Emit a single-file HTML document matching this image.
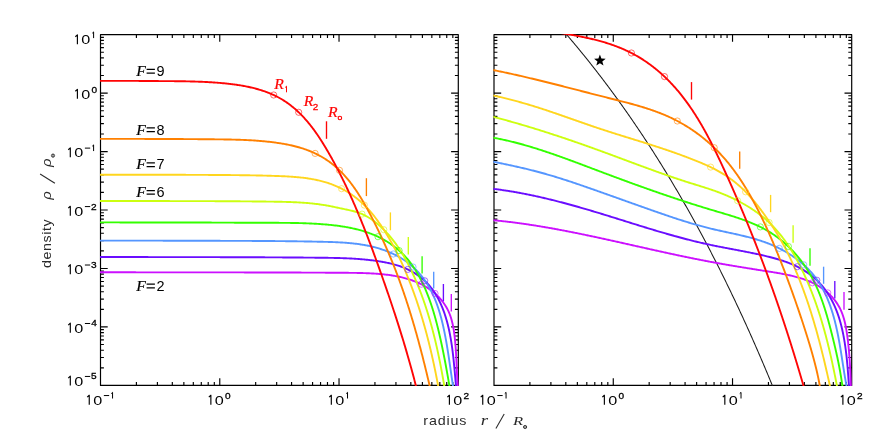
<!DOCTYPE html>
<html><head><meta charset="utf-8"><title>density profiles</title>
<style>
html,body{margin:0;padding:0;background:#fff;}
body{width:894px;height:447px;overflow:hidden;font-family:"Liberation Sans",sans-serif;}
svg{display:block;}
.s{font-family:"Liberation Sans",sans-serif;}
.i{font-family:"Liberation Serif",serif;font-style:italic;}
</style></head><body>
<svg width="894" height="447" viewBox="0 0 894 447" style="will-change:transform">
<rect width="894" height="447" fill="#fff"/>
<defs>
<clipPath id="cl"><rect x="99.9" y="34.05" width="359.00" height="351.95"/></clipPath>
<clipPath id="cr"><rect x="493.4" y="34.05" width="358.90" height="351.95"/></clipPath>
</defs>

<polygon points="599.90,54.50 601.40,58.54 605.70,58.71 602.33,61.39 603.49,65.54 599.90,63.15 596.31,65.54 597.47,61.39 594.10,58.71 598.40,58.54" fill="#000"/>
<g stroke="#000" stroke-width="1.18" fill="none" stroke-linecap="butt" stroke-linejoin="round">
<rect x="100.5" y="34.65" width="357.8" height="350.75"/>
<path d="M136.40,385.4v-3.4M136.40,34.65v3.4M157.40,385.4v-3.4M157.40,34.65v3.4M172.31,385.4v-3.4M172.31,34.65v3.4M183.86,385.4v-3.4M183.86,34.65v3.4M193.31,385.4v-3.4M193.31,34.65v3.4M201.29,385.4v-3.4M201.29,34.65v3.4M208.21,385.4v-3.4M208.21,34.65v3.4M214.31,385.4v-3.4M214.31,34.65v3.4M219.77,385.4v-7.2M219.77,34.65v7.2M255.67,385.4v-3.4M255.67,34.65v3.4M276.67,385.4v-3.4M276.67,34.65v3.4M291.57,385.4v-3.4M291.57,34.65v3.4M303.13,385.4v-3.4M303.13,34.65v3.4M312.57,385.4v-3.4M312.57,34.65v3.4M320.56,385.4v-3.4M320.56,34.65v3.4M327.48,385.4v-3.4M327.48,34.65v3.4M333.58,385.4v-3.4M333.58,34.65v3.4M339.03,385.4v-7.2M339.03,34.65v7.2M374.94,385.4v-3.4M374.94,34.65v3.4M395.94,385.4v-3.4M395.94,34.65v3.4M410.84,385.4v-3.4M410.84,34.65v3.4M422.40,385.4v-3.4M422.40,34.65v3.4M431.84,385.4v-3.4M431.84,34.65v3.4M439.83,385.4v-3.4M439.83,34.65v3.4M446.74,385.4v-3.4M446.74,34.65v3.4M452.84,385.4v-3.4M452.84,34.65v3.4M100.5,367.80h3.4M458.3,367.80h-3.4M100.5,357.51h3.4M458.3,357.51h-3.4M100.5,350.20h3.4M458.3,350.20h-3.4M100.5,344.54h3.4M458.3,344.54h-3.4M100.5,339.91h3.4M458.3,339.91h-3.4M100.5,336.00h3.4M458.3,336.00h-3.4M100.5,332.61h3.4M458.3,332.61h-3.4M100.5,329.62h3.4M458.3,329.62h-3.4M100.5,326.94h7.2M458.3,326.94h-7.2M100.5,309.34h3.4M458.3,309.34h-3.4M100.5,299.05h3.4M458.3,299.05h-3.4M100.5,291.75h3.4M458.3,291.75h-3.4M100.5,286.08h3.4M458.3,286.08h-3.4M100.5,281.45h3.4M458.3,281.45h-3.4M100.5,277.54h3.4M458.3,277.54h-3.4M100.5,274.15h3.4M458.3,274.15h-3.4M100.5,271.16h3.4M458.3,271.16h-3.4M100.5,268.48h7.2M458.3,268.48h-7.2M100.5,250.89h3.4M458.3,250.89h-3.4M100.5,240.59h3.4M458.3,240.59h-3.4M100.5,233.29h3.4M458.3,233.29h-3.4M100.5,227.62h3.4M458.3,227.62h-3.4M100.5,222.99h3.4M458.3,222.99h-3.4M100.5,219.08h3.4M458.3,219.08h-3.4M100.5,215.69h3.4M458.3,215.69h-3.4M100.5,212.70h3.4M458.3,212.70h-3.4M100.5,210.02h7.2M458.3,210.02h-7.2M100.5,192.43h3.4M458.3,192.43h-3.4M100.5,182.13h3.4M458.3,182.13h-3.4M100.5,174.83h3.4M458.3,174.83h-3.4M100.5,169.16h3.4M458.3,169.16h-3.4M100.5,164.54h3.4M458.3,164.54h-3.4M100.5,160.62h3.4M458.3,160.62h-3.4M100.5,157.23h3.4M458.3,157.23h-3.4M100.5,154.24h3.4M458.3,154.24h-3.4M100.5,151.57h7.2M458.3,151.57h-7.2M100.5,133.97h3.4M458.3,133.97h-3.4M100.5,123.67h3.4M458.3,123.67h-3.4M100.5,116.37h3.4M458.3,116.37h-3.4M100.5,110.71h3.4M458.3,110.71h-3.4M100.5,106.08h3.4M458.3,106.08h-3.4M100.5,102.16h3.4M458.3,102.16h-3.4M100.5,98.77h3.4M458.3,98.77h-3.4M100.5,95.78h3.4M458.3,95.78h-3.4M100.5,93.11h7.2M458.3,93.11h-7.2M100.5,75.51h3.4M458.3,75.51h-3.4M100.5,65.22h3.4M458.3,65.22h-3.4M100.5,57.91h3.4M458.3,57.91h-3.4M100.5,52.25h3.4M458.3,52.25h-3.4M100.5,47.62h3.4M458.3,47.62h-3.4M100.5,43.71h3.4M458.3,43.71h-3.4M100.5,40.32h3.4M458.3,40.32h-3.4M100.5,37.32h3.4M458.3,37.32h-3.4" stroke-width="1.15"/>
</g>
<g stroke="#000" stroke-width="1.18" fill="none" stroke-linecap="butt" stroke-linejoin="round">
<rect x="494.0" y="34.65" width="357.70000000000005" height="350.75"/>
<path d="M529.90,385.4v-3.4M529.90,34.65v3.4M550.90,385.4v-3.4M550.90,34.65v3.4M565.81,385.4v-3.4M565.81,34.65v3.4M577.36,385.4v-3.4M577.36,34.65v3.4M586.81,385.4v-3.4M586.81,34.65v3.4M594.79,385.4v-3.4M594.79,34.65v3.4M601.71,385.4v-3.4M601.71,34.65v3.4M607.81,385.4v-3.4M607.81,34.65v3.4M613.27,385.4v-7.2M613.27,34.65v7.2M649.17,385.4v-3.4M649.17,34.65v3.4M670.17,385.4v-3.4M670.17,34.65v3.4M685.07,385.4v-3.4M685.07,34.65v3.4M696.63,385.4v-3.4M696.63,34.65v3.4M706.07,385.4v-3.4M706.07,34.65v3.4M714.06,385.4v-3.4M714.06,34.65v3.4M720.98,385.4v-3.4M720.98,34.65v3.4M727.08,385.4v-3.4M727.08,34.65v3.4M732.53,385.4v-7.2M732.53,34.65v7.2M768.44,385.4v-3.4M768.44,34.65v3.4M789.44,385.4v-3.4M789.44,34.65v3.4M804.34,385.4v-3.4M804.34,34.65v3.4M815.90,385.4v-3.4M815.90,34.65v3.4M825.34,385.4v-3.4M825.34,34.65v3.4M833.33,385.4v-3.4M833.33,34.65v3.4M840.24,385.4v-3.4M840.24,34.65v3.4M846.34,385.4v-3.4M846.34,34.65v3.4M494.0,367.80h3.4M851.7,367.80h-3.4M494.0,357.51h3.4M851.7,357.51h-3.4M494.0,350.20h3.4M851.7,350.20h-3.4M494.0,344.54h3.4M851.7,344.54h-3.4M494.0,339.91h3.4M851.7,339.91h-3.4M494.0,336.00h3.4M851.7,336.00h-3.4M494.0,332.61h3.4M851.7,332.61h-3.4M494.0,329.62h3.4M851.7,329.62h-3.4M494.0,326.94h7.2M851.7,326.94h-7.2M494.0,309.34h3.4M851.7,309.34h-3.4M494.0,299.05h3.4M851.7,299.05h-3.4M494.0,291.75h3.4M851.7,291.75h-3.4M494.0,286.08h3.4M851.7,286.08h-3.4M494.0,281.45h3.4M851.7,281.45h-3.4M494.0,277.54h3.4M851.7,277.54h-3.4M494.0,274.15h3.4M851.7,274.15h-3.4M494.0,271.16h3.4M851.7,271.16h-3.4M494.0,268.48h7.2M851.7,268.48h-7.2M494.0,250.89h3.4M851.7,250.89h-3.4M494.0,240.59h3.4M851.7,240.59h-3.4M494.0,233.29h3.4M851.7,233.29h-3.4M494.0,227.62h3.4M851.7,227.62h-3.4M494.0,222.99h3.4M851.7,222.99h-3.4M494.0,219.08h3.4M851.7,219.08h-3.4M494.0,215.69h3.4M851.7,215.69h-3.4M494.0,212.70h3.4M851.7,212.70h-3.4M494.0,210.02h7.2M851.7,210.02h-7.2M494.0,192.43h3.4M851.7,192.43h-3.4M494.0,182.13h3.4M851.7,182.13h-3.4M494.0,174.83h3.4M851.7,174.83h-3.4M494.0,169.16h3.4M851.7,169.16h-3.4M494.0,164.54h3.4M851.7,164.54h-3.4M494.0,160.62h3.4M851.7,160.62h-3.4M494.0,157.23h3.4M851.7,157.23h-3.4M494.0,154.24h3.4M851.7,154.24h-3.4M494.0,151.57h7.2M851.7,151.57h-7.2M494.0,133.97h3.4M851.7,133.97h-3.4M494.0,123.67h3.4M851.7,123.67h-3.4M494.0,116.37h3.4M851.7,116.37h-3.4M494.0,110.71h3.4M851.7,110.71h-3.4M494.0,106.08h3.4M851.7,106.08h-3.4M494.0,102.16h3.4M851.7,102.16h-3.4M494.0,98.77h3.4M851.7,98.77h-3.4M494.0,95.78h3.4M851.7,95.78h-3.4M494.0,93.11h7.2M851.7,93.11h-7.2M494.0,75.51h3.4M851.7,75.51h-3.4M494.0,65.22h3.4M851.7,65.22h-3.4M494.0,57.91h3.4M851.7,57.91h-3.4M494.0,52.25h3.4M851.7,52.25h-3.4M494.0,47.62h3.4M851.7,47.62h-3.4M494.0,43.71h3.4M851.7,43.71h-3.4M494.0,40.32h3.4M851.7,40.32h-3.4M494.0,37.32h3.4M851.7,37.32h-3.4" stroke-width="1.15"/>
</g>
<g clip-path="url(#cl)" fill="none" stroke-linejoin="round">
<path d="M89.99,272.27 L90.90,272.27 L91.81,272.28 L92.72,272.28 L93.63,272.28 L94.54,272.28 L95.45,272.28 L96.36,272.28 L97.27,272.28 L98.18,272.29 L99.09,272.29 L100.00,272.29 L100.91,272.29 L101.82,272.29 L102.73,272.29 L103.64,272.29 L104.55,272.29 L105.46,272.29 L106.36,272.30 L107.27,272.30 L108.18,272.30 L109.09,272.30 L110.00,272.30 L110.91,272.30 L111.82,272.30 L112.73,272.30 L113.64,272.30 L114.55,272.31 L115.46,272.31 L116.37,272.31 L117.28,272.31 L118.19,272.31 L119.10,272.31 L120.01,272.31 L120.91,272.31 L121.82,272.31 L122.73,272.31 L123.64,272.31 L124.55,272.32 L125.46,272.32 L126.37,272.32 L127.28,272.32 L128.19,272.32 L129.10,272.32 L130.01,272.32 L130.92,272.32 L131.83,272.32 L132.74,272.32 L133.64,272.32 L134.55,272.32 L135.46,272.32 L136.37,272.33 L137.28,272.33 L138.19,272.33 L139.10,272.33 L140.01,272.33 L140.92,272.33 L141.83,272.33 L142.74,272.33 L143.65,272.33 L144.56,272.33 L145.46,272.33 L146.37,272.33 L147.28,272.33 L148.19,272.33 L149.10,272.33 L150.01,272.34 L150.92,272.34 L151.83,272.34 L152.74,272.34 L153.65,272.34 L154.56,272.34 L155.47,272.34 L156.37,272.34 L157.28,272.34 L158.19,272.34 L159.10,272.34 L160.01,272.34 L160.92,272.34 L161.83,272.34 L162.74,272.34 L163.65,272.34 L164.56,272.35 L165.47,272.35 L166.38,272.35 L167.28,272.35 L168.19,272.35 L169.10,272.35 L170.01,272.35 L170.92,272.35 L171.83,272.35 L172.74,272.35 L173.65,272.35 L174.56,272.35 L175.47,272.35 L176.38,272.35 L177.28,272.35 L178.19,272.35 L179.10,272.36 L180.01,272.36 L180.92,272.36 L181.83,272.36 L182.74,272.36 L183.65,272.36 L184.56,272.36 L185.47,272.36 L186.38,272.36 L187.28,272.36 L188.19,272.36 L189.10,272.36 L190.01,272.36 L190.92,272.36 L191.83,272.36 L192.74,272.37 L193.65,272.37 L194.56,272.37 L195.47,272.37 L196.38,272.37 L197.28,272.37 L198.19,272.37 L199.10,272.37 L200.01,272.37 L200.92,272.37 L201.83,272.37 L202.74,272.37 L203.65,272.37 L204.56,272.38 L205.47,272.38 L206.38,272.38 L207.29,272.38 L208.19,272.38 L209.10,272.38 L210.01,272.38 L210.92,272.38 L211.83,272.38 L212.74,272.38 L213.65,272.38 L214.56,272.39 L215.47,272.39 L216.38,272.39 L217.29,272.39 L218.19,272.39 L219.10,272.39 L220.01,272.39 L220.92,272.39 L221.83,272.39 L222.74,272.39 L223.65,272.40 L224.56,272.40 L225.47,272.40 L226.38,272.40 L227.29,272.40 L228.19,272.40 L229.10,272.40 L230.01,272.40 L230.92,272.41 L231.83,272.41 L232.74,272.41 L233.65,272.41 L234.56,272.41 L235.47,272.41 L236.38,272.41 L237.29,272.41 L238.20,272.42 L239.10,272.42 L240.01,272.42 L240.92,272.42 L241.83,272.42 L242.74,272.42 L243.65,272.42 L244.56,272.43 L245.47,272.43 L246.38,272.43 L247.29,272.43 L248.20,272.43 L249.11,272.43 L250.01,272.44 L250.92,272.44 L251.83,272.44 L252.74,272.44 L253.65,272.44 L254.56,272.44 L255.47,272.45 L256.38,272.45 L257.29,272.45 L258.20,272.45 L259.11,272.45 L260.02,272.46 L260.93,272.46 L261.83,272.46 L262.74,272.46 L263.65,272.46 L264.56,272.47 L265.47,272.47 L266.38,272.47 L267.29,272.47 L268.20,272.47 L269.11,272.48 L270.02,272.48 L270.93,272.48 L271.84,272.48 L272.75,272.49 L273.66,272.49 L274.57,272.49 L275.47,272.49 L276.38,272.49 L277.29,272.50 L278.20,272.50 L279.11,272.50 L280.02,272.50 L280.93,272.51 L281.84,272.51 L282.75,272.51 L283.66,272.51 L284.57,272.52 L285.48,272.52 L286.39,272.52 L287.30,272.53 L288.21,272.53 L289.12,272.53 L290.02,272.53 L290.93,272.54 L291.84,272.54 L292.75,272.54 L293.66,272.55 L294.57,272.55 L295.48,272.55 L296.39,272.56 L297.30,272.56 L298.21,272.56 L299.12,272.57 L300.03,272.57 L300.94,272.57 L301.85,272.58 L302.76,272.58 L303.67,272.58 L304.58,272.59 L305.49,272.59 L306.40,272.59 L307.31,272.60 L308.21,272.60 L309.12,272.60 L310.03,272.61 L310.94,272.61 L311.85,272.61 L312.76,272.62 L313.67,272.62 L314.58,272.63 L315.49,272.63 L316.40,272.63 L317.31,272.64 L318.22,272.64 L319.13,272.65 L320.04,272.65 L320.95,272.65 L321.86,272.66 L322.77,272.66 L323.68,272.67 L324.59,272.67 L325.50,272.68 L326.41,272.68 L327.32,272.69 L328.23,272.69 L329.13,272.69 L330.04,272.70 L330.95,272.70 L331.86,272.71 L332.77,272.72 L333.68,272.72 L334.59,272.73 L335.50,272.73 L336.41,272.74 L337.31,272.74 L338.22,272.75 L339.13,272.75 L340.04,272.76 L340.95,272.77 L341.85,272.77 L342.76,272.78 L343.67,272.79 L344.58,272.79 L345.48,272.80 L346.39,272.81 L347.30,272.82 L348.21,272.82 L349.11,272.83 L350.02,272.84 L350.92,272.85 L351.83,272.86 L352.74,272.87 L353.64,272.88 L354.55,272.89 L355.46,272.90 L356.36,272.92 L357.27,272.93 L358.18,272.95 L359.09,272.97 L359.99,272.99 L360.90,273.01 L361.81,273.03 L362.72,273.06 L363.63,273.08 L364.54,273.11 L365.45,273.14 L366.36,273.18 L367.27,273.21 L368.18,273.25 L369.10,273.29 L370.01,273.33 L370.92,273.38 L371.84,273.43 L372.75,273.48 L373.67,273.54 L374.59,273.59 L375.51,273.65 L376.43,273.72 L377.35,273.79 L378.27,273.86 L379.19,273.94 L380.11,274.01 L381.03,274.10 L381.95,274.19 L382.87,274.28 L383.79,274.37 L384.71,274.47 L385.63,274.58 L386.55,274.69 L387.47,274.80 L388.38,274.92 L389.30,275.05 L390.22,275.18 L391.13,275.31 L392.04,275.45 L392.95,275.60 L393.86,275.75 L394.77,275.91 L395.68,276.07 L396.58,276.24 L397.49,276.42 L398.39,276.60 L399.29,276.79 L400.18,276.99 L401.08,277.19 L401.97,277.40 L402.85,277.61 L403.74,277.84 L404.62,278.07 L405.50,278.30 L406.38,278.55 L407.25,278.80 L408.12,279.06 L408.99,279.33 L409.85,279.60 L410.71,279.89 L411.56,280.18 L412.41,280.48 L413.26,280.79 L414.10,281.11 L414.94,281.43 L415.77,281.76 L416.60,282.11 L417.43,282.46 L418.25,282.82 L419.06,283.19 L419.87,283.57 L420.67,283.96 L421.47,284.36 L422.27,284.77 L423.05,285.19 L423.84,285.61 L424.61,286.05 L425.38,286.50 L426.15,286.96 L426.91,287.43 L427.66,287.91 L428.40,288.40 L429.14,288.90 L429.87,289.41 L430.60,289.94 L431.32,290.47 L432.03,291.02 L432.73,291.57 L433.43,292.13 L434.12,292.71 L434.80,293.30 L435.47,293.89 L436.13,294.50 L436.78,295.11 L437.42,295.74 L438.06,296.37 L438.68,297.02 L439.29,297.67 L439.89,298.33 L440.49,299.01 L441.07,299.69 L441.64,300.38 L442.20,301.08 L442.74,301.79 L443.28,302.50 L443.80,303.23 L444.31,303.96 L444.81,304.71 L445.29,305.46 L445.77,306.22 L446.23,306.98 L446.67,307.76 L447.10,308.54 L447.52,309.33 L447.92,310.13 L448.31,310.94 L448.68,311.75 L449.04,312.58 L449.38,313.40 L449.71,314.24 L450.03,315.08 L450.34,315.93 L450.63,316.78 L450.91,317.64 L451.18,318.51 L451.44,319.38 L451.68,320.25 L451.92,321.13 L452.14,322.01 L452.36,322.90 L452.57,323.79 L452.76,324.69 L452.95,325.59 L453.13,326.49 L453.30,327.39 L453.46,328.30 L453.62,329.21 L453.77,330.12 L453.91,331.04 L454.05,331.95 L454.17,332.87 L454.30,333.78 L454.42,334.70 L454.53,335.62 L454.64,336.54 L454.74,337.46 L454.85,338.38 L454.94,339.29 L455.04,340.21 L455.13,341.13 L455.21,342.05 L455.29,342.96 L455.37,343.88 L455.45,344.80 L455.53,345.71 L455.60,346.63 L455.66,347.55 L455.73,348.46 L455.79,349.38 L455.85,350.29 L455.91,351.21 L455.97,352.12 L456.02,353.03 L456.08,353.95 L456.13,354.86 L456.18,355.77 L456.23,356.68 L456.27,357.60 L456.32,358.51 L456.36,359.42 L456.41,360.33 L456.45,361.24 L456.49,362.15 L456.53,363.06 L456.58,363.97 L456.62,364.87 L456.66,365.78 L456.70,366.69 L456.74,367.59 L456.78,368.50 L456.82,369.41 L456.86,370.31 L456.90,371.21 L456.95,372.12 L456.99,373.02 L457.04,373.92 L457.08,374.83 L457.13,375.73 L457.18,376.63 L457.23,377.53 L457.28,378.43 L457.33,379.33 L457.39,380.22 L457.44,381.12 L457.50,382.02 L457.56,382.91 L457.62,383.81 L457.69,384.70 L457.76,385.60 L457.83,386.49 L457.90,387.38 L457.98,388.27 L458.06,389.16 L458.14,390.05 L458.23,390.94 L458.32,391.83" stroke="#cc10ff" stroke-width="1.9"/>
<path d="M90.00,256.94 L90.92,256.95 L91.84,256.95 L92.76,256.95 L93.67,256.96 L94.59,256.96 L95.51,256.96 L96.43,256.97 L97.35,256.97 L98.27,256.97 L99.18,256.98 L100.10,256.98 L101.02,256.98 L101.94,256.98 L102.86,256.99 L103.77,256.99 L104.69,256.99 L105.61,256.99 L106.53,257.00 L107.45,257.00 L108.36,257.00 L109.28,257.00 L110.20,257.01 L111.12,257.01 L112.04,257.01 L112.96,257.01 L113.87,257.02 L114.79,257.02 L115.71,257.02 L116.63,257.02 L117.55,257.02 L118.46,257.03 L119.38,257.03 L120.30,257.03 L121.22,257.03 L122.14,257.03 L123.06,257.03 L123.97,257.04 L124.89,257.04 L125.81,257.04 L126.73,257.04 L127.65,257.04 L128.56,257.05 L129.48,257.05 L130.40,257.05 L131.32,257.05 L132.24,257.05 L133.16,257.05 L134.07,257.05 L134.99,257.06 L135.91,257.06 L136.83,257.06 L137.75,257.06 L138.67,257.06 L139.58,257.06 L140.50,257.06 L141.42,257.07 L142.34,257.07 L143.26,257.07 L144.17,257.07 L145.09,257.07 L146.01,257.07 L146.93,257.07 L147.85,257.07 L148.77,257.08 L149.68,257.08 L150.60,257.08 L151.52,257.08 L152.44,257.08 L153.36,257.08 L154.28,257.08 L155.19,257.08 L156.11,257.08 L157.03,257.09 L157.95,257.09 L158.87,257.09 L159.78,257.09 L160.70,257.09 L161.62,257.09 L162.54,257.09 L163.46,257.09 L164.38,257.09 L165.29,257.10 L166.21,257.10 L167.13,257.10 L168.05,257.10 L168.97,257.10 L169.89,257.10 L170.80,257.10 L171.72,257.10 L172.64,257.10 L173.56,257.10 L174.48,257.11 L175.40,257.11 L176.31,257.11 L177.23,257.11 L178.15,257.11 L179.07,257.11 L179.99,257.11 L180.90,257.11 L181.82,257.11 L182.74,257.12 L183.66,257.12 L184.58,257.12 L185.50,257.12 L186.41,257.12 L187.33,257.12 L188.25,257.12 L189.17,257.12 L190.09,257.12 L191.01,257.13 L191.92,257.13 L192.84,257.13 L193.76,257.13 L194.68,257.13 L195.60,257.13 L196.52,257.13 L197.43,257.13 L198.35,257.14 L199.27,257.14 L200.19,257.14 L201.11,257.14 L202.02,257.14 L202.94,257.14 L203.86,257.14 L204.78,257.15 L205.70,257.15 L206.62,257.15 L207.53,257.15 L208.45,257.15 L209.37,257.15 L210.29,257.16 L211.21,257.16 L212.13,257.16 L213.04,257.16 L213.96,257.16 L214.88,257.16 L215.80,257.17 L216.72,257.17 L217.64,257.17 L218.55,257.17 L219.47,257.17 L220.39,257.18 L221.31,257.18 L222.23,257.18 L223.15,257.18 L224.06,257.18 L224.98,257.19 L225.90,257.19 L226.82,257.19 L227.74,257.19 L228.65,257.20 L229.57,257.20 L230.49,257.20 L231.41,257.20 L232.33,257.21 L233.25,257.21 L234.16,257.21 L235.08,257.21 L236.00,257.22 L236.92,257.22 L237.84,257.22 L238.76,257.22 L239.67,257.23 L240.59,257.23 L241.51,257.23 L242.43,257.24 L243.35,257.24 L244.26,257.24 L245.18,257.24 L246.10,257.25 L247.02,257.25 L247.94,257.25 L248.86,257.26 L249.77,257.26 L250.69,257.26 L251.61,257.27 L252.53,257.27 L253.45,257.28 L254.37,257.28 L255.28,257.28 L256.20,257.29 L257.12,257.29 L258.04,257.29 L258.96,257.30 L259.87,257.30 L260.79,257.31 L261.71,257.31 L262.63,257.32 L263.55,257.32 L264.47,257.32 L265.38,257.33 L266.30,257.33 L267.22,257.34 L268.14,257.34 L269.06,257.35 L269.97,257.35 L270.89,257.36 L271.81,257.36 L272.73,257.37 L273.65,257.37 L274.57,257.38 L275.48,257.38 L276.40,257.39 L277.32,257.39 L278.24,257.40 L279.16,257.40 L280.07,257.41 L280.99,257.41 L281.91,257.42 L282.83,257.43 L283.75,257.43 L284.67,257.44 L285.58,257.44 L286.50,257.45 L287.42,257.46 L288.34,257.46 L289.26,257.47 L290.17,257.47 L291.09,257.48 L292.01,257.49 L292.93,257.49 L293.85,257.50 L294.76,257.51 L295.68,257.52 L296.60,257.52 L297.52,257.53 L298.44,257.54 L299.36,257.54 L300.27,257.55 L301.19,257.56 L302.11,257.57 L303.03,257.57 L303.95,257.58 L304.86,257.59 L305.78,257.60 L306.70,257.61 L307.62,257.61 L308.54,257.62 L309.45,257.63 L310.37,257.64 L311.29,257.65 L312.21,257.66 L313.13,257.66 L314.04,257.67 L314.96,257.68 L315.88,257.69 L316.80,257.70 L317.72,257.71 L318.64,257.72 L319.55,257.73 L320.47,257.74 L321.39,257.75 L322.31,257.76 L323.23,257.77 L324.14,257.78 L325.06,257.79 L325.98,257.80 L326.90,257.81 L327.82,257.82 L328.73,257.84 L329.65,257.85 L330.57,257.87 L331.49,257.88 L332.41,257.90 L333.32,257.92 L334.24,257.94 L335.16,257.95 L336.08,257.98 L337.00,258.00 L337.91,258.02 L338.83,258.05 L339.75,258.07 L340.67,258.10 L341.58,258.13 L342.50,258.16 L343.42,258.19 L344.34,258.22 L345.26,258.26 L346.17,258.30 L347.09,258.34 L348.01,258.38 L348.93,258.42 L349.85,258.46 L350.76,258.51 L351.68,258.56 L352.60,258.61 L353.52,258.67 L354.44,258.72 L355.35,258.78 L356.27,258.84 L357.19,258.90 L358.11,258.97 L359.02,259.04 L359.94,259.11 L360.86,259.18 L361.78,259.26 L362.70,259.34 L363.61,259.42 L364.53,259.51 L365.45,259.59 L366.37,259.69 L367.28,259.78 L368.20,259.88 L369.12,259.98 L370.04,260.08 L370.95,260.19 L371.87,260.30 L372.79,260.42 L373.71,260.54 L374.63,260.66 L375.54,260.78 L376.46,260.91 L377.38,261.05 L378.30,261.18 L379.21,261.33 L380.13,261.47 L381.05,261.62 L381.96,261.78 L382.87,261.94 L383.79,262.10 L384.70,262.27 L385.61,262.45 L386.52,262.63 L387.43,262.82 L388.33,263.02 L389.24,263.22 L390.14,263.42 L391.04,263.64 L391.93,263.86 L392.83,264.09 L393.72,264.32 L394.61,264.57 L395.49,264.82 L396.37,265.08 L397.25,265.35 L398.13,265.62 L399.00,265.91 L399.87,266.20 L400.73,266.50 L401.59,266.81 L402.44,267.14 L403.30,267.47 L404.14,267.81 L404.98,268.16 L405.82,268.52 L406.65,268.89 L407.48,269.27 L408.30,269.66 L409.12,270.06 L409.93,270.47 L410.73,270.89 L411.53,271.33 L412.32,271.77 L413.11,272.22 L413.88,272.68 L414.66,273.15 L415.42,273.63 L416.18,274.12 L416.93,274.62 L417.67,275.13 L418.41,275.65 L419.14,276.18 L419.86,276.72 L420.57,277.27 L421.28,277.83 L421.97,278.39 L422.66,278.97 L423.34,279.55 L424.01,280.15 L424.67,280.75 L425.32,281.37 L425.96,281.99 L426.59,282.62 L427.22,283.26 L427.83,283.91 L428.43,284.57 L429.02,285.24 L429.61,285.91 L430.18,286.60 L430.74,287.29 L431.30,287.99 L431.84,288.70 L432.38,289.42 L432.91,290.14 L433.43,290.87 L433.93,291.61 L434.43,292.36 L434.93,293.11 L435.41,293.87 L435.88,294.64 L436.35,295.42 L436.80,296.20 L437.25,296.98 L437.69,297.78 L438.13,298.57 L438.55,299.38 L438.97,300.19 L439.38,301.01 L439.78,301.83 L440.17,302.65 L440.56,303.49 L440.93,304.32 L441.30,305.16 L441.67,306.01 L442.02,306.86 L442.37,307.72 L442.71,308.58 L443.05,309.44 L443.38,310.31 L443.70,311.18 L444.01,312.05 L444.32,312.93 L444.62,313.81 L444.92,314.70 L445.21,315.58 L445.49,316.47 L445.77,317.37 L446.04,318.26 L446.30,319.16 L446.56,320.06 L446.82,320.96 L447.07,321.87 L447.31,322.77 L447.54,323.68 L447.78,324.59 L448.00,325.50 L448.22,326.41 L448.44,327.33 L448.65,328.24 L448.86,329.15 L449.06,330.07 L449.25,330.98 L449.45,331.90 L449.63,332.81 L449.82,333.73 L450.00,334.64 L450.17,335.56 L450.34,336.47 L450.51,337.39 L450.67,338.30 L450.83,339.21 L450.98,340.13 L451.13,341.04 L451.28,341.95 L451.42,342.86 L451.56,343.77 L451.70,344.69 L451.84,345.60 L451.97,346.51 L452.09,347.42 L452.22,348.33 L452.34,349.24 L452.46,350.15 L452.58,351.05 L452.69,351.96 L452.80,352.87 L452.91,353.78 L453.02,354.69 L453.12,355.59 L453.23,356.50 L453.33,357.41 L453.43,358.32 L453.52,359.22 L453.62,360.13 L453.71,361.04 L453.80,361.94 L453.90,362.85 L453.98,363.75 L454.07,364.66 L454.16,365.57 L454.25,366.47 L454.33,367.38 L454.42,368.28 L454.50,369.19 L454.58,370.09 L454.66,371.00 L454.75,371.90 L454.83,372.81 L454.91,373.71 L454.99,374.62 L455.07,375.52 L455.15,376.43 L455.23,377.34 L455.31,378.24 L455.39,379.15 L455.47,380.05 L455.56,380.96 L455.64,381.86 L455.72,382.77 L455.81,383.67 L455.89,384.58 L455.98,385.48 L456.06,386.39 L456.15,387.30 L456.24,388.20 L456.33,389.11 L456.42,390.02 L456.52,390.92 L456.61,391.83" stroke="#6a0dff" stroke-width="1.9"/>
<path d="M90.02,240.62 L90.94,240.62 L91.87,240.62 L92.80,240.62 L93.72,240.62 L94.65,240.62 L95.58,240.62 L96.50,240.62 L97.43,240.62 L98.36,240.62 L99.28,240.62 L100.21,240.62 L101.14,240.62 L102.06,240.62 L102.99,240.62 L103.92,240.62 L104.84,240.62 L105.77,240.62 L106.70,240.62 L107.63,240.62 L108.55,240.62 L109.48,240.62 L110.41,240.62 L111.33,240.62 L112.26,240.62 L113.19,240.62 L114.12,240.62 L115.04,240.62 L115.97,240.62 L116.90,240.62 L117.83,240.62 L118.75,240.62 L119.68,240.62 L120.61,240.62 L121.54,240.62 L122.46,240.62 L123.39,240.62 L124.32,240.62 L125.25,240.62 L126.18,240.62 L127.10,240.62 L128.03,240.62 L128.96,240.62 L129.89,240.62 L130.81,240.62 L131.74,240.62 L132.67,240.62 L133.60,240.62 L134.53,240.62 L135.45,240.62 L136.38,240.62 L137.31,240.62 L138.24,240.62 L139.17,240.62 L140.09,240.62 L141.02,240.62 L141.95,240.63 L142.88,240.63 L143.81,240.63 L144.74,240.63 L145.66,240.63 L146.59,240.64 L147.52,240.64 L148.45,240.64 L149.38,240.64 L150.30,240.64 L151.23,240.65 L152.16,240.65 L153.09,240.65 L154.02,240.65 L154.95,240.66 L155.87,240.66 L156.80,240.66 L157.73,240.66 L158.66,240.66 L159.59,240.67 L160.52,240.67 L161.44,240.67 L162.37,240.67 L163.30,240.68 L164.23,240.68 L165.16,240.68 L166.09,240.68 L167.01,240.69 L167.94,240.69 L168.87,240.69 L169.80,240.69 L170.73,240.70 L171.66,240.70 L172.58,240.70 L173.51,240.70 L174.44,240.71 L175.37,240.71 L176.30,240.71 L177.23,240.71 L178.15,240.72 L179.08,240.72 L180.01,240.72 L180.94,240.73 L181.87,240.73 L182.80,240.73 L183.72,240.73 L184.65,240.74 L185.58,240.74 L186.51,240.74 L187.44,240.74 L188.36,240.75 L189.29,240.75 L190.22,240.75 L191.15,240.75 L192.08,240.76 L193.00,240.76 L193.93,240.76 L194.86,240.76 L195.79,240.77 L196.72,240.77 L197.64,240.77 L198.57,240.77 L199.50,240.78 L200.43,240.78 L201.36,240.78 L202.28,240.78 L203.21,240.79 L204.14,240.79 L205.07,240.79 L205.99,240.79 L206.92,240.80 L207.85,240.80 L208.78,240.80 L209.70,240.80 L210.63,240.80 L211.56,240.81 L212.49,240.81 L213.42,240.81 L214.34,240.81 L215.27,240.81 L216.20,240.82 L217.12,240.82 L218.05,240.82 L218.98,240.82 L219.91,240.82 L220.83,240.83 L221.76,240.83 L222.69,240.83 L223.62,240.83 L224.54,240.83 L225.47,240.84 L226.40,240.84 L227.32,240.84 L228.25,240.84 L229.18,240.85 L230.11,240.85 L231.03,240.85 L231.96,240.85 L232.89,240.86 L233.81,240.86 L234.74,240.86 L235.67,240.86 L236.60,240.87 L237.52,240.87 L238.45,240.87 L239.38,240.87 L240.30,240.88 L241.23,240.88 L242.16,240.88 L243.09,240.89 L244.01,240.89 L244.94,240.89 L245.87,240.90 L246.79,240.90 L247.72,240.90 L248.65,240.91 L249.58,240.91 L250.50,240.92 L251.43,240.92 L252.36,240.93 L253.28,240.93 L254.21,240.93 L255.14,240.94 L256.07,240.94 L256.99,240.95 L257.92,240.95 L258.85,240.96 L259.78,240.96 L260.70,240.97 L261.63,240.97 L262.56,240.98 L263.48,240.99 L264.41,240.99 L265.34,241.00 L266.27,241.00 L267.19,241.01 L268.12,241.02 L269.05,241.02 L269.98,241.03 L270.90,241.04 L271.83,241.05 L272.76,241.05 L273.69,241.06 L274.61,241.07 L275.54,241.08 L276.47,241.08 L277.40,241.09 L278.33,241.10 L279.25,241.11 L280.18,241.12 L281.11,241.13 L282.04,241.14 L282.96,241.15 L283.89,241.16 L284.82,241.17 L285.75,241.18 L286.68,241.19 L287.60,241.20 L288.53,241.21 L289.46,241.22 L290.39,241.23 L291.32,241.24 L292.25,241.26 L293.17,241.27 L294.10,241.28 L295.03,241.29 L295.96,241.31 L296.89,241.32 L297.82,241.33 L298.75,241.35 L299.67,241.36 L300.60,241.38 L301.53,241.39 L302.46,241.40 L303.39,241.42 L304.32,241.43 L305.25,241.45 L306.18,241.47 L307.11,241.48 L308.04,241.50 L308.96,241.52 L309.89,241.53 L310.82,241.55 L311.75,241.57 L312.68,241.59 L313.61,241.60 L314.54,241.62 L315.47,241.64 L316.40,241.66 L317.33,241.68 L318.26,241.70 L319.19,241.72 L320.12,241.74 L321.05,241.76 L321.98,241.78 L322.91,241.80 L323.84,241.83 L324.77,241.85 L325.70,241.87 L326.63,241.90 L327.56,241.92 L328.49,241.95 L329.42,241.98 L330.35,242.01 L331.28,242.04 L332.21,242.07 L333.14,242.10 L334.07,242.14 L335.00,242.17 L335.93,242.21 L336.86,242.25 L337.78,242.30 L338.71,242.34 L339.64,242.39 L340.56,242.44 L341.49,242.50 L342.42,242.55 L343.34,242.61 L344.27,242.67 L345.19,242.74 L346.11,242.81 L347.04,242.88 L347.96,242.96 L348.88,243.04 L349.80,243.12 L350.72,243.21 L351.64,243.30 L352.56,243.39 L353.48,243.49 L354.40,243.59 L355.31,243.70 L356.23,243.81 L357.15,243.93 L358.06,244.05 L358.97,244.18 L359.89,244.31 L360.80,244.45 L361.71,244.59 L362.62,244.73 L363.52,244.89 L364.43,245.05 L365.34,245.21 L366.24,245.38 L367.15,245.55 L368.05,245.74 L368.95,245.92 L369.85,246.12 L370.75,246.32 L371.65,246.52 L372.55,246.74 L373.44,246.96 L374.34,247.18 L375.23,247.42 L376.12,247.66 L377.01,247.91 L377.90,248.16 L378.79,248.42 L379.67,248.69 L380.56,248.97 L381.44,249.26 L382.32,249.55 L383.20,249.85 L384.08,250.16 L384.95,250.48 L385.82,250.80 L386.69,251.13 L387.56,251.47 L388.42,251.82 L389.28,252.18 L390.14,252.54 L391.00,252.92 L391.85,253.30 L392.69,253.69 L393.53,254.08 L394.37,254.49 L395.21,254.90 L396.04,255.33 L396.86,255.76 L397.68,256.20 L398.50,256.64 L399.31,257.10 L400.11,257.57 L400.91,258.04 L401.70,258.52 L402.49,259.01 L403.27,259.51 L404.04,260.02 L404.81,260.54 L405.57,261.06 L406.33,261.60 L407.07,262.14 L407.81,262.69 L408.55,263.26 L409.27,263.83 L409.99,264.41 L410.70,264.99 L411.41,265.59 L412.10,266.19 L412.79,266.81 L413.47,267.43 L414.15,268.05 L414.81,268.69 L415.47,269.33 L416.12,269.98 L416.77,270.64 L417.40,271.31 L418.03,271.98 L418.65,272.66 L419.26,273.35 L419.86,274.04 L420.46,274.74 L421.05,275.45 L421.63,276.17 L422.20,276.89 L422.76,277.61 L423.32,278.35 L423.86,279.09 L424.40,279.83 L424.93,280.58 L425.45,281.34 L425.97,282.10 L426.47,282.87 L426.97,283.64 L427.46,284.42 L427.94,285.20 L428.41,285.99 L428.87,286.78 L429.33,287.58 L429.78,288.39 L430.22,289.19 L430.65,290.01 L431.08,290.82 L431.50,291.65 L431.91,292.47 L432.32,293.30 L432.71,294.14 L433.11,294.97 L433.49,295.82 L433.87,296.66 L434.24,297.51 L434.60,298.37 L434.96,299.22 L435.31,300.08 L435.65,300.95 L435.99,301.81 L436.33,302.68 L436.65,303.56 L436.97,304.43 L437.29,305.31 L437.60,306.20 L437.90,307.08 L438.20,307.97 L438.49,308.86 L438.78,309.75 L439.06,310.64 L439.34,311.54 L439.61,312.44 L439.88,313.34 L440.14,314.24 L440.40,315.15 L440.65,316.06 L440.90,316.96 L441.15,317.87 L441.39,318.78 L441.62,319.70 L441.86,320.61 L442.08,321.52 L442.31,322.44 L442.53,323.36 L442.74,324.27 L442.96,325.19 L443.17,326.11 L443.37,327.03 L443.57,327.95 L443.77,328.87 L443.97,329.79 L444.16,330.71 L444.35,331.64 L444.54,332.56 L444.72,333.48 L444.90,334.40 L445.08,335.32 L445.26,336.24 L445.43,337.16 L445.61,338.08 L445.78,339.00 L445.94,339.91 L446.11,340.83 L446.27,341.75 L446.43,342.67 L446.59,343.58 L446.75,344.50 L446.90,345.42 L447.06,346.33 L447.21,347.25 L447.36,348.16 L447.51,349.08 L447.66,349.99 L447.80,350.91 L447.95,351.82 L448.09,352.73 L448.23,353.65 L448.37,354.56 L448.51,355.47 L448.65,356.38 L448.79,357.30 L448.93,358.21 L449.06,359.12 L449.20,360.03 L449.33,360.94 L449.46,361.85 L449.60,362.76 L449.73,363.67 L449.86,364.58 L449.99,365.49 L450.12,366.40 L450.26,367.31 L450.39,368.22 L450.52,369.12 L450.65,370.03 L450.78,370.94 L450.91,371.85 L451.04,372.76 L451.17,373.66 L451.30,374.57 L451.43,375.48 L451.56,376.38 L451.69,377.29 L451.83,378.20 L451.96,379.10 L452.09,380.01 L452.23,380.91 L452.36,381.82 L452.50,382.72 L452.63,383.63 L452.77,384.53 L452.91,385.44 L453.05,386.34 L453.19,387.25 L453.33,388.15 L453.47,389.06 L453.62,389.96 L453.76,390.86 L453.91,391.77" stroke="#5596ff" stroke-width="1.9"/>
<path d="M90.00,222.38 L90.93,222.38 L91.87,222.38 L92.81,222.38 L93.75,222.39 L94.69,222.39 L95.63,222.39 L96.57,222.39 L97.51,222.39 L98.45,222.39 L99.39,222.40 L100.32,222.40 L101.26,222.40 L102.20,222.40 L103.14,222.40 L104.08,222.40 L105.02,222.41 L105.96,222.41 L106.90,222.41 L107.83,222.41 L108.77,222.41 L109.71,222.41 L110.65,222.41 L111.59,222.42 L112.53,222.42 L113.47,222.42 L114.41,222.42 L115.34,222.42 L116.28,222.42 L117.22,222.42 L118.16,222.42 L119.10,222.42 L120.04,222.43 L120.98,222.43 L121.91,222.43 L122.85,222.43 L123.79,222.43 L124.73,222.43 L125.67,222.43 L126.61,222.43 L127.55,222.43 L128.48,222.43 L129.42,222.43 L130.36,222.44 L131.30,222.44 L132.24,222.44 L133.18,222.44 L134.12,222.44 L135.05,222.44 L135.99,222.44 L136.93,222.44 L137.87,222.44 L138.81,222.44 L139.75,222.44 L140.69,222.44 L141.62,222.44 L142.56,222.45 L143.50,222.45 L144.44,222.45 L145.38,222.45 L146.32,222.45 L147.25,222.45 L148.19,222.45 L149.13,222.45 L150.07,222.45 L151.01,222.45 L151.95,222.45 L152.89,222.45 L153.82,222.46 L154.76,222.46 L155.70,222.46 L156.64,222.46 L157.58,222.46 L158.52,222.46 L159.45,222.46 L160.39,222.46 L161.33,222.46 L162.27,222.46 L163.21,222.46 L164.15,222.47 L165.09,222.47 L166.02,222.47 L166.96,222.47 L167.90,222.47 L168.84,222.47 L169.78,222.47 L170.72,222.47 L171.65,222.48 L172.59,222.48 L173.53,222.48 L174.47,222.48 L175.41,222.48 L176.35,222.48 L177.29,222.48 L178.22,222.49 L179.16,222.49 L180.10,222.49 L181.04,222.49 L181.98,222.49 L182.92,222.49 L183.86,222.50 L184.79,222.50 L185.73,222.50 L186.67,222.50 L187.61,222.50 L188.55,222.51 L189.49,222.51 L190.43,222.51 L191.36,222.51 L192.30,222.51 L193.24,222.52 L194.18,222.52 L195.12,222.52 L196.06,222.52 L197.00,222.53 L197.93,222.53 L198.87,222.53 L199.81,222.54 L200.75,222.54 L201.69,222.54 L202.63,222.54 L203.57,222.55 L204.51,222.55 L205.44,222.55 L206.38,222.56 L207.32,222.56 L208.26,222.56 L209.20,222.57 L210.14,222.57 L211.08,222.57 L212.02,222.58 L212.95,222.58 L213.89,222.59 L214.83,222.59 L215.77,222.59 L216.71,222.60 L217.65,222.60 L218.59,222.61 L219.53,222.61 L220.47,222.61 L221.40,222.62 L222.34,222.62 L223.28,222.63 L224.22,222.63 L225.16,222.63 L226.10,222.64 L227.04,222.64 L227.98,222.65 L228.92,222.65 L229.85,222.66 L230.79,222.66 L231.73,222.66 L232.67,222.67 L233.61,222.67 L234.55,222.68 L235.49,222.68 L236.43,222.68 L237.37,222.69 L238.30,222.69 L239.24,222.70 L240.18,222.70 L241.12,222.71 L242.06,222.71 L243.00,222.71 L243.94,222.72 L244.88,222.72 L245.81,222.72 L246.75,222.73 L247.69,222.73 L248.63,222.74 L249.57,222.74 L250.51,222.74 L251.45,222.75 L252.38,222.75 L253.32,222.75 L254.26,222.76 L255.20,222.76 L256.14,222.76 L257.08,222.77 L258.01,222.77 L258.95,222.77 L259.89,222.78 L260.83,222.78 L261.77,222.78 L262.71,222.78 L263.64,222.79 L264.58,222.79 L265.52,222.79 L266.46,222.79 L267.40,222.79 L268.33,222.80 L269.27,222.80 L270.21,222.80 L271.15,222.80 L272.09,222.80 L273.02,222.81 L273.96,222.81 L274.90,222.81 L275.84,222.81 L276.78,222.82 L277.71,222.82 L278.65,222.82 L279.59,222.83 L280.53,222.83 L281.46,222.84 L282.40,222.84 L283.34,222.85 L284.28,222.86 L285.22,222.86 L286.15,222.87 L287.09,222.88 L288.03,222.89 L288.97,222.90 L289.91,222.91 L290.84,222.93 L291.78,222.94 L292.72,222.96 L293.66,222.97 L294.60,222.99 L295.54,223.01 L296.47,223.03 L297.41,223.05 L298.35,223.07 L299.29,223.09 L300.23,223.12 L301.17,223.15 L302.11,223.17 L303.04,223.20 L303.98,223.23 L304.92,223.27 L305.86,223.30 L306.80,223.34 L307.74,223.37 L308.68,223.41 L309.62,223.46 L310.56,223.50 L311.50,223.54 L312.44,223.59 L313.38,223.64 L314.32,223.69 L315.26,223.75 L316.20,223.80 L317.14,223.86 L318.08,223.92 L319.02,223.98 L319.96,224.05 L320.90,224.11 L321.85,224.18 L322.79,224.25 L323.73,224.33 L324.67,224.41 L325.61,224.49 L326.55,224.57 L327.50,224.65 L328.44,224.74 L329.38,224.83 L330.32,224.93 L331.26,225.02 L332.20,225.12 L333.14,225.23 L334.08,225.34 L335.02,225.45 L335.96,225.56 L336.90,225.68 L337.84,225.80 L338.78,225.93 L339.71,226.06 L340.65,226.19 L341.58,226.33 L342.51,226.48 L343.45,226.62 L344.38,226.78 L345.31,226.93 L346.24,227.09 L347.16,227.26 L348.09,227.43 L349.01,227.61 L349.94,227.79 L350.86,227.98 L351.78,228.17 L352.69,228.36 L353.61,228.57 L354.53,228.78 L355.44,228.99 L356.35,229.21 L357.26,229.44 L358.16,229.67 L359.07,229.91 L359.97,230.15 L360.87,230.40 L361.77,230.66 L362.66,230.92 L363.55,231.19 L364.44,231.47 L365.33,231.75 L366.22,232.04 L367.10,232.34 L367.98,232.64 L368.85,232.95 L369.73,233.27 L370.60,233.60 L371.47,233.93 L372.33,234.27 L373.19,234.62 L374.05,234.97 L374.90,235.34 L375.76,235.71 L376.60,236.09 L377.45,236.48 L378.29,236.87 L379.13,237.28 L379.96,237.69 L380.79,238.11 L381.62,238.54 L382.44,238.98 L383.26,239.43 L384.07,239.88 L384.88,240.35 L385.69,240.82 L386.49,241.30 L387.29,241.79 L388.08,242.29 L388.86,242.80 L389.65,243.31 L390.42,243.83 L391.19,244.36 L391.96,244.90 L392.72,245.45 L393.47,246.01 L394.22,246.57 L394.97,247.14 L395.70,247.72 L396.43,248.31 L397.16,248.90 L397.87,249.51 L398.58,250.12 L399.29,250.74 L399.98,251.36 L400.67,251.99 L401.35,252.64 L402.03,253.28 L402.70,253.94 L403.36,254.60 L404.01,255.28 L404.65,255.95 L405.29,256.64 L405.91,257.33 L406.53,258.03 L407.14,258.74 L407.75,259.45 L408.34,260.17 L408.93,260.90 L409.51,261.63 L410.08,262.37 L410.65,263.12 L411.21,263.87 L411.76,264.62 L412.30,265.39 L412.84,266.15 L413.37,266.93 L413.89,267.70 L414.40,268.49 L414.91,269.27 L415.42,270.07 L415.91,270.86 L416.40,271.66 L416.88,272.47 L417.36,273.28 L417.83,274.09 L418.30,274.90 L418.76,275.72 L419.21,276.55 L419.66,277.37 L420.10,278.20 L420.53,279.03 L420.96,279.87 L421.39,280.71 L421.81,281.55 L422.22,282.39 L422.63,283.23 L423.04,284.08 L423.44,284.93 L423.83,285.78 L424.22,286.64 L424.60,287.49 L424.98,288.35 L425.36,289.21 L425.73,290.08 L426.09,290.94 L426.45,291.81 L426.81,292.68 L427.16,293.55 L427.51,294.42 L427.85,295.30 L428.19,296.17 L428.52,297.05 L428.85,297.93 L429.18,298.82 L429.50,299.70 L429.82,300.58 L430.13,301.47 L430.44,302.36 L430.75,303.25 L431.05,304.14 L431.35,305.03 L431.65,305.93 L431.94,306.82 L432.23,307.72 L432.51,308.62 L432.79,309.52 L433.07,310.42 L433.35,311.32 L433.62,312.22 L433.89,313.13 L434.15,314.03 L434.41,314.94 L434.67,315.84 L434.93,316.75 L435.18,317.66 L435.43,318.57 L435.68,319.48 L435.93,320.39 L436.17,321.30 L436.41,322.21 L436.65,323.12 L436.88,324.03 L437.12,324.95 L437.35,325.86 L437.58,326.77 L437.80,327.69 L438.03,328.60 L438.25,329.52 L438.47,330.43 L438.69,331.34 L438.91,332.26 L439.12,333.17 L439.33,334.09 L439.54,335.00 L439.75,335.92 L439.96,336.83 L440.17,337.75 L440.37,338.66 L440.58,339.58 L440.78,340.49 L440.98,341.41 L441.18,342.32 L441.38,343.23 L441.57,344.15 L441.77,345.06 L441.96,345.98 L442.15,346.89 L442.35,347.81 L442.54,348.72 L442.72,349.64 L442.91,350.55 L443.10,351.47 L443.28,352.38 L443.47,353.30 L443.65,354.21 L443.83,355.13 L444.01,356.04 L444.19,356.96 L444.37,357.87 L444.55,358.79 L444.72,359.71 L444.90,360.62 L445.07,361.54 L445.25,362.46 L445.42,363.38 L445.59,364.29 L445.76,365.21 L445.93,366.13 L446.10,367.05 L446.27,367.97 L446.44,368.89 L446.60,369.81 L446.77,370.73 L446.94,371.65 L447.10,372.57 L447.27,373.49 L447.43,374.42 L447.59,375.34 L447.75,376.26 L447.92,377.19 L448.08,378.11 L448.24,379.04 L448.40,379.96 L448.56,380.89 L448.72,381.81 L448.88,382.74 L449.04,383.67 L449.19,384.60 L449.35,385.53 L449.51,386.46 L449.67,387.39 L449.82,388.32 L449.98,389.25 L450.14,390.18 L450.29,391.12 L450.45,392.05" stroke="#33ff00" stroke-width="1.9"/>
<path d="M90.00,200.97 L90.96,200.97 L91.91,200.97 L92.87,200.98 L93.82,200.98 L94.78,200.98 L95.73,200.99 L96.69,200.99 L97.64,200.99 L98.60,201.00 L99.55,201.00 L100.50,201.00 L101.46,201.00 L102.41,201.01 L103.37,201.01 L104.32,201.01 L105.28,201.01 L106.23,201.01 L107.19,201.02 L108.14,201.02 L109.10,201.02 L110.05,201.02 L111.01,201.02 L111.96,201.03 L112.92,201.03 L113.87,201.03 L114.83,201.03 L115.78,201.03 L116.74,201.03 L117.69,201.04 L118.64,201.04 L119.60,201.04 L120.55,201.04 L121.51,201.04 L122.46,201.04 L123.42,201.04 L124.37,201.04 L125.33,201.04 L126.28,201.05 L127.24,201.05 L128.19,201.05 L129.15,201.05 L130.10,201.05 L131.06,201.05 L132.01,201.05 L132.97,201.05 L133.92,201.05 L134.88,201.05 L135.83,201.05 L136.79,201.05 L137.74,201.06 L138.70,201.06 L139.65,201.06 L140.61,201.06 L141.56,201.06 L142.52,201.06 L143.47,201.06 L144.43,201.06 L145.38,201.06 L146.34,201.06 L147.29,201.06 L148.25,201.06 L149.20,201.06 L150.16,201.06 L151.11,201.06 L152.07,201.06 L153.02,201.06 L153.98,201.06 L154.93,201.06 L155.89,201.07 L156.84,201.07 L157.80,201.07 L158.75,201.07 L159.71,201.07 L160.66,201.07 L161.62,201.07 L162.57,201.07 L163.53,201.07 L164.48,201.07 L165.44,201.07 L166.39,201.07 L167.35,201.07 L168.30,201.07 L169.26,201.07 L170.21,201.08 L171.17,201.08 L172.12,201.08 L173.08,201.08 L174.03,201.08 L174.99,201.08 L175.94,201.08 L176.90,201.08 L177.85,201.08 L178.81,201.08 L179.76,201.09 L180.72,201.09 L181.67,201.09 L182.63,201.09 L183.58,201.09 L184.54,201.09 L185.49,201.09 L186.45,201.10 L187.40,201.10 L188.36,201.10 L189.31,201.10 L190.27,201.10 L191.22,201.10 L192.18,201.11 L193.13,201.11 L194.09,201.11 L195.04,201.11 L196.00,201.12 L196.95,201.12 L197.91,201.12 L198.86,201.12 L199.82,201.13 L200.77,201.13 L201.73,201.13 L202.68,201.13 L203.64,201.14 L204.59,201.14 L205.55,201.14 L206.50,201.15 L207.46,201.15 L208.41,201.15 L209.36,201.16 L210.32,201.16 L211.27,201.16 L212.23,201.17 L213.18,201.17 L214.14,201.17 L215.09,201.18 L216.05,201.18 L217.00,201.19 L217.96,201.19 L218.91,201.20 L219.87,201.20 L220.82,201.21 L221.78,201.21 L222.73,201.22 L223.68,201.22 L224.64,201.23 L225.59,201.23 L226.55,201.24 L227.50,201.24 L228.46,201.25 L229.41,201.25 L230.37,201.26 L231.32,201.26 L232.28,201.27 L233.23,201.28 L234.18,201.28 L235.14,201.29 L236.09,201.30 L237.05,201.30 L238.00,201.31 L238.96,201.32 L239.91,201.32 L240.87,201.33 L241.82,201.34 L242.78,201.35 L243.73,201.35 L244.69,201.36 L245.64,201.37 L246.60,201.38 L247.55,201.39 L248.51,201.40 L249.46,201.40 L250.42,201.41 L251.37,201.42 L252.33,201.43 L253.28,201.44 L254.24,201.45 L255.19,201.46 L256.15,201.47 L257.10,201.48 L258.06,201.49 L259.01,201.50 L259.97,201.51 L260.92,201.52 L261.88,201.53 L262.83,201.54 L263.79,201.55 L264.74,201.56 L265.70,201.57 L266.65,201.59 L267.61,201.60 L268.57,201.61 L269.52,201.62 L270.48,201.63 L271.43,201.65 L272.39,201.66 L273.34,201.67 L274.30,201.69 L275.26,201.70 L276.21,201.71 L277.17,201.73 L278.12,201.75 L279.08,201.76 L280.03,201.78 L280.99,201.80 L281.94,201.82 L282.90,201.84 L283.85,201.87 L284.81,201.89 L285.76,201.91 L286.72,201.94 L287.67,201.97 L288.63,202.00 L289.58,202.03 L290.54,202.07 L291.49,202.10 L292.44,202.14 L293.40,202.18 L294.35,202.22 L295.30,202.26 L296.26,202.31 L297.21,202.36 L298.16,202.41 L299.11,202.46 L300.06,202.52 L301.02,202.58 L301.97,202.64 L302.92,202.70 L303.87,202.77 L304.82,202.84 L305.77,202.92 L306.72,202.99 L307.67,203.07 L308.62,203.15 L309.56,203.24 L310.51,203.33 L311.46,203.42 L312.41,203.52 L313.35,203.62 L314.30,203.73 L315.24,203.83 L316.19,203.95 L317.13,204.06 L318.08,204.18 L319.02,204.31 L319.97,204.44 L320.91,204.57 L321.85,204.71 L322.79,204.85 L323.73,204.99 L324.67,205.15 L325.61,205.30 L326.55,205.46 L327.49,205.63 L328.43,205.80 L329.37,205.97 L330.30,206.15 L331.24,206.34 L332.18,206.53 L333.11,206.72 L334.05,206.91 L334.98,207.11 L335.92,207.31 L336.86,207.51 L337.79,207.72 L338.73,207.92 L339.67,208.12 L340.60,208.33 L341.54,208.53 L342.48,208.73 L343.42,208.93 L344.37,209.13 L345.31,209.33 L346.25,209.53 L347.20,209.72 L348.14,209.92 L349.08,210.13 L350.02,210.33 L350.96,210.55 L351.89,210.77 L352.83,210.99 L353.75,211.23 L354.68,211.48 L355.60,211.74 L356.51,212.02 L357.42,212.30 L358.32,212.61 L359.21,212.93 L360.10,213.27 L360.98,213.62 L361.86,213.99 L362.72,214.38 L363.58,214.78 L364.43,215.19 L365.28,215.62 L366.12,216.07 L366.95,216.53 L367.78,217.00 L368.59,217.49 L369.41,217.99 L370.21,218.50 L371.01,219.02 L371.80,219.55 L372.58,220.10 L373.36,220.66 L374.13,221.22 L374.89,221.80 L375.65,222.39 L376.40,222.99 L377.14,223.59 L377.88,224.21 L378.61,224.83 L379.33,225.46 L380.05,226.10 L380.76,226.75 L381.46,227.40 L382.16,228.06 L382.85,228.73 L383.53,229.40 L384.20,230.07 L384.87,230.76 L385.53,231.44 L386.19,232.14 L386.84,232.84 L387.48,233.54 L388.12,234.25 L388.75,234.96 L389.38,235.68 L389.99,236.41 L390.61,237.14 L391.21,237.87 L391.81,238.61 L392.41,239.35 L393.00,240.10 L393.58,240.85 L394.16,241.61 L394.73,242.37 L395.29,243.13 L395.85,243.90 L396.41,244.67 L396.96,245.45 L397.50,246.23 L398.04,247.02 L398.57,247.81 L399.10,248.60 L399.63,249.40 L400.14,250.19 L400.66,251.00 L401.16,251.80 L401.67,252.61 L402.17,253.43 L402.66,254.24 L403.15,255.06 L403.63,255.89 L404.11,256.71 L404.59,257.54 L405.06,258.37 L405.53,259.21 L405.99,260.04 L406.45,260.88 L406.90,261.72 L407.35,262.57 L407.80,263.42 L408.24,264.27 L408.68,265.12 L409.11,265.97 L409.54,266.83 L409.97,267.68 L410.39,268.54 L410.81,269.40 L411.22,270.27 L411.63,271.13 L412.04,272.00 L412.45,272.87 L412.85,273.74 L413.24,274.61 L413.64,275.48 L414.03,276.36 L414.42,277.23 L414.80,278.11 L415.19,278.98 L415.57,279.86 L415.94,280.74 L416.32,281.62 L416.69,282.50 L417.05,283.38 L417.42,284.27 L417.78,285.15 L418.14,286.04 L418.50,286.92 L418.85,287.81 L419.20,288.69 L419.55,289.58 L419.90,290.47 L420.24,291.36 L420.58,292.25 L420.92,293.15 L421.25,294.04 L421.58,294.93 L421.91,295.83 L422.24,296.72 L422.56,297.62 L422.89,298.51 L423.21,299.41 L423.52,300.31 L423.84,301.21 L424.15,302.11 L424.46,303.01 L424.76,303.91 L425.07,304.81 L425.37,305.72 L425.67,306.62 L425.97,307.53 L426.26,308.43 L426.55,309.34 L426.84,310.25 L427.13,311.15 L427.42,312.06 L427.70,312.97 L427.98,313.88 L428.26,314.79 L428.54,315.70 L428.81,316.61 L429.08,317.53 L429.35,318.44 L429.62,319.35 L429.89,320.27 L430.15,321.18 L430.41,322.10 L430.67,323.02 L430.93,323.93 L431.18,324.85 L431.44,325.77 L431.69,326.69 L431.94,327.61 L432.18,328.53 L432.43,329.45 L432.67,330.37 L432.91,331.29 L433.15,332.21 L433.39,333.14 L433.63,334.06 L433.86,334.99 L434.09,335.91 L434.32,336.84 L434.55,337.76 L434.78,338.69 L435.00,339.61 L435.22,340.54 L435.45,341.47 L435.67,342.40 L435.88,343.33 L436.10,344.26 L436.31,345.19 L436.53,346.12 L436.74,347.05 L436.95,347.98 L437.16,348.91 L437.36,349.84 L437.57,350.77 L437.77,351.71 L437.97,352.64 L438.17,353.57 L438.37,354.51 L438.57,355.44 L438.77,356.38 L438.96,357.31 L439.15,358.25 L439.35,359.18 L439.54,360.12 L439.72,361.06 L439.91,361.99 L440.10,362.93 L440.28,363.87 L440.47,364.81 L440.65,365.75 L440.83,366.69 L441.01,367.62 L441.19,368.56 L441.37,369.50 L441.54,370.44 L441.72,371.38 L441.89,372.32 L442.07,373.27 L442.24,374.21 L442.41,375.15 L442.58,376.09 L442.75,377.03 L442.91,377.97 L443.08,378.92 L443.25,379.86 L443.41,380.80 L443.57,381.74 L443.74,382.69 L443.90,383.63 L444.06,384.57 L444.22,385.52 L444.38,386.46 L444.54,387.41 L444.69,388.35 L444.85,389.29 L445.01,390.24 L445.16,391.18 L445.31,392.13" stroke="#ccff10" stroke-width="1.9"/>
<path d="M90.02,174.70 L90.99,174.70 L91.97,174.70 L92.94,174.70 L93.91,174.70 L94.88,174.70 L95.85,174.70 L96.82,174.70 L97.79,174.70 L98.77,174.70 L99.74,174.70 L100.71,174.70 L101.68,174.70 L102.65,174.70 L103.62,174.70 L104.60,174.70 L105.57,174.70 L106.54,174.70 L107.51,174.70 L108.49,174.70 L109.46,174.70 L110.43,174.70 L111.40,174.70 L112.38,174.70 L113.35,174.70 L114.32,174.70 L115.29,174.70 L116.27,174.70 L117.24,174.70 L118.21,174.70 L119.18,174.70 L120.16,174.71 L121.13,174.71 L122.10,174.71 L123.08,174.71 L124.05,174.71 L125.02,174.71 L126.00,174.71 L126.97,174.71 L127.94,174.71 L128.92,174.71 L129.89,174.71 L130.86,174.71 L131.84,174.71 L132.81,174.71 L133.79,174.71 L134.76,174.71 L135.73,174.72 L136.71,174.72 L137.68,174.72 L138.65,174.72 L139.63,174.72 L140.60,174.72 L141.58,174.72 L142.55,174.72 L143.52,174.72 L144.50,174.73 L145.47,174.73 L146.44,174.73 L147.42,174.73 L148.39,174.73 L149.37,174.73 L150.34,174.73 L151.31,174.74 L152.29,174.74 L153.26,174.74 L154.24,174.74 L155.21,174.74 L156.18,174.74 L157.16,174.75 L158.13,174.75 L159.11,174.75 L160.08,174.75 L161.05,174.75 L162.03,174.76 L163.00,174.76 L163.98,174.76 L164.95,174.76 L165.92,174.76 L166.90,174.77 L167.87,174.77 L168.85,174.77 L169.82,174.77 L170.79,174.78 L171.77,174.78 L172.74,174.78 L173.72,174.78 L174.69,174.79 L175.66,174.79 L176.64,174.79 L177.61,174.80 L178.58,174.80 L179.56,174.80 L180.53,174.81 L181.51,174.81 L182.48,174.81 L183.45,174.82 L184.43,174.82 L185.40,174.82 L186.37,174.83 L187.35,174.83 L188.32,174.83 L189.29,174.84 L190.27,174.84 L191.24,174.84 L192.21,174.85 L193.19,174.85 L194.16,174.86 L195.13,174.86 L196.11,174.87 L197.08,174.87 L198.05,174.87 L199.02,174.88 L200.00,174.88 L200.97,174.89 L201.94,174.89 L202.91,174.90 L203.89,174.90 L204.86,174.91 L205.83,174.91 L206.80,174.92 L207.78,174.92 L208.75,174.93 L209.72,174.93 L210.69,174.94 L211.67,174.94 L212.64,174.95 L213.61,174.95 L214.58,174.96 L215.55,174.97 L216.52,174.97 L217.50,174.98 L218.47,174.98 L219.44,174.99 L220.41,175.00 L221.38,175.00 L222.35,175.01 L223.32,175.02 L224.30,175.02 L225.27,175.03 L226.24,175.04 L227.21,175.05 L228.18,175.06 L229.15,175.06 L230.13,175.07 L231.10,175.08 L232.07,175.09 L233.04,175.10 L234.01,175.11 L234.98,175.12 L235.96,175.13 L236.93,175.14 L237.90,175.15 L238.87,175.16 L239.84,175.18 L240.82,175.19 L241.79,175.20 L242.76,175.21 L243.74,175.23 L244.71,175.24 L245.68,175.26 L246.65,175.27 L247.63,175.29 L248.60,175.30 L249.57,175.32 L250.55,175.33 L251.52,175.35 L252.50,175.37 L253.47,175.39 L254.45,175.40 L255.42,175.42 L256.40,175.44 L257.37,175.46 L258.35,175.48 L259.32,175.51 L260.30,175.53 L261.27,175.55 L262.25,175.57 L263.23,175.60 L264.20,175.62 L265.18,175.65 L266.16,175.67 L267.14,175.70 L268.11,175.72 L269.09,175.75 L270.07,175.78 L271.05,175.81 L272.03,175.84 L273.01,175.87 L273.99,175.90 L274.97,175.93 L275.95,175.96 L276.93,176.00 L277.91,176.03 L278.89,176.07 L279.87,176.10 L280.85,176.14 L281.83,176.18 L282.81,176.23 L283.80,176.27 L284.78,176.32 L285.76,176.37 L286.74,176.42 L287.72,176.47 L288.70,176.53 L289.67,176.59 L290.65,176.65 L291.63,176.72 L292.61,176.78 L293.58,176.86 L294.56,176.93 L295.53,177.01 L296.51,177.09 L297.48,177.18 L298.45,177.27 L299.42,177.37 L300.39,177.47 L301.36,177.57 L302.33,177.68 L303.29,177.80 L304.26,177.92 L305.22,178.04 L306.19,178.17 L307.15,178.31 L308.11,178.45 L309.06,178.60 L310.02,178.75 L310.97,178.91 L311.93,179.07 L312.88,179.25 L313.83,179.42 L314.77,179.61 L315.72,179.80 L316.66,180.00 L317.60,180.20 L318.54,180.41 L319.48,180.63 L320.41,180.86 L321.34,181.10 L322.27,181.34 L323.20,181.59 L324.13,181.85 L325.05,182.12 L325.97,182.39 L326.88,182.67 L327.80,182.97 L328.71,183.27 L329.62,183.58 L330.53,183.90 L331.43,184.23 L332.33,184.56 L333.23,184.91 L334.12,185.27 L335.01,185.64 L335.90,186.01 L336.78,186.40 L337.66,186.79 L338.54,187.20 L339.41,187.61 L340.28,188.03 L341.15,188.47 L342.01,188.91 L342.87,189.36 L343.72,189.82 L344.57,190.29 L345.41,190.76 L346.25,191.25 L347.08,191.74 L347.91,192.25 L348.74,192.76 L349.56,193.28 L350.37,193.81 L351.18,194.35 L351.98,194.90 L352.78,195.46 L353.57,196.02 L354.35,196.59 L355.13,197.18 L355.91,197.77 L356.67,198.36 L357.43,198.97 L358.19,199.58 L358.94,200.21 L359.68,200.84 L360.41,201.48 L361.14,202.12 L361.86,202.78 L362.58,203.44 L363.28,204.11 L363.98,204.78 L364.68,205.47 L365.37,206.16 L366.05,206.86 L366.72,207.56 L367.39,208.27 L368.06,208.99 L368.71,209.71 L369.36,210.44 L370.01,211.17 L370.65,211.91 L371.28,212.65 L371.91,213.40 L372.54,214.16 L373.15,214.92 L373.77,215.68 L374.38,216.45 L374.98,217.22 L375.58,218.00 L376.17,218.78 L376.76,219.56 L377.34,220.35 L377.92,221.14 L378.49,221.94 L379.06,222.73 L379.63,223.53 L380.19,224.33 L380.75,225.14 L381.30,225.95 L381.85,226.76 L382.39,227.57 L382.93,228.38 L383.47,229.20 L384.00,230.02 L384.53,230.84 L385.05,231.66 L385.57,232.49 L386.09,233.32 L386.60,234.15 L387.11,234.98 L387.62,235.82 L388.12,236.65 L388.62,237.49 L389.11,238.33 L389.60,239.17 L390.09,240.02 L390.57,240.86 L391.05,241.71 L391.53,242.56 L392.00,243.41 L392.47,244.27 L392.94,245.12 L393.40,245.98 L393.86,246.84 L394.32,247.70 L394.77,248.56 L395.22,249.43 L395.66,250.29 L396.11,251.16 L396.55,252.03 L396.98,252.90 L397.42,253.77 L397.85,254.65 L398.28,255.52 L398.70,256.40 L399.13,257.28 L399.54,258.15 L399.96,259.03 L400.37,259.92 L400.79,260.80 L401.19,261.68 L401.60,262.57 L402.00,263.46 L402.40,264.34 L402.80,265.23 L403.19,266.12 L403.59,267.02 L403.98,267.91 L404.36,268.80 L404.75,269.70 L405.13,270.59 L405.51,271.49 L405.89,272.38 L406.26,273.28 L406.64,274.18 L407.01,275.08 L407.37,275.98 L407.74,276.88 L408.11,277.79 L408.47,278.69 L408.83,279.59 L409.19,280.50 L409.54,281.40 L409.89,282.31 L410.25,283.21 L410.60,284.12 L410.94,285.03 L411.29,285.94 L411.63,286.85 L411.97,287.76 L412.31,288.67 L412.65,289.58 L412.98,290.49 L413.32,291.41 L413.65,292.32 L413.98,293.23 L414.31,294.15 L414.63,295.06 L414.95,295.98 L415.28,296.90 L415.59,297.81 L415.91,298.73 L416.23,299.65 L416.54,300.57 L416.85,301.49 L417.16,302.41 L417.47,303.33 L417.78,304.26 L418.08,305.18 L418.38,306.10 L418.68,307.03 L418.98,307.95 L419.28,308.87 L419.57,309.80 L419.87,310.73 L420.16,311.65 L420.45,312.58 L420.74,313.51 L421.02,314.44 L421.31,315.37 L421.59,316.30 L421.87,317.23 L422.15,318.16 L422.43,319.09 L422.70,320.02 L422.97,320.95 L423.25,321.88 L423.52,322.82 L423.79,323.75 L424.05,324.69 L424.32,325.62 L424.58,326.56 L424.84,327.49 L425.10,328.43 L425.36,329.37 L425.62,330.30 L425.88,331.24 L426.13,332.18 L426.38,333.12 L426.63,334.06 L426.88,335.00 L427.13,335.94 L427.37,336.88 L427.62,337.82 L427.86,338.76 L428.10,339.70 L428.34,340.64 L428.58,341.59 L428.82,342.53 L429.05,343.47 L429.29,344.42 L429.52,345.36 L429.75,346.31 L429.98,347.25 L430.21,348.20 L430.43,349.15 L430.66,350.09 L430.88,351.04 L431.10,351.99 L431.33,352.93 L431.54,353.88 L431.76,354.83 L431.98,355.78 L432.19,356.73 L432.41,357.68 L432.62,358.63 L432.83,359.58 L433.04,360.53 L433.25,361.48 L433.46,362.43 L433.66,363.38 L433.87,364.33 L434.07,365.29 L434.27,366.24 L434.47,367.19 L434.67,368.15 L434.87,369.10 L435.07,370.05 L435.26,371.01 L435.46,371.96 L435.65,372.92 L435.84,373.87 L436.03,374.83 L436.22,375.78 L436.41,376.74 L436.60,377.69 L436.79,378.65 L436.97,379.60 L437.15,380.56 L437.34,381.52 L437.52,382.48 L437.70,383.43 L437.88,384.39 L438.06,385.35 L438.23,386.31 L438.41,387.26 L438.58,388.22 L438.76,389.18 L438.93,390.14 L439.10,391.10 L439.27,392.06" stroke="#ffd61e" stroke-width="1.9"/>
<path d="M90.00,138.92 L91.00,138.92 L92.00,138.92 L93.00,138.92 L94.00,138.92 L95.00,138.92 L96.00,138.92 L97.00,138.92 L98.00,138.92 L99.00,138.92 L100.00,138.92 L101.00,138.92 L102.00,138.92 L103.00,138.92 L104.00,138.92 L105.01,138.92 L106.01,138.92 L107.01,138.92 L108.01,138.92 L109.01,138.92 L110.01,138.92 L111.01,138.92 L112.01,138.92 L113.01,138.92 L114.01,138.92 L115.01,138.92 L116.01,138.92 L117.01,138.92 L118.01,138.92 L119.01,138.92 L120.01,138.92 L121.01,138.92 L122.01,138.92 L123.01,138.92 L124.01,138.92 L125.01,138.92 L126.01,138.92 L127.02,138.92 L128.02,138.92 L129.02,138.92 L130.02,138.92 L131.02,138.92 L132.02,138.92 L133.02,138.92 L134.02,138.92 L135.02,138.92 L136.02,138.92 L137.02,138.92 L138.02,138.92 L139.02,138.92 L140.02,138.92 L141.02,138.92 L142.02,138.92 L143.02,138.92 L144.02,138.92 L145.02,138.93 L146.02,138.93 L147.02,138.93 L148.02,138.93 L149.02,138.94 L150.02,138.94 L151.02,138.94 L152.02,138.94 L153.02,138.95 L154.02,138.95 L155.02,138.95 L156.02,138.95 L157.02,138.96 L158.02,138.96 L159.02,138.96 L160.02,138.97 L161.02,138.97 L162.02,138.97 L163.02,138.98 L164.02,138.98 L165.02,138.99 L166.02,138.99 L167.02,138.99 L168.02,139.00 L169.03,139.00 L170.03,139.01 L171.03,139.01 L172.03,139.02 L173.03,139.02 L174.03,139.03 L175.03,139.03 L176.03,139.04 L177.03,139.04 L178.03,139.05 L179.03,139.05 L180.03,139.06 L181.03,139.06 L182.03,139.07 L183.03,139.07 L184.03,139.08 L185.03,139.09 L186.03,139.09 L187.03,139.10 L188.03,139.11 L189.03,139.11 L190.03,139.12 L191.03,139.13 L192.03,139.13 L193.03,139.14 L194.03,139.15 L195.03,139.15 L196.03,139.16 L197.03,139.17 L198.03,139.18 L199.03,139.19 L200.03,139.19 L201.03,139.20 L202.03,139.21 L203.03,139.22 L204.03,139.23 L205.03,139.24 L206.03,139.25 L207.04,139.25 L208.04,139.26 L209.04,139.27 L210.04,139.28 L211.04,139.29 L212.04,139.30 L213.04,139.31 L214.04,139.32 L215.04,139.33 L216.04,139.34 L217.04,139.35 L218.04,139.36 L219.04,139.37 L220.04,139.39 L221.04,139.40 L222.04,139.41 L223.04,139.42 L224.04,139.44 L225.04,139.45 L226.04,139.47 L227.04,139.48 L228.04,139.50 L229.04,139.52 L230.04,139.54 L231.05,139.56 L232.05,139.58 L233.05,139.60 L234.05,139.63 L235.05,139.65 L236.05,139.68 L237.05,139.71 L238.05,139.74 L239.05,139.77 L240.05,139.81 L241.05,139.84 L242.05,139.88 L243.05,139.92 L244.05,139.96 L245.04,140.00 L246.04,140.05 L247.04,140.09 L248.04,140.14 L249.04,140.19 L250.04,140.25 L251.04,140.30 L252.04,140.36 L253.04,140.42 L254.04,140.49 L255.04,140.55 L256.04,140.62 L257.03,140.70 L258.03,140.77 L259.03,140.85 L260.03,140.93 L261.03,141.01 L262.03,141.10 L263.02,141.19 L264.02,141.28 L265.02,141.38 L266.02,141.48 L267.01,141.58 L268.01,141.69 L269.01,141.80 L270.01,141.92 L271.00,142.03 L272.00,142.16 L273.00,142.28 L273.99,142.41 L274.99,142.54 L275.99,142.68 L276.98,142.82 L277.98,142.97 L278.97,143.12 L279.97,143.27 L280.96,143.43 L281.96,143.59 L282.95,143.76 L283.94,143.93 L284.94,144.11 L285.93,144.30 L286.92,144.49 L287.90,144.68 L288.89,144.88 L289.88,145.09 L290.86,145.30 L291.84,145.52 L292.82,145.75 L293.80,145.98 L294.77,146.22 L295.74,146.47 L296.71,146.72 L297.68,146.98 L298.65,147.25 L299.61,147.53 L300.57,147.81 L301.52,148.11 L302.48,148.41 L303.43,148.71 L304.37,149.03 L305.32,149.36 L306.25,149.69 L307.19,150.03 L308.12,150.39 L309.05,150.75 L309.97,151.12 L310.89,151.50 L311.80,151.89 L312.71,152.29 L313.62,152.69 L314.52,153.11 L315.42,153.54 L316.31,153.97 L317.19,154.41 L318.07,154.87 L318.95,155.33 L319.82,155.80 L320.69,156.28 L321.55,156.77 L322.40,157.27 L323.25,157.77 L324.09,158.29 L324.93,158.81 L325.76,159.34 L326.58,159.89 L327.40,160.44 L328.22,160.99 L329.02,161.56 L329.82,162.14 L330.61,162.72 L331.40,163.31 L332.18,163.92 L332.95,164.53 L333.72,165.14 L334.48,165.77 L335.23,166.41 L335.97,167.05 L336.71,167.70 L337.44,168.36 L338.16,169.02 L338.88,169.70 L339.59,170.38 L340.30,171.07 L340.99,171.77 L341.69,172.47 L342.37,173.18 L343.05,173.90 L343.72,174.62 L344.39,175.35 L345.05,176.09 L345.70,176.83 L346.35,177.58 L347.00,178.34 L347.63,179.10 L348.27,179.87 L348.89,180.64 L349.51,181.42 L350.13,182.20 L350.74,182.99 L351.34,183.79 L351.94,184.59 L352.54,185.39 L353.13,186.20 L353.72,187.02 L354.30,187.84 L354.87,188.66 L355.44,189.49 L356.01,190.32 L356.57,191.15 L357.13,191.99 L357.69,192.84 L358.24,193.68 L358.78,194.53 L359.32,195.39 L359.86,196.24 L360.39,197.10 L360.92,197.97 L361.45,198.83 L361.97,199.70 L362.49,200.57 L363.01,201.45 L363.52,202.32 L364.03,203.20 L364.53,204.08 L365.04,204.96 L365.53,205.85 L366.03,206.73 L366.52,207.62 L367.02,208.51 L367.50,209.40 L367.99,210.29 L368.47,211.18 L368.95,212.07 L369.43,212.97 L369.90,213.86 L370.38,214.76 L370.85,215.65 L371.32,216.55 L371.78,217.44 L372.25,218.34 L372.71,219.24 L373.17,220.13 L373.63,221.03 L374.09,221.93 L374.54,222.83 L374.99,223.72 L375.44,224.62 L375.89,225.52 L376.34,226.42 L376.78,227.32 L377.22,228.22 L377.66,229.12 L378.10,230.02 L378.54,230.92 L378.97,231.82 L379.40,232.73 L379.83,233.63 L380.26,234.53 L380.69,235.44 L381.11,236.34 L381.54,237.24 L381.96,238.15 L382.38,239.05 L382.79,239.96 L383.21,240.87 L383.62,241.77 L384.03,242.68 L384.44,243.59 L384.85,244.50 L385.26,245.41 L385.66,246.32 L386.06,247.23 L386.46,248.14 L386.86,249.05 L387.26,249.96 L387.65,250.87 L388.05,251.79 L388.44,252.70 L388.83,253.61 L389.21,254.53 L389.60,255.45 L389.99,256.36 L390.37,257.28 L390.75,258.20 L391.13,259.12 L391.51,260.03 L391.88,260.95 L392.26,261.88 L392.63,262.80 L393.00,263.72 L393.37,264.64 L393.74,265.56 L394.10,266.49 L394.47,267.41 L394.83,268.34 L395.19,269.27 L395.55,270.19 L395.91,271.12 L396.27,272.05 L396.62,272.98 L396.98,273.91 L397.33,274.84 L397.68,275.77 L398.03,276.71 L398.37,277.64 L398.72,278.58 L399.06,279.51 L399.41,280.45 L399.75,281.38 L400.09,282.32 L400.43,283.26 L400.76,284.20 L401.10,285.14 L401.43,286.08 L401.77,287.02 L402.10,287.96 L402.43,288.90 L402.75,289.85 L403.08,290.79 L403.41,291.74 L403.73,292.68 L404.05,293.63 L404.37,294.57 L404.69,295.52 L405.01,296.47 L405.33,297.42 L405.65,298.36 L405.96,299.31 L406.27,300.26 L406.58,301.21 L406.89,302.17 L407.20,303.12 L407.51,304.07 L407.82,305.02 L408.12,305.98 L408.43,306.93 L408.73,307.88 L409.03,308.84 L409.33,309.79 L409.63,310.75 L409.93,311.71 L410.22,312.66 L410.52,313.62 L410.81,314.58 L411.11,315.54 L411.40,316.50 L411.69,317.45 L411.98,318.41 L412.26,319.37 L412.55,320.33 L412.84,321.30 L413.12,322.26 L413.40,323.22 L413.69,324.18 L413.97,325.14 L414.25,326.11 L414.53,327.07 L414.80,328.03 L415.08,329.00 L415.36,329.96 L415.63,330.92 L415.90,331.89 L416.18,332.85 L416.45,333.82 L416.72,334.78 L416.99,335.75 L417.26,336.72 L417.52,337.68 L417.79,338.65 L418.05,339.62 L418.32,340.58 L418.58,341.55 L418.84,342.52 L419.10,343.49 L419.36,344.45 L419.62,345.42 L419.88,346.39 L420.14,347.36 L420.39,348.33 L420.65,349.30 L420.90,350.27 L421.16,351.23 L421.41,352.20 L421.66,353.17 L421.91,354.14 L422.16,355.11 L422.41,356.08 L422.66,357.05 L422.91,358.02 L423.15,358.99 L423.40,359.96 L423.64,360.93 L423.89,361.90 L424.13,362.87 L424.37,363.84 L424.61,364.81 L424.85,365.79 L425.09,366.76 L425.33,367.73 L425.57,368.70 L425.81,369.67 L426.04,370.64 L426.28,371.61 L426.51,372.58 L426.75,373.55 L426.98,374.52 L427.22,375.49 L427.45,376.46 L427.68,377.43 L427.91,378.40 L428.14,379.37 L428.37,380.34 L428.60,381.31 L428.83,382.28 L429.05,383.25 L429.28,384.22 L429.51,385.19 L429.73,386.16 L429.96,387.13 L430.18,388.09 L430.40,389.06 L430.63,390.03 L430.85,391.00 L431.07,391.97" stroke="#ff8000" stroke-width="1.9"/>
<path d="M90.00,80.86 L91.05,80.86 L92.10,80.86 L93.14,80.86 L94.19,80.86 L95.23,80.86 L96.28,80.86 L97.33,80.86 L98.37,80.86 L99.42,80.86 L100.47,80.86 L101.51,80.86 L102.56,80.86 L103.60,80.86 L104.65,80.86 L105.70,80.86 L106.74,80.86 L107.79,80.86 L108.84,80.86 L109.88,80.86 L110.93,80.86 L111.98,80.86 L113.02,80.86 L114.07,80.86 L115.12,80.86 L116.17,80.86 L117.21,80.86 L118.26,80.86 L119.31,80.86 L120.35,80.86 L121.40,80.86 L122.45,80.86 L123.49,80.86 L124.54,80.86 L125.59,80.86 L126.63,80.86 L127.68,80.86 L128.73,80.86 L129.78,80.86 L130.82,80.86 L131.87,80.87 L132.92,80.88 L133.96,80.89 L135.01,80.89 L136.06,80.90 L137.11,80.91 L138.15,80.92 L139.20,80.93 L140.25,80.94 L141.29,80.94 L142.34,80.95 L143.39,80.96 L144.43,80.97 L145.48,80.98 L146.53,80.99 L147.57,81.00 L148.62,81.00 L149.67,81.01 L150.71,81.02 L151.76,81.03 L152.81,81.03 L153.85,81.04 L154.90,81.05 L155.95,81.06 L156.99,81.06 L158.04,81.07 L159.09,81.08 L160.13,81.08 L161.18,81.09 L162.23,81.09 L163.27,81.10 L164.32,81.11 L165.36,81.11 L166.41,81.12 L167.46,81.13 L168.50,81.13 L169.55,81.14 L170.60,81.15 L171.64,81.15 L172.69,81.16 L173.73,81.17 L174.78,81.18 L175.83,81.19 L176.87,81.20 L177.92,81.21 L178.96,81.23 L180.01,81.24 L181.06,81.25 L182.10,81.27 L183.15,81.29 L184.20,81.30 L185.24,81.32 L186.29,81.34 L187.33,81.36 L188.38,81.38 L189.43,81.41 L190.47,81.43 L191.52,81.46 L192.57,81.49 L193.61,81.52 L194.66,81.55 L195.71,81.58 L196.75,81.61 L197.80,81.65 L198.85,81.69 L199.89,81.73 L200.94,81.77 L201.99,81.81 L203.03,81.86 L204.08,81.91 L205.13,81.96 L206.18,82.01 L207.22,82.07 L208.27,82.12 L209.32,82.18 L210.37,82.25 L211.41,82.31 L212.46,82.38 L213.51,82.45 L214.56,82.52 L215.60,82.60 L216.65,82.67 L217.70,82.75 L218.75,82.84 L219.80,82.92 L220.85,83.01 L221.90,83.11 L222.94,83.20 L223.99,83.30 L225.04,83.40 L226.09,83.51 L227.14,83.62 L228.19,83.73 L229.24,83.85 L230.28,83.97 L231.33,84.09 L232.38,84.22 L233.42,84.36 L234.47,84.50 L235.51,84.64 L236.55,84.79 L237.59,84.94 L238.63,85.10 L239.67,85.26 L240.71,85.43 L241.74,85.61 L242.78,85.79 L243.81,85.97 L244.84,86.16 L245.87,86.36 L246.90,86.57 L247.92,86.78 L248.94,86.99 L249.96,87.22 L250.98,87.45 L251.99,87.69 L253.01,87.93 L254.02,88.18 L255.02,88.44 L256.03,88.71 L257.03,88.98 L258.03,89.27 L259.02,89.56 L260.01,89.85 L261.00,90.16 L261.99,90.48 L262.97,90.80 L263.95,91.13 L264.92,91.47 L265.89,91.82 L266.86,92.18 L267.82,92.55 L268.78,92.92 L269.73,93.31 L270.68,93.70 L271.63,94.11 L272.57,94.53 L273.51,94.95 L274.44,95.39 L275.36,95.83 L276.29,96.29 L277.20,96.76 L278.12,97.23 L279.02,97.72 L279.92,98.22 L280.82,98.73 L281.71,99.25 L282.60,99.78 L283.48,100.33 L284.35,100.89 L285.22,101.45 L286.08,102.03 L286.94,102.62 L287.79,103.22 L288.63,103.84 L289.47,104.46 L290.31,105.09 L291.13,105.73 L291.95,106.39 L292.77,107.05 L293.58,107.72 L294.38,108.40 L295.18,109.09 L295.97,109.79 L296.75,110.50 L297.53,111.21 L298.30,111.94 L299.06,112.67 L299.82,113.41 L300.57,114.15 L301.32,114.90 L302.06,115.66 L302.79,116.43 L303.52,117.20 L304.23,117.98 L304.95,118.77 L305.65,119.56 L306.35,120.35 L307.04,121.16 L307.73,121.96 L308.41,122.77 L309.08,123.59 L309.74,124.41 L310.40,125.23 L311.06,126.06 L311.70,126.90 L312.34,127.73 L312.98,128.57 L313.60,129.42 L314.23,130.27 L314.84,131.12 L315.45,131.98 L316.06,132.84 L316.66,133.70 L317.26,134.56 L317.85,135.43 L318.44,136.30 L319.02,137.18 L319.60,138.06 L320.17,138.94 L320.74,139.82 L321.30,140.70 L321.87,141.59 L322.42,142.48 L322.98,143.37 L323.53,144.26 L324.08,145.16 L324.62,146.05 L325.16,146.95 L325.70,147.85 L326.24,148.75 L326.77,149.66 L327.30,150.56 L327.83,151.47 L328.36,152.37 L328.88,153.28 L329.41,154.19 L329.92,155.10 L330.44,156.01 L330.96,156.92 L331.47,157.83 L331.98,158.75 L332.49,159.66 L332.99,160.58 L333.50,161.49 L334.00,162.41 L334.50,163.33 L334.99,164.25 L335.49,165.17 L335.98,166.10 L336.47,167.02 L336.96,167.95 L337.44,168.87 L337.93,169.80 L338.41,170.73 L338.89,171.65 L339.37,172.58 L339.84,173.51 L340.32,174.45 L340.79,175.38 L341.26,176.31 L341.72,177.25 L342.19,178.18 L342.65,179.12 L343.11,180.06 L343.57,181.00 L344.03,181.93 L344.49,182.87 L344.94,183.82 L345.40,184.76 L345.85,185.70 L346.29,186.64 L346.74,187.59 L347.19,188.53 L347.63,189.48 L348.07,190.43 L348.51,191.37 L348.95,192.32 L349.39,193.27 L349.82,194.22 L350.25,195.17 L350.69,196.13 L351.12,197.08 L351.54,198.03 L351.97,198.98 L352.39,199.94 L352.82,200.90 L353.24,201.85 L353.66,202.81 L354.08,203.77 L354.50,204.72 L354.91,205.68 L355.33,206.64 L355.74,207.60 L356.15,208.56 L356.56,209.53 L356.97,210.49 L357.38,211.45 L357.78,212.42 L358.19,213.38 L358.59,214.35 L358.99,215.31 L359.39,216.28 L359.79,217.24 L360.19,218.21 L360.58,219.18 L360.98,220.15 L361.37,221.12 L361.77,222.09 L362.16,223.06 L362.55,224.03 L362.94,225.00 L363.32,225.97 L363.71,226.94 L364.10,227.91 L364.48,228.89 L364.86,229.86 L365.25,230.84 L365.63,231.81 L366.01,232.79 L366.39,233.76 L366.77,234.74 L367.14,235.71 L367.52,236.69 L367.89,237.67 L368.27,238.64 L368.64,239.62 L369.01,240.60 L369.39,241.58 L369.76,242.56 L370.13,243.54 L370.49,244.52 L370.86,245.50 L371.23,246.48 L371.60,247.46 L371.96,248.44 L372.33,249.42 L372.69,250.41 L373.05,251.39 L373.42,252.37 L373.78,253.35 L374.14,254.34 L374.50,255.32 L374.86,256.30 L375.22,257.29 L375.58,258.27 L375.93,259.25 L376.29,260.24 L376.65,261.22 L377.00,262.21 L377.36,263.19 L377.71,264.18 L378.07,265.16 L378.42,266.15 L378.77,267.14 L379.13,268.12 L379.48,269.11 L379.83,270.09 L380.18,271.08 L380.53,272.07 L380.88,273.05 L381.23,274.04 L381.58,275.03 L381.93,276.01 L382.28,277.00 L382.63,277.99 L382.97,278.98 L383.32,279.97 L383.67,280.95 L384.01,281.94 L384.36,282.93 L384.70,283.92 L385.05,284.91 L385.39,285.90 L385.73,286.88 L386.08,287.87 L386.42,288.86 L386.76,289.85 L387.10,290.84 L387.44,291.83 L387.78,292.82 L388.12,293.81 L388.46,294.80 L388.79,295.79 L389.13,296.78 L389.47,297.78 L389.80,298.77 L390.14,299.76 L390.47,300.75 L390.80,301.74 L391.14,302.73 L391.47,303.73 L391.80,304.72 L392.13,305.71 L392.46,306.70 L392.79,307.70 L393.12,308.69 L393.45,309.68 L393.78,310.68 L394.10,311.67 L394.43,312.67 L394.76,313.66 L395.08,314.66 L395.40,315.65 L395.73,316.65 L396.05,317.64 L396.37,318.64 L396.69,319.63 L397.01,320.63 L397.33,321.62 L397.65,322.62 L397.97,323.62 L398.29,324.61 L398.60,325.61 L398.92,326.61 L399.23,327.61 L399.55,328.60 L399.86,329.60 L400.17,330.60 L400.48,331.60 L400.79,332.60 L401.10,333.60 L401.41,334.60 L401.72,335.60 L402.03,336.60 L402.34,337.60 L402.64,338.60 L402.95,339.60 L403.25,340.60 L403.55,341.60 L403.85,342.60 L404.16,343.60 L404.46,344.61 L404.76,345.61 L405.05,346.61 L405.35,347.61 L405.65,348.62 L405.95,349.62 L406.24,350.62 L406.53,351.63 L406.83,352.63 L407.12,353.64 L407.41,354.64 L407.70,355.65 L407.99,356.65 L408.28,357.66 L408.57,358.67 L408.85,359.67 L409.14,360.68 L409.42,361.69 L409.71,362.69 L409.99,363.70 L410.27,364.71 L410.55,365.72 L410.83,366.73 L411.11,367.73 L411.39,368.74 L411.66,369.75 L411.94,370.76 L412.21,371.77 L412.49,372.78 L412.76,373.79 L413.03,374.81 L413.30,375.82 L413.57,376.83 L413.84,377.84 L414.10,378.85 L414.37,379.87 L414.63,380.88 L414.90,381.89 L415.16,382.91 L415.42,383.92 L415.68,384.93 L415.94,385.95 L416.20,386.96 L416.46,387.98 L416.71,389.00 L416.97,390.01 L417.22,391.03 L417.47,392.04" stroke="#ff0505" stroke-width="1.9"/>
</g>
<g fill="none">
<circle cx="421.3" cy="284.2" r="3.1" stroke="#cc10ff" stroke-width="0.75" opacity="0.8"/>
<circle cx="435.0" cy="293.5" r="3.1" stroke="#cc10ff" stroke-width="0.75" opacity="0.8"/>
<line x1="451.3" y1="294" x2="451.3" y2="311.5" stroke="#cc10ff" stroke-width="1.35"/>
<circle cx="407.8" cy="269.4" r="3.1" stroke="#6a0dff" stroke-width="0.75" opacity="0.8"/>
<circle cx="424.7" cy="280.8" r="3.1" stroke="#6a0dff" stroke-width="0.75" opacity="0.8"/>
<line x1="443.4" y1="284" x2="443.4" y2="301.3" stroke="#6a0dff" stroke-width="1.35"/>
<circle cx="393.4" cy="254.0" r="3.1" stroke="#5596ff" stroke-width="0.75" opacity="0.8"/>
<circle cx="413.0" cy="267.0" r="3.1" stroke="#5596ff" stroke-width="0.75" opacity="0.8"/>
<line x1="433.7" y1="271.7" x2="433.7" y2="288.4" stroke="#5596ff" stroke-width="1.35"/>
<circle cx="378.0" cy="236.7" r="3.1" stroke="#33ff00" stroke-width="0.75" opacity="0.8"/>
<circle cx="399.1" cy="250.6" r="3.1" stroke="#33ff00" stroke-width="0.75" opacity="0.8"/>
<line x1="422.1" y1="256.2" x2="422.1" y2="273.6" stroke="#33ff00" stroke-width="1.35"/>
<circle cx="362.0" cy="214.1" r="3.1" stroke="#ccff10" stroke-width="0.75" opacity="0.8"/>
<circle cx="383.8" cy="229.7" r="3.1" stroke="#ccff10" stroke-width="0.75" opacity="0.8"/>
<line x1="408.3" y1="236.9" x2="408.3" y2="254.4" stroke="#ccff10" stroke-width="1.35"/>
<circle cx="341.6" cy="188.7" r="3.1" stroke="#ffd61e" stroke-width="0.75" opacity="0.8"/>
<circle cx="364.3" cy="205.1" r="3.1" stroke="#ffd61e" stroke-width="0.75" opacity="0.8"/>
<line x1="390.4" y1="212.4" x2="390.4" y2="230.3" stroke="#ffd61e" stroke-width="1.35"/>
<circle cx="315.1" cy="153.4" r="3.1" stroke="#ff8000" stroke-width="0.75" opacity="0.8"/>
<circle cx="339.5" cy="170.3" r="3.1" stroke="#ff8000" stroke-width="0.75" opacity="0.8"/>
<line x1="366.4" y1="178.2" x2="366.4" y2="196.1" stroke="#ff8000" stroke-width="1.35"/>
<circle cx="273.7" cy="95.0" r="3.1" stroke="#ff0505" stroke-width="0.75" opacity="0.8"/>
<circle cx="298.7" cy="112.3" r="3.1" stroke="#ff0505" stroke-width="0.75" opacity="0.8"/>
<line x1="326.5" y1="121.3" x2="326.5" y2="138.8" stroke="#ff0505" stroke-width="1.35"/>
</g>
<g clip-path="url(#cr)" fill="none" stroke-linejoin="round">
<path d="M559.82,26.75 L560.38,27.40 L560.94,28.04 L561.51,28.69 L562.07,29.33 L562.63,29.98 L563.19,30.63 L563.76,31.27 L564.32,31.92 L564.88,32.57 L565.43,33.22 L565.99,33.87 L566.55,34.52 L567.11,35.17 L567.67,35.82 L568.22,36.47 L568.78,37.12 L569.33,37.77 L569.89,38.42 L570.44,39.08 L570.99,39.73 L571.54,40.38 L572.10,41.04 L572.65,41.69 L573.20,42.35 L573.75,43.00 L574.30,43.66 L574.84,44.31 L575.39,44.97 L575.94,45.63 L576.49,46.28 L577.03,46.94 L577.58,47.60 L578.12,48.26 L578.67,48.92 L579.21,49.58 L579.75,50.24 L580.30,50.90 L580.84,51.56 L581.38,52.22 L581.92,52.89 L582.46,53.55 L583.00,54.21 L583.54,54.88 L584.08,55.54 L584.61,56.20 L585.15,56.87 L585.69,57.53 L586.22,58.20 L586.76,58.87 L587.29,59.53 L587.83,60.20 L588.36,60.87 L588.89,61.53 L589.43,62.20 L589.96,62.87 L590.49,63.54 L591.02,64.21 L591.55,64.88 L592.08,65.55 L592.61,66.22 L593.13,66.89 L593.66,67.57 L594.19,68.24 L594.72,68.91 L595.24,69.58 L595.77,70.26 L596.29,70.93 L596.81,71.61 L597.34,72.28 L597.86,72.96 L598.38,73.63 L598.90,74.31 L599.42,74.98 L599.94,75.66 L600.46,76.34 L600.98,77.02 L601.50,77.69 L602.02,78.37 L602.54,79.05 L603.05,79.73 L603.57,80.41 L604.09,81.09 L604.60,81.77 L605.11,82.45 L605.63,83.13 L606.14,83.82 L606.65,84.50 L607.17,85.18 L607.68,85.87 L608.19,86.55 L608.70,87.23 L609.21,87.92 L609.72,88.60 L610.23,89.29 L610.74,89.97 L611.24,90.66 L611.75,91.35 L612.26,92.03 L612.76,92.72 L613.27,93.41 L613.77,94.09 L614.28,94.78 L614.78,95.47 L615.28,96.16 L615.78,96.85 L616.29,97.54 L616.79,98.23 L617.29,98.92 L617.79,99.61 L618.29,100.30 L618.79,101.00 L619.28,101.69 L619.78,102.38 L620.28,103.08 L620.78,103.77 L621.27,104.46 L621.77,105.16 L622.26,105.85 L622.76,106.55 L623.25,107.24 L623.74,107.94 L624.24,108.63 L624.73,109.33 L625.22,110.03 L625.71,110.73 L626.20,111.42 L626.69,112.12 L627.18,112.82 L627.67,113.52 L628.16,114.22 L628.64,114.92 L629.13,115.62 L629.62,116.32 L630.10,117.02 L630.59,117.72 L631.07,118.42 L631.56,119.12 L632.04,119.83 L632.53,120.53 L633.01,121.23 L633.49,121.94 L633.97,122.64 L634.45,123.34 L634.93,124.05 L635.41,124.75 L635.89,125.46 L636.37,126.17 L636.85,126.87 L637.33,127.58 L637.80,128.28 L638.28,128.99 L638.76,129.70 L639.23,130.41 L639.71,131.12 L640.18,131.82 L640.66,132.53 L641.13,133.24 L641.60,133.95 L642.07,134.66 L642.55,135.37 L643.02,136.08 L643.49,136.79 L643.96,137.51 L644.43,138.22 L644.90,138.93 L645.36,139.64 L645.83,140.36 L646.30,141.07 L646.77,141.78 L647.23,142.50 L647.70,143.21 L648.16,143.92 L648.63,144.64 L649.09,145.36 L649.56,146.07 L650.02,146.79 L650.48,147.50 L650.94,148.22 L651.41,148.94 L651.87,149.65 L652.33,150.37 L652.79,151.09 L653.25,151.81 L653.71,152.53 L654.16,153.25 L654.62,153.97 L655.08,154.69 L655.54,155.41 L655.99,156.13 L656.45,156.85 L656.90,157.57 L657.36,158.29 L657.81,159.01 L658.27,159.73 L658.72,160.46 L659.17,161.18 L659.62,161.90 L660.07,162.63 L660.53,163.35 L660.98,164.07 L661.43,164.80 L661.88,165.52 L662.32,166.25 L662.77,166.97 L663.22,167.70 L663.67,168.42 L664.12,169.15 L664.56,169.88 L665.01,170.60 L665.45,171.33 L665.90,172.06 L666.34,172.79 L666.79,173.52 L667.23,174.24 L667.67,174.97 L668.11,175.70 L668.56,176.43 L669.00,177.16 L669.44,177.89 L669.88,178.62 L670.32,179.35 L670.76,180.08 L671.20,180.82 L671.64,181.55 L672.07,182.28 L672.51,183.01 L672.95,183.75 L673.38,184.48 L673.82,185.21 L674.25,185.95 L674.69,186.68 L675.12,187.41 L675.56,188.15 L675.99,188.88 L676.42,189.62 L676.86,190.35 L677.29,191.09 L677.72,191.82 L678.15,192.56 L678.58,193.30 L679.01,194.03 L679.44,194.77 L679.87,195.51 L680.30,196.25 L680.72,196.99 L681.15,197.72 L681.58,198.46 L682.00,199.20 L682.43,199.94 L682.85,200.68 L683.28,201.42 L683.70,202.16 L684.13,202.90 L684.55,203.64 L684.97,204.38 L685.40,205.12 L685.82,205.87 L686.24,206.61 L686.66,207.35 L687.08,208.09 L687.50,208.83 L687.92,209.58 L688.34,210.32 L688.76,211.06 L689.18,211.81 L689.59,212.55 L690.01,213.30 L690.43,214.04 L690.84,214.79 L691.26,215.53 L691.67,216.28 L692.09,217.02 L692.50,217.77 L692.92,218.52 L693.33,219.26 L693.74,220.01 L694.16,220.76 L694.57,221.50 L694.98,222.25 L695.39,223.00 L695.80,223.75 L696.21,224.50 L696.62,225.24 L697.03,225.99 L697.44,226.74 L697.85,227.49 L698.25,228.24 L698.66,228.99 L699.07,229.74 L699.47,230.49 L699.88,231.24 L700.28,231.99 L700.69,232.75 L701.09,233.50 L701.50,234.25 L701.90,235.00 L702.30,235.75 L702.71,236.51 L703.11,237.26 L703.51,238.01 L703.91,238.77 L704.31,239.52 L704.71,240.27 L705.11,241.03 L705.51,241.78 L705.91,242.54 L706.31,243.29 L706.71,244.05 L707.10,244.80 L707.50,245.56 L707.90,246.31 L708.29,247.07 L708.69,247.83 L709.08,248.58 L709.48,249.34 L709.87,250.10 L710.27,250.86 L710.66,251.61 L711.05,252.37 L711.44,253.13 L711.84,253.89 L712.23,254.65 L712.62,255.40 L713.01,256.16 L713.40,256.92 L713.79,257.68 L714.18,258.44 L714.57,259.20 L714.96,259.96 L715.34,260.72 L715.73,261.48 L716.12,262.24 L716.51,263.01 L716.89,263.77 L717.28,264.53 L717.66,265.29 L718.05,266.05 L718.43,266.81 L718.82,267.58 L719.20,268.34 L719.58,269.10 L719.97,269.87 L720.35,270.63 L720.73,271.39 L721.11,272.16 L721.49,272.92 L721.87,273.68 L722.25,274.45 L722.63,275.21 L723.01,275.98 L723.39,276.74 L723.77,277.51 L724.15,278.28 L724.52,279.04 L724.90,279.81 L725.28,280.57 L725.65,281.34 L726.03,282.11 L726.40,282.87 L726.78,283.64 L727.15,284.41 L727.53,285.17 L727.90,285.94 L728.27,286.71 L728.65,287.48 L729.02,288.25 L729.39,289.02 L729.76,289.78 L730.13,290.55 L730.50,291.32 L730.87,292.09 L731.24,292.86 L731.61,293.63 L731.98,294.40 L732.35,295.17 L732.72,295.94 L733.09,296.71 L733.45,297.48 L733.82,298.25 L734.19,299.02 L734.55,299.80 L734.92,300.57 L735.28,301.34 L735.65,302.11 L736.01,302.88 L736.38,303.65 L736.74,304.43 L737.10,305.20 L737.47,305.97 L737.83,306.75 L738.19,307.52 L738.55,308.29 L738.91,309.07 L739.27,309.84 L739.64,310.61 L740.00,311.39 L740.35,312.16 L740.71,312.94 L741.07,313.71 L741.43,314.49 L741.79,315.26 L742.15,316.04 L742.50,316.81 L742.86,317.59 L743.22,318.36 L743.57,319.14 L743.93,319.91 L744.28,320.69 L744.64,321.47 L744.99,322.24 L745.34,323.02 L745.70,323.80 L746.05,324.57 L746.40,325.35 L746.76,326.13 L747.11,326.91 L747.46,327.68 L747.81,328.46 L748.16,329.24 L748.51,330.02 L748.86,330.80 L749.21,331.58 L749.56,332.35 L749.91,333.13 L750.26,333.91 L750.60,334.69 L750.95,335.47 L751.30,336.25 L751.65,337.03 L751.99,337.81 L752.34,338.59 L752.68,339.37 L753.03,340.15 L753.37,340.93 L753.72,341.71 L754.06,342.49 L754.41,343.27 L754.75,344.06 L755.09,344.84 L755.43,345.62 L755.78,346.40 L756.12,347.18 L756.46,347.96 L756.80,348.75 L757.14,349.53 L757.48,350.31 L757.82,351.09 L758.16,351.87 L758.50,352.66 L758.84,353.44 L759.18,354.22 L759.51,355.01 L759.85,355.79 L760.19,356.57 L760.53,357.36 L760.86,358.14 L761.20,358.92 L761.53,359.71 L761.87,360.49 L762.20,361.28 L762.54,362.06 L762.87,362.85 L763.21,363.63 L763.54,364.42 L763.87,365.20 L764.21,365.99 L764.54,366.77 L764.87,367.56 L765.20,368.34 L765.53,369.13 L765.86,369.91 L766.20,370.70 L766.53,371.48 L766.86,372.27 L767.18,373.06 L767.51,373.84 L767.84,374.63 L768.17,375.42 L768.50,376.20 L768.83,376.99 L769.15,377.78 L769.48,378.56 L769.81,379.35 L770.13,380.14 L770.46,380.93 L770.78,381.71 L771.11,382.50 L771.43,383.29 L771.76,384.08 L772.08,384.86 L772.41,385.65 L772.73,386.44 L773.05,387.23 L773.38,388.02 L773.70,388.81 L774.02,389.59 L774.34,390.38 L774.66,391.17 L774.98,391.96" stroke="#1a1a1a" stroke-width="1.05"/>
<path d="M480.09,219.19 L481.01,219.25 L481.93,219.32 L482.85,219.38 L483.77,219.45 L484.69,219.52 L485.61,219.59 L486.53,219.66 L487.44,219.73 L488.36,219.81 L489.28,219.88 L490.20,219.96 L491.12,220.04 L492.04,220.12 L492.96,220.20 L493.87,220.29 L494.79,220.37 L495.71,220.46 L496.63,220.55 L497.55,220.64 L498.46,220.73 L499.38,220.83 L500.30,220.92 L501.22,221.02 L502.13,221.12 L503.05,221.22 L503.97,221.32 L504.88,221.42 L505.80,221.52 L506.72,221.63 L507.63,221.73 L508.55,221.84 L509.47,221.95 L510.38,222.06 L511.30,222.17 L512.22,222.29 L513.13,222.40 L514.05,222.52 L514.96,222.64 L515.88,222.76 L516.79,222.88 L517.71,223.00 L518.63,223.12 L519.54,223.24 L520.46,223.37 L521.37,223.50 L522.29,223.62 L523.20,223.75 L524.12,223.88 L525.03,224.01 L525.95,224.15 L526.86,224.28 L527.77,224.42 L528.69,224.55 L529.60,224.69 L530.52,224.83 L531.43,224.97 L532.35,225.11 L533.26,225.25 L534.17,225.39 L535.09,225.54 L536.00,225.68 L536.91,225.83 L537.83,225.98 L538.74,226.12 L539.66,226.27 L540.57,226.42 L541.48,226.58 L542.39,226.73 L543.31,226.88 L544.22,227.04 L545.13,227.19 L546.05,227.35 L546.96,227.51 L547.87,227.67 L548.78,227.83 L549.70,227.99 L550.61,228.15 L551.52,228.31 L552.43,228.47 L553.35,228.64 L554.26,228.80 L555.17,228.97 L556.08,229.14 L556.99,229.30 L557.91,229.47 L558.82,229.64 L559.73,229.81 L560.64,229.98 L561.55,230.15 L562.46,230.33 L563.37,230.50 L564.29,230.68 L565.20,230.85 L566.11,231.03 L567.02,231.20 L567.93,231.38 L568.84,231.56 L569.75,231.74 L570.66,231.92 L571.57,232.10 L572.48,232.28 L573.39,232.46 L574.31,232.64 L575.22,232.82 L576.13,233.01 L577.04,233.19 L577.95,233.38 L578.86,233.56 L579.77,233.75 L580.68,233.93 L581.59,234.12 L582.50,234.31 L583.41,234.50 L584.32,234.69 L585.23,234.88 L586.14,235.07 L587.05,235.26 L587.96,235.45 L588.87,235.64 L589.77,235.83 L590.68,236.03 L591.59,236.22 L592.50,236.41 L593.41,236.61 L594.32,236.80 L595.23,237.00 L596.14,237.19 L597.05,237.39 L597.96,237.58 L598.87,237.78 L599.78,237.98 L600.68,238.17 L601.59,238.37 L602.50,238.57 L603.41,238.77 L604.32,238.97 L605.23,239.17 L606.14,239.37 L607.05,239.57 L607.95,239.77 L608.86,239.97 L609.77,240.17 L610.68,240.37 L611.59,240.57 L612.50,240.77 L613.40,240.97 L614.31,241.17 L615.22,241.38 L616.13,241.58 L617.04,241.78 L617.94,241.98 L618.85,242.19 L619.76,242.39 L620.67,242.59 L621.58,242.80 L622.48,243.00 L623.39,243.20 L624.30,243.41 L625.21,243.61 L626.12,243.81 L627.02,244.02 L627.93,244.22 L628.84,244.43 L629.75,244.63 L630.65,244.83 L631.56,245.04 L632.47,245.24 L633.38,245.45 L634.28,245.65 L635.19,245.86 L636.10,246.06 L637.01,246.27 L637.91,246.47 L638.82,246.67 L639.73,246.88 L640.63,247.08 L641.54,247.29 L642.45,247.49 L643.36,247.69 L644.26,247.90 L645.17,248.10 L646.08,248.30 L646.98,248.51 L647.89,248.71 L648.80,248.91 L649.70,249.12 L650.61,249.32 L651.52,249.52 L652.43,249.73 L653.33,249.93 L654.24,250.13 L655.15,250.33 L656.05,250.53 L656.96,250.73 L657.87,250.93 L658.77,251.14 L659.68,251.34 L660.59,251.54 L661.49,251.74 L662.40,251.94 L663.31,252.14 L664.21,252.33 L665.12,252.53 L666.03,252.73 L666.93,252.93 L667.84,253.13 L668.75,253.32 L669.65,253.52 L670.56,253.72 L671.47,253.91 L672.37,254.11 L673.28,254.30 L674.19,254.50 L675.09,254.69 L676.00,254.89 L676.91,255.08 L677.81,255.27 L678.72,255.46 L679.62,255.66 L680.53,255.85 L681.44,256.04 L682.34,256.23 L683.25,256.42 L684.16,256.61 L685.06,256.80 L685.97,256.98 L686.88,257.17 L687.78,257.36 L688.69,257.55 L689.60,257.73 L690.50,257.92 L691.41,258.10 L692.32,258.28 L693.22,258.47 L694.13,258.65 L695.04,258.83 L695.94,259.01 L696.85,259.19 L697.75,259.37 L698.66,259.55 L699.57,259.73 L700.47,259.91 L701.38,260.09 L702.29,260.26 L703.19,260.44 L704.10,260.61 L705.01,260.79 L705.91,260.96 L706.82,261.13 L707.73,261.30 L708.63,261.47 L709.54,261.64 L710.45,261.81 L711.35,261.98 L712.26,262.15 L713.17,262.31 L714.07,262.48 L714.98,262.65 L715.89,262.81 L716.80,262.97 L717.70,263.14 L718.61,263.30 L719.52,263.46 L720.43,263.62 L721.33,263.78 L722.24,263.94 L723.15,264.10 L724.06,264.26 L724.97,264.42 L725.88,264.58 L726.79,264.73 L727.70,264.89 L728.61,265.05 L729.52,265.20 L730.43,265.36 L731.34,265.51 L732.25,265.67 L733.16,265.82 L734.07,265.97 L734.98,266.13 L735.90,266.28 L736.81,266.43 L737.72,266.58 L738.64,266.73 L739.55,266.88 L740.46,267.03 L741.38,267.18 L742.29,267.33 L743.21,267.48 L744.12,267.63 L745.04,267.78 L745.96,267.93 L746.88,268.08 L747.79,268.23 L748.71,268.37 L749.63,268.52 L750.55,268.67 L751.47,268.81 L752.39,268.96 L753.31,269.11 L754.23,269.25 L755.16,269.40 L756.08,269.55 L757.00,269.69 L757.93,269.84 L758.85,269.98 L759.78,270.13 L760.70,270.28 L761.63,270.42 L762.56,270.57 L763.49,270.71 L764.42,270.86 L765.35,271.00 L766.28,271.15 L767.21,271.29 L768.14,271.44 L769.07,271.59 L770.00,271.73 L770.94,271.88 L771.87,272.03 L772.80,272.18 L773.73,272.33 L774.67,272.48 L775.60,272.64 L776.53,272.79 L777.46,272.95 L778.39,273.11 L779.32,273.27 L780.25,273.44 L781.18,273.60 L782.11,273.78 L783.03,273.95 L783.96,274.13 L784.88,274.31 L785.80,274.49 L786.72,274.68 L787.64,274.87 L788.55,275.07 L789.47,275.27 L790.38,275.47 L791.29,275.68 L792.19,275.90 L793.10,276.12 L794.00,276.34 L794.90,276.57 L795.80,276.81 L796.69,277.05 L797.58,277.30 L798.47,277.56 L799.35,277.82 L800.23,278.08 L801.11,278.36 L801.98,278.64 L802.85,278.93 L803.71,279.22 L804.57,279.53 L805.43,279.84 L806.28,280.16 L807.13,280.48 L807.98,280.82 L808.82,281.16 L809.65,281.51 L810.48,281.87 L811.30,282.24 L812.12,282.62 L812.94,283.01 L813.75,283.41 L814.55,283.81 L815.35,284.23 L816.14,284.66 L816.93,285.09 L817.71,285.54 L818.49,286.00 L819.25,286.47 L820.02,286.95 L820.77,287.44 L821.52,287.94 L822.27,288.45 L823.00,288.98 L823.73,289.51 L824.45,290.06 L825.17,290.61 L825.87,291.18 L826.57,291.76 L827.26,292.35 L827.94,292.94 L828.61,293.55 L829.27,294.17 L829.92,294.80 L830.56,295.44 L831.19,296.09 L831.81,296.75 L832.42,297.42 L833.01,298.10 L833.60,298.79 L834.17,299.49 L834.74,300.20 L835.29,300.92 L835.82,301.64 L836.35,302.38 L836.86,303.13 L837.36,303.88 L837.85,304.65 L838.32,305.42 L838.77,306.20 L839.22,306.99 L839.64,307.79 L840.06,308.60 L840.46,309.42 L840.84,310.24 L841.21,311.08 L841.56,311.92 L841.91,312.77 L842.23,313.62 L842.55,314.48 L842.85,315.35 L843.14,316.23 L843.42,317.11 L843.69,317.99 L843.95,318.88 L844.20,319.78 L844.44,320.68 L844.67,321.59 L844.89,322.49 L845.10,323.41 L845.30,324.32 L845.49,325.24 L845.68,326.16 L845.86,327.09 L846.03,328.02 L846.20,328.94 L846.36,329.87 L846.51,330.80 L846.66,331.74 L846.81,332.67 L846.95,333.60 L847.08,334.54 L847.22,335.47 L847.35,336.40 L847.47,337.33 L847.59,338.27 L847.71,339.20 L847.83,340.13 L847.94,341.06 L848.05,341.99 L848.16,342.92 L848.26,343.85 L848.36,344.78 L848.46,345.71 L848.56,346.64 L848.65,347.57 L848.74,348.50 L848.83,349.42 L848.91,350.35 L848.99,351.28 L849.07,352.21 L849.15,353.14 L849.22,354.06 L849.30,354.99 L849.37,355.92 L849.44,356.84 L849.50,357.77 L849.57,358.69 L849.63,359.62 L849.69,360.55 L849.75,361.47 L849.80,362.40 L849.86,363.32 L849.91,364.25 L849.96,365.17 L850.01,366.09 L850.06,367.02 L850.11,367.94 L850.16,368.87 L850.20,369.79 L850.25,370.71 L850.29,371.64 L850.33,372.56 L850.37,373.49 L850.41,374.41 L850.45,375.33 L850.48,376.25 L850.52,377.18 L850.56,378.10 L850.59,379.02 L850.62,379.95 L850.66,380.87 L850.69,381.79 L850.72,382.71 L850.76,383.64 L850.79,384.56 L850.82,385.48 L850.85,386.40 L850.88,387.33 L850.91,388.25 L850.94,389.17 L850.98,390.09 L851.01,391.01 L851.04,391.94" stroke="#cc10ff" stroke-width="1.9"/>
<path d="M479.90,187.51 L480.84,187.59 L481.78,187.67 L482.73,187.75 L483.67,187.84 L484.61,187.93 L485.55,188.02 L486.49,188.12 L487.43,188.21 L488.37,188.31 L489.30,188.41 L490.24,188.52 L491.18,188.62 L492.11,188.73 L493.05,188.84 L493.99,188.95 L494.92,189.07 L495.86,189.18 L496.79,189.30 L497.72,189.43 L498.66,189.55 L499.59,189.68 L500.52,189.80 L501.46,189.93 L502.39,190.07 L503.32,190.20 L504.25,190.34 L505.18,190.48 L506.11,190.62 L507.04,190.76 L507.97,190.90 L508.90,191.05 L509.83,191.20 L510.75,191.35 L511.68,191.50 L512.61,191.66 L513.54,191.81 L514.46,191.97 L515.39,192.13 L516.31,192.30 L517.24,192.46 L518.16,192.63 L519.09,192.80 L520.01,192.97 L520.94,193.14 L521.86,193.31 L522.78,193.49 L523.71,193.66 L524.63,193.84 L525.55,194.02 L526.47,194.21 L527.39,194.39 L528.31,194.58 L529.23,194.76 L530.15,194.95 L531.07,195.14 L531.99,195.34 L532.91,195.53 L533.83,195.73 L534.75,195.93 L535.67,196.12 L536.59,196.33 L537.51,196.53 L538.42,196.73 L539.34,196.94 L540.26,197.14 L541.17,197.35 L542.09,197.56 L543.01,197.77 L543.92,197.99 L544.84,198.20 L545.75,198.42 L546.67,198.63 L547.58,198.85 L548.50,199.07 L549.41,199.30 L550.33,199.52 L551.24,199.74 L552.15,199.97 L553.07,200.19 L553.98,200.42 L554.89,200.65 L555.80,200.88 L556.72,201.12 L557.63,201.35 L558.54,201.58 L559.45,201.82 L560.36,202.06 L561.27,202.29 L562.19,202.53 L563.10,202.77 L564.01,203.02 L564.92,203.26 L565.83,203.50 L566.74,203.75 L567.65,203.99 L568.56,204.24 L569.47,204.49 L570.38,204.74 L571.29,204.99 L572.19,205.24 L573.10,205.49 L574.01,205.74 L574.92,206.00 L575.83,206.25 L576.74,206.51 L577.65,206.77 L578.55,207.03 L579.46,207.28 L580.37,207.54 L581.28,207.81 L582.18,208.07 L583.09,208.33 L584.00,208.59 L584.91,208.86 L585.81,209.12 L586.72,209.39 L587.63,209.65 L588.53,209.92 L589.44,210.19 L590.34,210.46 L591.25,210.73 L592.16,211.00 L593.06,211.27 L593.97,211.54 L594.88,211.81 L595.78,212.08 L596.69,212.36 L597.59,212.63 L598.50,212.90 L599.40,213.18 L600.31,213.45 L601.22,213.73 L602.12,214.01 L603.03,214.28 L603.93,214.56 L604.84,214.84 L605.74,215.12 L606.65,215.40 L607.55,215.68 L608.46,215.96 L609.36,216.24 L610.27,216.52 L611.17,216.80 L612.08,217.08 L612.98,217.36 L613.89,217.64 L614.79,217.92 L615.70,218.20 L616.60,218.49 L617.51,218.77 L618.41,219.05 L619.32,219.33 L620.22,219.62 L621.13,219.90 L622.03,220.18 L622.94,220.46 L623.84,220.75 L624.75,221.03 L625.65,221.31 L626.56,221.60 L627.47,221.88 L628.37,222.16 L629.28,222.44 L630.18,222.73 L631.09,223.01 L631.99,223.29 L632.90,223.57 L633.80,223.86 L634.71,224.14 L635.61,224.42 L636.52,224.70 L637.43,224.98 L638.33,225.26 L639.24,225.54 L640.14,225.82 L641.05,226.10 L641.96,226.38 L642.86,226.66 L643.77,226.94 L644.68,227.22 L645.58,227.50 L646.49,227.77 L647.40,228.05 L648.30,228.33 L649.21,228.60 L650.12,228.88 L651.02,229.15 L651.93,229.43 L652.84,229.70 L653.75,229.97 L654.66,230.25 L655.56,230.52 L656.47,230.79 L657.38,231.06 L658.29,231.33 L659.20,231.60 L660.11,231.87 L661.01,232.13 L661.92,232.40 L662.83,232.67 L663.74,232.93 L664.65,233.19 L665.56,233.46 L666.47,233.72 L667.38,233.98 L668.29,234.24 L669.20,234.50 L670.11,234.76 L671.02,235.02 L671.93,235.27 L672.84,235.53 L673.75,235.78 L674.67,236.04 L675.58,236.29 L676.49,236.54 L677.40,236.79 L678.31,237.04 L679.23,237.29 L680.14,237.53 L681.05,237.78 L681.97,238.02 L682.88,238.27 L683.79,238.51 L684.71,238.75 L685.62,238.99 L686.54,239.22 L687.45,239.46 L688.36,239.70 L689.28,239.93 L690.20,240.16 L691.11,240.39 L692.03,240.62 L692.94,240.85 L693.86,241.07 L694.78,241.30 L695.69,241.52 L696.61,241.74 L697.53,241.96 L698.45,242.18 L699.36,242.40 L700.28,242.62 L701.20,242.83 L702.12,243.04 L703.04,243.25 L703.96,243.46 L704.88,243.67 L705.80,243.87 L706.72,244.08 L707.64,244.28 L708.56,244.48 L709.48,244.68 L710.40,244.87 L711.33,245.07 L712.25,245.26 L713.17,245.45 L714.09,245.64 L715.02,245.83 L715.94,246.02 L716.86,246.20 L717.79,246.39 L718.71,246.57 L719.64,246.75 L720.56,246.93 L721.49,247.11 L722.41,247.29 L723.34,247.47 L724.26,247.65 L725.19,247.82 L726.12,248.00 L727.04,248.18 L727.97,248.35 L728.89,248.53 L729.82,248.70 L730.75,248.88 L731.67,249.05 L732.60,249.23 L733.53,249.40 L734.45,249.58 L735.38,249.75 L736.31,249.93 L737.24,250.10 L738.16,250.28 L739.09,250.45 L740.02,250.63 L740.95,250.81 L741.87,250.99 L742.80,251.16 L743.73,251.34 L744.66,251.52 L745.58,251.71 L746.51,251.89 L747.44,252.07 L748.37,252.26 L749.29,252.44 L750.22,252.63 L751.15,252.82 L752.08,253.01 L753.00,253.20 L753.93,253.40 L754.86,253.59 L755.79,253.79 L756.71,253.99 L757.64,254.19 L758.57,254.39 L759.49,254.60 L760.42,254.80 L761.34,255.01 L762.27,255.23 L763.20,255.44 L764.12,255.66 L765.05,255.88 L765.97,256.10 L766.90,256.32 L767.82,256.55 L768.75,256.78 L769.67,257.01 L770.60,257.25 L771.52,257.49 L772.44,257.73 L773.36,257.98 L774.28,258.23 L775.20,258.48 L776.12,258.74 L777.04,259.00 L777.95,259.27 L778.86,259.54 L779.78,259.82 L780.68,260.10 L781.59,260.39 L782.50,260.69 L783.40,260.99 L784.30,261.29 L785.19,261.60 L786.09,261.92 L786.98,262.25 L787.86,262.58 L788.75,262.91 L789.63,263.26 L790.51,263.61 L791.38,263.97 L792.25,264.34 L793.11,264.71 L793.97,265.09 L794.83,265.48 L795.68,265.88 L796.53,266.29 L797.37,266.70 L798.21,267.13 L799.04,267.56 L799.86,268.00 L800.69,268.45 L801.50,268.91 L802.31,269.38 L803.12,269.86 L803.92,270.34 L804.71,270.83 L805.49,271.33 L806.27,271.84 L807.05,272.36 L807.82,272.89 L808.58,273.43 L809.33,273.97 L810.08,274.52 L810.82,275.09 L811.55,275.66 L812.27,276.24 L812.99,276.82 L813.70,277.42 L814.40,278.02 L815.09,278.64 L815.78,279.26 L816.46,279.89 L817.13,280.53 L817.79,281.18 L818.44,281.83 L819.08,282.50 L819.72,283.17 L820.34,283.85 L820.96,284.54 L821.57,285.24 L822.17,285.94 L822.76,286.66 L823.35,287.38 L823.92,288.11 L824.49,288.84 L825.04,289.58 L825.59,290.33 L826.13,291.09 L826.66,291.85 L827.19,292.62 L827.70,293.40 L828.21,294.18 L828.71,294.97 L829.20,295.76 L829.68,296.56 L830.15,297.37 L830.62,298.18 L831.07,298.99 L831.52,299.82 L831.96,300.64 L832.39,301.48 L832.82,302.31 L833.23,303.16 L833.64,304.00 L834.04,304.85 L834.43,305.71 L834.82,306.57 L835.19,307.43 L835.56,308.30 L835.92,309.17 L836.27,310.04 L836.62,310.92 L836.95,311.80 L837.28,312.69 L837.61,313.57 L837.92,314.47 L838.23,315.36 L838.53,316.26 L838.83,317.16 L839.11,318.06 L839.40,318.97 L839.67,319.88 L839.94,320.79 L840.20,321.70 L840.46,322.61 L840.71,323.53 L840.95,324.45 L841.19,325.37 L841.43,326.30 L841.65,327.22 L841.88,328.15 L842.09,329.07 L842.30,330.00 L842.51,330.93 L842.71,331.87 L842.91,332.80 L843.10,333.73 L843.29,334.67 L843.47,335.60 L843.65,336.54 L843.82,337.48 L843.99,338.41 L844.16,339.35 L844.32,340.29 L844.48,341.23 L844.63,342.17 L844.78,343.11 L844.92,344.05 L845.07,344.99 L845.21,345.93 L845.34,346.87 L845.47,347.82 L845.60,348.76 L845.72,349.70 L845.85,350.64 L845.96,351.59 L846.08,352.53 L846.19,353.47 L846.30,354.41 L846.41,355.36 L846.52,356.30 L846.62,357.24 L846.72,358.19 L846.81,359.13 L846.91,360.07 L847.00,361.01 L847.09,361.96 L847.18,362.90 L847.27,363.84 L847.35,364.78 L847.44,365.72 L847.52,366.66 L847.60,367.60 L847.67,368.54 L847.75,369.48 L847.83,370.42 L847.90,371.36 L847.97,372.30 L848.05,373.23 L848.12,374.17 L848.19,375.10 L848.26,376.04 L848.33,376.97 L848.39,377.91 L848.46,378.84 L848.53,379.77 L848.59,380.70 L848.66,381.63 L848.73,382.56 L848.79,383.49 L848.86,384.41 L848.92,385.34 L848.99,386.26 L849.06,387.18 L849.12,388.11 L849.19,389.03 L849.26,389.95 L849.32,390.86 L849.39,391.78" stroke="#6a0dff" stroke-width="1.9"/>
<path d="M479.93,159.20 L480.89,159.38 L481.84,159.56 L482.79,159.74 L483.74,159.93 L484.69,160.11 L485.64,160.29 L486.59,160.48 L487.54,160.66 L488.50,160.85 L489.45,161.03 L490.40,161.22 L491.35,161.40 L492.30,161.59 L493.25,161.78 L494.20,161.97 L495.15,162.16 L496.10,162.34 L497.05,162.53 L498.00,162.73 L498.95,162.92 L499.90,163.11 L500.84,163.30 L501.79,163.50 L502.74,163.69 L503.69,163.89 L504.64,164.08 L505.58,164.28 L506.53,164.48 L507.48,164.68 L508.42,164.88 L509.37,165.08 L510.32,165.28 L511.26,165.49 L512.20,165.69 L513.15,165.90 L514.09,166.11 L515.04,166.31 L515.98,166.52 L516.92,166.73 L517.86,166.95 L518.81,167.16 L519.75,167.37 L520.69,167.59 L521.63,167.81 L522.57,168.03 L523.51,168.25 L524.44,168.47 L525.38,168.69 L526.32,168.91 L527.26,169.14 L528.19,169.37 L529.13,169.60 L530.06,169.83 L531.00,170.06 L531.93,170.30 L532.86,170.53 L533.79,170.77 L534.72,171.01 L535.66,171.25 L536.59,171.49 L537.51,171.74 L538.44,171.98 L539.37,172.23 L540.30,172.48 L541.22,172.73 L542.15,172.99 L543.07,173.24 L544.00,173.50 L544.92,173.76 L545.84,174.02 L546.76,174.29 L547.68,174.55 L548.60,174.82 L549.52,175.09 L550.44,175.36 L551.36,175.63 L552.28,175.90 L553.19,176.18 L554.11,176.45 L555.03,176.73 L555.94,177.01 L556.86,177.29 L557.77,177.57 L558.68,177.86 L559.60,178.14 L560.51,178.43 L561.42,178.72 L562.33,179.01 L563.24,179.30 L564.15,179.59 L565.06,179.88 L565.97,180.18 L566.88,180.48 L567.79,180.77 L568.70,181.07 L569.61,181.37 L570.52,181.67 L571.42,181.97 L572.33,182.27 L573.24,182.58 L574.15,182.88 L575.05,183.19 L575.96,183.49 L576.86,183.80 L577.77,184.11 L578.68,184.42 L579.58,184.72 L580.49,185.04 L581.39,185.35 L582.30,185.66 L583.20,185.97 L584.11,186.28 L585.01,186.60 L585.91,186.91 L586.82,187.23 L587.72,187.54 L588.63,187.86 L589.53,188.17 L590.44,188.49 L591.34,188.81 L592.25,189.13 L593.15,189.45 L594.05,189.76 L594.96,190.08 L595.86,190.40 L596.77,190.72 L597.67,191.04 L598.58,191.36 L599.48,191.68 L600.39,192.00 L601.29,192.32 L602.20,192.64 L603.10,192.97 L604.01,193.29 L604.91,193.61 L605.82,193.93 L606.73,194.25 L607.63,194.57 L608.54,194.90 L609.44,195.22 L610.35,195.54 L611.26,195.86 L612.16,196.19 L613.07,196.51 L613.98,196.83 L614.88,197.15 L615.79,197.48 L616.70,197.80 L617.60,198.12 L618.51,198.45 L619.42,198.77 L620.32,199.09 L621.23,199.41 L622.14,199.74 L623.05,200.06 L623.95,200.38 L624.86,200.71 L625.77,201.03 L626.67,201.35 L627.58,201.68 L628.49,202.00 L629.40,202.32 L630.30,202.64 L631.21,202.97 L632.12,203.29 L633.03,203.61 L633.93,203.94 L634.84,204.26 L635.75,204.58 L636.66,204.90 L637.56,205.22 L638.47,205.55 L639.38,205.87 L640.29,206.19 L641.20,206.51 L642.10,206.83 L643.01,207.15 L643.92,207.47 L644.83,207.79 L645.73,208.11 L646.64,208.43 L647.55,208.75 L648.46,209.07 L649.36,209.39 L650.27,209.71 L651.18,210.03 L652.09,210.35 L652.99,210.67 L653.90,210.98 L654.81,211.30 L655.72,211.62 L656.62,211.93 L657.53,212.25 L658.44,212.57 L659.35,212.88 L660.25,213.20 L661.16,213.51 L662.07,213.82 L662.98,214.14 L663.88,214.45 L664.79,214.76 L665.70,215.07 L666.61,215.38 L667.52,215.69 L668.43,216.00 L669.33,216.31 L670.24,216.61 L671.15,216.92 L672.06,217.22 L672.97,217.53 L673.88,217.83 L674.79,218.13 L675.71,218.43 L676.62,218.73 L677.53,219.03 L678.44,219.32 L679.35,219.62 L680.27,219.91 L681.18,220.20 L682.09,220.49 L683.01,220.78 L683.92,221.07 L684.84,221.36 L685.75,221.64 L686.67,221.93 L687.59,222.21 L688.51,222.49 L689.42,222.76 L690.34,223.04 L691.26,223.31 L692.18,223.59 L693.10,223.86 L694.02,224.13 L694.95,224.39 L695.87,224.66 L696.79,224.92 L697.72,225.18 L698.64,225.44 L699.57,225.70 L700.49,225.95 L701.42,226.20 L702.35,226.45 L703.28,226.70 L704.21,226.95 L705.14,227.19 L706.07,227.43 L707.00,227.67 L707.94,227.90 L708.87,228.14 L709.81,228.37 L710.74,228.59 L711.68,228.82 L712.62,229.04 L713.56,229.26 L714.49,229.48 L715.44,229.70 L716.38,229.91 L717.32,230.13 L718.26,230.34 L719.20,230.55 L720.15,230.76 L721.09,230.96 L722.04,231.17 L722.98,231.38 L723.92,231.58 L724.87,231.79 L725.82,231.99 L726.76,232.20 L727.71,232.40 L728.65,232.61 L729.60,232.81 L730.54,233.01 L731.49,233.22 L732.43,233.43 L733.38,233.63 L734.32,233.84 L735.27,234.05 L736.21,234.26 L737.16,234.47 L738.10,234.69 L739.04,234.90 L739.98,235.12 L740.93,235.34 L741.87,235.56 L742.81,235.78 L743.75,236.01 L744.68,236.24 L745.62,236.47 L746.56,236.71 L747.49,236.94 L748.43,237.18 L749.36,237.43 L750.29,237.68 L751.23,237.93 L752.16,238.18 L753.08,238.44 L754.01,238.71 L754.94,238.97 L755.86,239.25 L756.78,239.52 L757.71,239.80 L758.63,240.09 L759.54,240.38 L760.46,240.68 L761.37,240.98 L762.29,241.29 L763.20,241.60 L764.11,241.92 L765.01,242.24 L765.92,242.57 L766.82,242.91 L767.72,243.25 L768.62,243.60 L769.52,243.96 L770.41,244.32 L771.30,244.69 L772.19,245.07 L773.08,245.45 L773.96,245.84 L774.84,246.24 L775.72,246.64 L776.60,247.05 L777.47,247.46 L778.34,247.89 L779.20,248.31 L780.06,248.75 L780.92,249.19 L781.78,249.64 L782.63,250.10 L783.47,250.56 L784.32,251.03 L785.16,251.50 L785.99,251.98 L786.82,252.47 L787.65,252.96 L788.47,253.47 L789.28,253.97 L790.10,254.49 L790.90,255.01 L791.71,255.54 L792.50,256.07 L793.30,256.61 L794.08,257.16 L794.86,257.71 L795.64,258.27 L796.41,258.84 L797.18,259.41 L797.93,259.99 L798.69,260.58 L799.44,261.17 L800.18,261.77 L800.91,262.37 L801.64,262.99 L802.36,263.60 L803.08,264.23 L803.79,264.86 L804.49,265.50 L805.19,266.14 L805.88,266.79 L806.56,267.45 L807.24,268.12 L807.90,268.79 L808.56,269.46 L809.22,270.15 L809.86,270.84 L810.50,271.53 L811.13,272.23 L811.76,272.94 L812.37,273.66 L812.98,274.38 L813.58,275.11 L814.17,275.84 L814.75,276.58 L815.32,277.33 L815.89,278.09 L816.44,278.85 L816.99,279.61 L817.53,280.39 L818.06,281.16 L818.59,281.95 L819.10,282.74 L819.61,283.54 L820.11,284.34 L820.60,285.15 L821.08,285.96 L821.56,286.78 L822.02,287.60 L822.48,288.43 L822.94,289.27 L823.38,290.11 L823.82,290.95 L824.25,291.80 L824.68,292.65 L825.09,293.51 L825.50,294.37 L825.90,295.24 L826.30,296.11 L826.69,296.98 L827.07,297.86 L827.45,298.74 L827.82,299.63 L828.18,300.52 L828.54,301.41 L828.89,302.31 L829.24,303.21 L829.58,304.12 L829.91,305.02 L830.24,305.93 L830.56,306.85 L830.87,307.76 L831.18,308.68 L831.49,309.60 L831.79,310.53 L832.08,311.45 L832.37,312.38 L832.66,313.31 L832.94,314.24 L833.21,315.18 L833.48,316.12 L833.74,317.05 L834.00,317.99 L834.26,318.94 L834.51,319.88 L834.76,320.82 L835.00,321.77 L835.24,322.72 L835.47,323.67 L835.70,324.62 L835.92,325.57 L836.15,326.52 L836.36,327.47 L836.58,328.42 L836.79,329.37 L837.00,330.33 L837.20,331.28 L837.40,332.23 L837.60,333.19 L837.79,334.14 L837.98,335.09 L838.17,336.05 L838.35,337.00 L838.54,337.95 L838.71,338.90 L838.89,339.86 L839.07,340.81 L839.24,341.76 L839.41,342.71 L839.58,343.67 L839.74,344.62 L839.90,345.57 L840.07,346.52 L840.23,347.47 L840.38,348.42 L840.54,349.37 L840.70,350.32 L840.85,351.27 L841.00,352.22 L841.16,353.17 L841.31,354.12 L841.46,355.07 L841.61,356.02 L841.75,356.97 L841.90,357.92 L842.05,358.87 L842.20,359.82 L842.34,360.76 L842.49,361.71 L842.64,362.66 L842.78,363.60 L842.93,364.55 L843.08,365.49 L843.22,366.44 L843.37,367.38 L843.52,368.33 L843.67,369.27 L843.82,370.21 L843.97,371.16 L844.12,372.10 L844.27,373.04 L844.43,373.98 L844.58,374.92 L844.74,375.87 L844.89,376.81 L845.05,377.74 L845.22,378.68 L845.38,379.62 L845.54,380.56 L845.71,381.50 L845.88,382.43 L846.05,383.37 L846.22,384.31 L846.40,385.24 L846.58,386.17 L846.76,387.11 L846.94,388.04 L847.13,388.97 L847.32,389.91 L847.51,390.84 L847.71,391.77" stroke="#5596ff" stroke-width="1.9"/>
<path d="M479.93,135.68 L480.89,135.80 L481.85,135.92 L482.81,136.05 L483.77,136.19 L484.73,136.33 L485.69,136.47 L486.65,136.61 L487.61,136.76 L488.56,136.91 L489.52,137.07 L490.47,137.23 L491.43,137.39 L492.38,137.56 L493.34,137.73 L494.29,137.90 L495.25,138.08 L496.20,138.26 L497.15,138.44 L498.10,138.63 L499.05,138.82 L500.00,139.01 L500.95,139.21 L501.90,139.41 L502.85,139.61 L503.80,139.82 L504.75,140.02 L505.70,140.24 L506.64,140.45 L507.59,140.67 L508.54,140.89 L509.48,141.11 L510.43,141.34 L511.37,141.57 L512.32,141.80 L513.26,142.04 L514.21,142.27 L515.15,142.51 L516.09,142.76 L517.03,143.00 L517.97,143.25 L518.92,143.50 L519.86,143.75 L520.80,144.01 L521.74,144.27 L522.68,144.53 L523.62,144.79 L524.56,145.05 L525.49,145.32 L526.43,145.59 L527.37,145.86 L528.31,146.14 L529.24,146.41 L530.18,146.69 L531.12,146.97 L532.05,147.26 L532.99,147.54 L533.92,147.83 L534.86,148.12 L535.79,148.41 L536.73,148.70 L537.66,148.99 L538.59,149.29 L539.52,149.59 L540.46,149.89 L541.39,150.19 L542.32,150.49 L543.25,150.80 L544.18,151.11 L545.11,151.42 L546.04,151.73 L546.98,152.04 L547.90,152.35 L548.83,152.66 L549.76,152.98 L550.69,153.30 L551.62,153.62 L552.55,153.94 L553.48,154.26 L554.40,154.58 L555.33,154.91 L556.26,155.23 L557.19,155.56 L558.11,155.89 L559.04,156.22 L559.97,156.55 L560.89,156.88 L561.82,157.21 L562.74,157.54 L563.67,157.88 L564.59,158.21 L565.52,158.55 L566.44,158.88 L567.36,159.22 L568.29,159.56 L569.21,159.90 L570.13,160.24 L571.06,160.58 L571.98,160.92 L572.90,161.26 L573.82,161.60 L574.75,161.95 L575.67,162.29 L576.59,162.63 L577.51,162.98 L578.43,163.32 L579.35,163.67 L580.28,164.01 L581.20,164.36 L582.12,164.71 L583.04,165.05 L583.96,165.40 L584.88,165.74 L585.80,166.09 L586.72,166.44 L587.64,166.79 L588.55,167.13 L589.47,167.48 L590.39,167.83 L591.31,168.18 L592.23,168.52 L593.15,168.87 L594.07,169.22 L594.99,169.56 L595.90,169.91 L596.82,170.26 L597.74,170.60 L598.66,170.95 L599.58,171.29 L600.49,171.64 L601.41,171.98 L602.33,172.33 L603.24,172.67 L604.16,173.02 L605.08,173.36 L606.00,173.71 L606.91,174.05 L607.83,174.39 L608.75,174.73 L609.66,175.08 L610.58,175.42 L611.50,175.76 L612.41,176.10 L613.33,176.44 L614.25,176.78 L615.16,177.12 L616.08,177.46 L617.00,177.80 L617.91,178.14 L618.83,178.48 L619.74,178.82 L620.66,179.16 L621.58,179.50 L622.49,179.83 L623.41,180.17 L624.33,180.51 L625.24,180.84 L626.16,181.18 L627.08,181.51 L627.99,181.85 L628.91,182.18 L629.83,182.52 L630.75,182.85 L631.66,183.19 L632.58,183.52 L633.50,183.85 L634.41,184.18 L635.33,184.52 L636.25,184.85 L637.17,185.18 L638.09,185.51 L639.00,185.84 L639.92,186.17 L640.84,186.50 L641.76,186.83 L642.68,187.15 L643.59,187.48 L644.51,187.81 L645.43,188.14 L646.35,188.46 L647.27,188.79 L648.19,189.11 L649.11,189.44 L650.03,189.76 L650.95,190.09 L651.87,190.41 L652.79,190.73 L653.71,191.05 L654.63,191.38 L655.55,191.70 L656.48,192.02 L657.40,192.34 L658.32,192.66 L659.24,192.98 L660.16,193.30 L661.09,193.61 L662.01,193.93 L662.93,194.25 L663.86,194.56 L664.78,194.88 L665.70,195.20 L666.63,195.51 L667.55,195.82 L668.48,196.14 L669.40,196.45 L670.33,196.76 L671.25,197.07 L672.18,197.39 L673.11,197.70 L674.03,198.01 L674.96,198.32 L675.89,198.62 L676.82,198.93 L677.74,199.24 L678.67,199.55 L679.60,199.85 L680.53,200.16 L681.46,200.46 L682.39,200.77 L683.32,201.07 L684.25,201.38 L685.18,201.68 L686.11,201.98 L687.05,202.28 L687.98,202.58 L688.91,202.88 L689.85,203.18 L690.78,203.48 L691.71,203.78 L692.65,204.07 L693.58,204.37 L694.52,204.66 L695.46,204.96 L696.39,205.25 L697.33,205.55 L698.27,205.84 L699.20,206.13 L700.14,206.42 L701.08,206.71 L702.02,207.00 L702.96,207.29 L703.90,207.58 L704.84,207.87 L705.78,208.16 L706.73,208.44 L707.67,208.73 L708.61,209.01 L709.56,209.30 L710.50,209.58 L711.45,209.86 L712.39,210.14 L713.34,210.43 L714.28,210.71 L715.23,210.99 L716.18,211.27 L717.12,211.54 L718.07,211.82 L719.02,212.10 L719.97,212.38 L720.91,212.66 L721.86,212.94 L722.81,213.23 L723.75,213.51 L724.70,213.79 L725.65,214.08 L726.59,214.36 L727.54,214.65 L728.48,214.94 L729.42,215.23 L730.37,215.52 L731.31,215.81 L732.25,216.11 L733.19,216.40 L734.12,216.70 L735.06,217.00 L735.99,217.31 L736.93,217.62 L737.86,217.93 L738.79,218.24 L739.72,218.56 L740.65,218.88 L741.57,219.20 L742.50,219.53 L743.42,219.86 L744.34,220.19 L745.26,220.53 L746.17,220.87 L747.08,221.21 L747.99,221.56 L748.90,221.92 L749.81,222.28 L750.71,222.64 L751.61,223.01 L752.51,223.38 L753.40,223.76 L754.30,224.15 L755.18,224.54 L756.07,224.93 L756.95,225.33 L757.83,225.74 L758.71,226.15 L759.58,226.57 L760.45,227.00 L761.32,227.43 L762.18,227.86 L763.04,228.31 L763.89,228.76 L764.74,229.22 L765.59,229.68 L766.43,230.15 L767.27,230.63 L768.10,231.12 L768.93,231.61 L769.76,232.12 L770.58,232.63 L771.40,233.14 L772.21,233.67 L773.02,234.20 L773.82,234.74 L774.62,235.29 L775.42,235.85 L776.21,236.41 L776.99,236.98 L777.77,237.56 L778.55,238.14 L779.32,238.73 L780.08,239.33 L780.85,239.94 L781.60,240.55 L782.35,241.17 L783.10,241.79 L783.84,242.43 L784.58,243.07 L785.31,243.71 L786.03,244.36 L786.75,245.02 L787.47,245.69 L788.18,246.36 L788.88,247.03 L789.58,247.71 L790.28,248.40 L790.97,249.10 L791.65,249.80 L792.33,250.50 L793.00,251.22 L793.67,251.93 L794.33,252.66 L794.98,253.38 L795.63,254.12 L796.28,254.86 L796.91,255.60 L797.55,256.35 L798.17,257.10 L798.79,257.86 L799.41,258.63 L800.02,259.40 L800.62,260.17 L801.22,260.95 L801.81,261.73 L802.40,262.52 L802.97,263.31 L803.55,264.11 L804.11,264.91 L804.67,265.71 L805.23,266.52 L805.78,267.34 L806.32,268.15 L806.85,268.98 L807.38,269.80 L807.90,270.63 L808.42,271.46 L808.93,272.30 L809.43,273.14 L809.93,273.98 L810.42,274.83 L810.90,275.68 L811.38,276.53 L811.85,277.39 L812.31,278.25 L812.77,279.11 L813.22,279.98 L813.66,280.85 L814.10,281.72 L814.53,282.60 L814.96,283.48 L815.38,284.36 L815.80,285.24 L816.21,286.13 L816.61,287.02 L817.01,287.91 L817.40,288.80 L817.79,289.70 L818.17,290.60 L818.55,291.50 L818.92,292.40 L819.29,293.31 L819.65,294.22 L820.01,295.13 L820.37,296.04 L820.71,296.96 L821.06,297.87 L821.40,298.79 L821.73,299.71 L822.07,300.63 L822.39,301.56 L822.72,302.48 L823.04,303.41 L823.35,304.34 L823.67,305.27 L823.97,306.20 L824.28,307.13 L824.58,308.07 L824.88,309.00 L825.17,309.94 L825.46,310.88 L825.75,311.82 L826.04,312.76 L826.32,313.70 L826.60,314.64 L826.87,315.58 L827.15,316.53 L827.42,317.47 L827.69,318.42 L827.96,319.36 L828.22,320.31 L828.48,321.26 L828.74,322.20 L829.00,323.15 L829.25,324.10 L829.51,325.05 L829.76,326.00 L830.01,326.95 L830.26,327.90 L830.51,328.85 L830.75,329.80 L831.00,330.75 L831.24,331.70 L831.48,332.65 L831.72,333.60 L831.96,334.55 L832.20,335.50 L832.44,336.44 L832.67,337.39 L832.91,338.34 L833.14,339.29 L833.38,340.24 L833.61,341.19 L833.84,342.14 L834.07,343.08 L834.30,344.03 L834.52,344.98 L834.75,345.93 L834.97,346.88 L835.19,347.83 L835.41,348.78 L835.63,349.72 L835.85,350.67 L836.06,351.62 L836.28,352.57 L836.49,353.52 L836.70,354.47 L836.91,355.42 L837.11,356.38 L837.32,357.33 L837.52,358.28 L837.72,359.23 L837.92,360.18 L838.12,361.14 L838.31,362.09 L838.50,363.04 L838.69,364.00 L838.88,364.95 L839.07,365.91 L839.25,366.87 L839.43,367.82 L839.61,368.78 L839.79,369.74 L839.96,370.70 L840.13,371.66 L840.30,372.62 L840.47,373.58 L840.63,374.54 L840.80,375.50 L840.95,376.47 L841.11,377.43 L841.26,378.40 L841.42,379.37 L841.56,380.33 L841.71,381.30 L841.85,382.27 L841.99,383.24 L842.13,384.21 L842.26,385.19 L842.39,386.16 L842.52,387.13 L842.64,388.11 L842.76,389.09 L842.88,390.07 L843.00,391.05 L843.11,392.03" stroke="#33ff00" stroke-width="1.9"/>
<path d="M479.89,113.45 L480.85,113.68 L481.82,113.92 L482.79,114.16 L483.75,114.40 L484.72,114.64 L485.68,114.88 L486.64,115.12 L487.61,115.37 L488.57,115.61 L489.53,115.86 L490.49,116.11 L491.46,116.35 L492.42,116.60 L493.38,116.85 L494.34,117.10 L495.30,117.36 L496.25,117.61 L497.21,117.86 L498.17,118.12 L499.13,118.37 L500.08,118.63 L501.04,118.89 L502.00,119.15 L502.95,119.41 L503.91,119.67 L504.86,119.93 L505.82,120.19 L506.77,120.46 L507.72,120.72 L508.68,120.99 L509.63,121.25 L510.58,121.52 L511.53,121.79 L512.49,122.06 L513.44,122.33 L514.39,122.60 L515.34,122.87 L516.29,123.14 L517.24,123.42 L518.19,123.69 L519.13,123.97 L520.08,124.24 L521.03,124.52 L521.98,124.80 L522.93,125.08 L523.87,125.36 L524.82,125.64 L525.77,125.92 L526.71,126.21 L527.66,126.49 L528.61,126.77 L529.55,127.06 L530.50,127.35 L531.44,127.63 L532.38,127.92 L533.33,128.21 L534.27,128.50 L535.22,128.79 L536.16,129.08 L537.10,129.37 L538.05,129.67 L538.99,129.96 L539.93,130.26 L540.87,130.55 L541.82,130.85 L542.76,131.15 L543.70,131.45 L544.64,131.74 L545.58,132.04 L546.52,132.34 L547.46,132.65 L548.40,132.95 L549.34,133.25 L550.28,133.56 L551.22,133.86 L552.16,134.17 L553.10,134.47 L554.04,134.78 L554.98,135.09 L555.92,135.40 L556.86,135.70 L557.80,136.02 L558.74,136.33 L559.68,136.64 L560.61,136.95 L561.55,137.26 L562.49,137.58 L563.43,137.89 L564.37,138.21 L565.30,138.52 L566.24,138.84 L567.18,139.16 L568.12,139.48 L569.05,139.80 L569.99,140.12 L570.93,140.44 L571.87,140.76 L572.80,141.08 L573.74,141.40 L574.68,141.73 L575.62,142.05 L576.55,142.38 L577.49,142.70 L578.43,143.03 L579.36,143.36 L580.30,143.68 L581.24,144.01 L582.17,144.34 L583.11,144.67 L584.05,145.00 L584.99,145.33 L585.92,145.66 L586.86,146.00 L587.80,146.33 L588.73,146.66 L589.67,147.00 L590.61,147.33 L591.54,147.67 L592.48,148.01 L593.42,148.34 L594.36,148.68 L595.29,149.02 L596.23,149.36 L597.17,149.70 L598.11,150.04 L599.04,150.38 L599.98,150.72 L600.92,151.06 L601.86,151.40 L602.80,151.75 L603.73,152.09 L604.67,152.44 L605.61,152.78 L606.55,153.13 L607.49,153.47 L608.42,153.82 L609.36,154.16 L610.30,154.51 L611.24,154.86 L612.18,155.21 L613.12,155.55 L614.06,155.90 L615.00,156.25 L615.94,156.60 L616.88,156.95 L617.81,157.30 L618.75,157.65 L619.69,158.00 L620.63,158.34 L621.57,158.69 L622.51,159.04 L623.45,159.39 L624.39,159.74 L625.33,160.09 L626.27,160.44 L627.21,160.79 L628.15,161.14 L629.09,161.49 L630.03,161.84 L630.97,162.19 L631.91,162.54 L632.85,162.89 L633.80,163.24 L634.74,163.59 L635.68,163.94 L636.62,164.29 L637.56,164.64 L638.50,164.99 L639.44,165.33 L640.38,165.68 L641.32,166.03 L642.26,166.38 L643.21,166.72 L644.15,167.07 L645.09,167.42 L646.03,167.76 L646.97,168.11 L647.91,168.45 L648.86,168.79 L649.80,169.14 L650.74,169.48 L651.68,169.82 L652.62,170.16 L653.57,170.51 L654.51,170.85 L655.45,171.19 L656.39,171.53 L657.33,171.86 L658.28,172.20 L659.22,172.54 L660.16,172.88 L661.10,173.21 L662.05,173.55 L662.99,173.88 L663.93,174.21 L664.88,174.55 L665.82,174.88 L666.76,175.21 L667.71,175.54 L668.65,175.86 L669.59,176.19 L670.54,176.52 L671.48,176.84 L672.43,177.17 L673.37,177.49 L674.32,177.81 L675.26,178.13 L676.21,178.45 L677.15,178.77 L678.10,179.08 L679.04,179.40 L679.99,179.71 L680.93,180.02 L681.88,180.33 L682.83,180.64 L683.77,180.95 L684.72,181.26 L685.67,181.56 L686.62,181.87 L687.57,182.17 L688.51,182.47 L689.46,182.77 L690.41,183.06 L691.36,183.36 L692.31,183.65 L693.26,183.95 L694.21,184.24 L695.16,184.53 L696.11,184.83 L697.06,185.12 L698.01,185.41 L698.95,185.71 L699.90,186.00 L700.85,186.30 L701.80,186.59 L702.75,186.89 L703.70,187.19 L704.64,187.49 L705.59,187.79 L706.53,188.10 L707.48,188.41 L708.42,188.72 L709.37,189.03 L710.31,189.35 L711.25,189.67 L712.20,189.99 L713.14,190.31 L714.08,190.64 L715.01,190.98 L715.95,191.32 L716.89,191.66 L717.82,192.01 L718.76,192.36 L719.69,192.72 L720.62,193.08 L721.55,193.44 L722.48,193.81 L723.41,194.19 L724.34,194.57 L725.26,194.96 L726.18,195.35 L727.10,195.74 L728.02,196.14 L728.94,196.55 L729.85,196.96 L730.76,197.37 L731.67,197.79 L732.58,198.22 L733.48,198.65 L734.38,199.08 L735.28,199.52 L736.18,199.97 L737.07,200.42 L737.96,200.87 L738.85,201.33 L739.74,201.80 L740.62,202.27 L741.50,202.75 L742.37,203.23 L743.24,203.71 L744.11,204.21 L744.98,204.70 L745.84,205.21 L746.69,205.72 L747.55,206.23 L748.40,206.75 L749.24,207.28 L750.09,207.81 L750.92,208.34 L751.76,208.88 L752.59,209.43 L753.41,209.99 L754.23,210.54 L755.05,211.11 L755.86,211.68 L756.67,212.25 L757.47,212.84 L758.27,213.42 L759.06,214.02 L759.85,214.62 L760.64,215.22 L761.41,215.83 L762.19,216.45 L762.95,217.07 L763.72,217.70 L764.47,218.34 L765.22,218.98 L765.97,219.62 L766.71,220.28 L767.44,220.94 L768.17,221.60 L768.89,222.27 L769.61,222.95 L770.32,223.63 L771.03,224.32 L771.72,225.02 L772.42,225.72 L773.10,226.43 L773.78,227.14 L774.46,227.86 L775.13,228.59 L775.79,229.32 L776.45,230.05 L777.10,230.80 L777.75,231.54 L778.39,232.30 L779.02,233.05 L779.65,233.82 L780.28,234.58 L780.89,235.36 L781.51,236.13 L782.12,236.91 L782.72,237.70 L783.32,238.49 L783.91,239.29 L784.50,240.09 L785.08,240.89 L785.66,241.70 L786.23,242.51 L786.80,243.33 L787.36,244.15 L787.92,244.98 L788.47,245.81 L789.02,246.64 L789.56,247.47 L790.10,248.31 L790.64,249.16 L791.16,250.00 L791.69,250.85 L792.21,251.71 L792.73,252.56 L793.24,253.42 L793.75,254.28 L794.25,255.15 L794.75,256.02 L795.24,256.89 L795.74,257.76 L796.22,258.64 L796.70,259.52 L797.18,260.40 L797.66,261.28 L798.13,262.17 L798.60,263.05 L799.06,263.94 L799.52,264.84 L799.97,265.73 L800.43,266.62 L800.87,267.52 L801.32,268.42 L801.76,269.32 L802.20,270.22 L802.63,271.13 L803.06,272.03 L803.49,272.94 L803.91,273.84 L804.33,274.75 L804.75,275.66 L805.16,276.57 L805.58,277.48 L805.98,278.39 L806.39,279.30 L806.79,280.22 L807.19,281.13 L807.58,282.05 L807.98,282.97 L808.37,283.88 L808.75,284.80 L809.14,285.72 L809.52,286.64 L809.89,287.56 L810.27,288.48 L810.64,289.41 L811.01,290.33 L811.37,291.25 L811.74,292.18 L812.10,293.11 L812.45,294.03 L812.81,294.96 L813.16,295.89 L813.51,296.82 L813.86,297.75 L814.20,298.68 L814.54,299.61 L814.88,300.55 L815.22,301.48 L815.55,302.41 L815.88,303.35 L816.21,304.29 L816.53,305.22 L816.86,306.16 L817.18,307.10 L817.49,308.04 L817.81,308.98 L818.12,309.92 L818.43,310.86 L818.74,311.80 L819.05,312.74 L819.35,313.69 L819.65,314.63 L819.95,315.58 L820.25,316.52 L820.54,317.47 L820.83,318.42 L821.12,319.37 L821.41,320.31 L821.70,321.26 L821.98,322.21 L822.26,323.16 L822.54,324.12 L822.82,325.07 L823.09,326.02 L823.37,326.97 L823.64,327.93 L823.91,328.88 L824.17,329.84 L824.44,330.79 L824.70,331.75 L824.96,332.71 L825.22,333.66 L825.48,334.62 L825.74,335.58 L825.99,336.54 L826.24,337.50 L826.49,338.46 L826.74,339.42 L826.99,340.38 L827.23,341.35 L827.47,342.31 L827.72,343.27 L827.96,344.24 L828.19,345.20 L828.43,346.16 L828.66,347.13 L828.90,348.10 L829.13,349.06 L829.36,350.03 L829.59,351.00 L829.82,351.97 L830.04,352.93 L830.27,353.90 L830.49,354.87 L830.71,355.84 L830.93,356.81 L831.15,357.78 L831.37,358.75 L831.58,359.73 L831.80,360.70 L832.01,361.67 L832.22,362.64 L832.44,363.62 L832.65,364.59 L832.85,365.57 L833.06,366.54 L833.27,367.52 L833.47,368.49 L833.68,369.47 L833.88,370.44 L834.08,371.42 L834.28,372.40 L834.48,373.37 L834.68,374.35 L834.88,375.33 L835.08,376.31 L835.27,377.29 L835.47,378.27 L835.66,379.25 L835.86,380.23 L836.05,381.21 L836.24,382.19 L836.43,383.17 L836.62,384.15 L836.81,385.13 L837.00,386.11 L837.19,387.09 L837.38,388.08 L837.56,389.06 L837.75,390.04 L837.94,391.02 L838.12,392.01" stroke="#ccff10" stroke-width="1.9"/>
<path d="M479.89,92.98 L480.89,93.15 L481.89,93.32 L482.89,93.50 L483.89,93.68 L484.89,93.86 L485.89,94.05 L486.89,94.24 L487.88,94.43 L488.88,94.63 L489.87,94.83 L490.87,95.03 L491.86,95.23 L492.85,95.44 L493.84,95.65 L494.83,95.86 L495.82,96.07 L496.81,96.29 L497.80,96.51 L498.79,96.73 L499.78,96.96 L500.76,97.19 L501.75,97.42 L502.74,97.65 L503.72,97.88 L504.70,98.12 L505.69,98.36 L506.67,98.60 L507.65,98.85 L508.63,99.10 L509.61,99.35 L510.59,99.60 L511.57,99.85 L512.55,100.11 L513.53,100.37 L514.50,100.63 L515.48,100.89 L516.46,101.16 L517.43,101.42 L518.40,101.69 L519.38,101.96 L520.35,102.24 L521.32,102.51 L522.30,102.79 L523.27,103.07 L524.24,103.35 L525.21,103.63 L526.18,103.92 L527.15,104.20 L528.12,104.49 L529.08,104.78 L530.05,105.07 L531.02,105.37 L531.99,105.66 L532.95,105.96 L533.92,106.26 L534.88,106.56 L535.84,106.86 L536.81,107.16 L537.77,107.47 L538.73,107.77 L539.70,108.08 L540.66,108.39 L541.62,108.70 L542.58,109.01 L543.54,109.33 L544.50,109.64 L545.46,109.96 L546.42,110.27 L547.38,110.59 L548.33,110.91 L549.29,111.23 L550.25,111.55 L551.21,111.88 L552.16,112.20 L553.12,112.53 L554.07,112.85 L555.03,113.18 L555.99,113.51 L556.94,113.83 L557.90,114.16 L558.85,114.49 L559.80,114.82 L560.76,115.15 L561.71,115.48 L562.67,115.82 L563.62,116.15 L564.58,116.48 L565.53,116.81 L566.48,117.15 L567.44,117.48 L568.39,117.82 L569.34,118.15 L570.30,118.49 L571.25,118.82 L572.21,119.16 L573.16,119.49 L574.11,119.83 L575.07,120.16 L576.02,120.50 L576.98,120.83 L577.93,121.17 L578.89,121.50 L579.84,121.84 L580.80,122.17 L581.75,122.50 L582.71,122.84 L583.66,123.17 L584.62,123.50 L585.58,123.84 L586.53,124.17 L587.49,124.50 L588.45,124.83 L589.41,125.16 L590.36,125.49 L591.32,125.82 L592.28,126.15 L593.24,126.48 L594.20,126.80 L595.16,127.13 L596.12,127.45 L597.08,127.78 L598.05,128.10 L599.01,128.42 L599.97,128.74 L600.94,129.06 L601.90,129.38 L602.87,129.70 L603.83,130.01 L604.80,130.33 L605.76,130.64 L606.73,130.96 L607.70,131.27 L608.67,131.58 L609.64,131.89 L610.61,132.20 L611.58,132.51 L612.55,132.82 L613.52,133.13 L614.49,133.43 L615.46,133.74 L616.43,134.05 L617.40,134.35 L618.37,134.66 L619.35,134.96 L620.32,135.26 L621.29,135.57 L622.27,135.87 L623.24,136.17 L624.21,136.47 L625.19,136.78 L626.16,137.08 L627.14,137.38 L628.11,137.68 L629.08,137.98 L630.06,138.28 L631.03,138.59 L632.01,138.89 L632.98,139.19 L633.96,139.49 L634.93,139.79 L635.91,140.09 L636.88,140.40 L637.86,140.70 L638.83,141.00 L639.81,141.30 L640.78,141.61 L641.76,141.91 L642.73,142.21 L643.71,142.52 L644.68,142.82 L645.66,143.13 L646.63,143.44 L647.60,143.74 L648.58,144.05 L649.55,144.36 L650.52,144.67 L651.50,144.98 L652.47,145.29 L653.44,145.60 L654.41,145.91 L655.38,146.23 L656.35,146.54 L657.33,146.86 L658.30,147.17 L659.27,147.49 L660.23,147.81 L661.20,148.13 L662.17,148.45 L663.14,148.78 L664.11,149.10 L665.07,149.42 L666.04,149.75 L667.01,150.08 L667.97,150.41 L668.94,150.74 L669.90,151.07 L670.86,151.40 L671.83,151.74 L672.79,152.08 L673.75,152.41 L674.71,152.75 L675.67,153.09 L676.63,153.44 L677.59,153.78 L678.55,154.13 L679.51,154.47 L680.47,154.82 L681.43,155.17 L682.38,155.53 L683.34,155.88 L684.29,156.24 L685.25,156.59 L686.20,156.95 L687.16,157.31 L688.11,157.68 L689.06,158.04 L690.01,158.41 L690.96,158.78 L691.91,159.15 L692.86,159.52 L693.81,159.89 L694.76,160.27 L695.70,160.65 L696.65,161.03 L697.59,161.41 L698.54,161.80 L699.48,162.18 L700.42,162.58 L701.36,162.97 L702.30,163.37 L703.23,163.77 L704.16,164.17 L705.10,164.58 L706.03,165.00 L706.95,165.41 L707.88,165.84 L708.80,166.26 L709.72,166.69 L710.63,167.13 L711.54,167.57 L712.45,168.02 L713.36,168.47 L714.26,168.93 L715.16,169.39 L716.06,169.86 L716.95,170.34 L717.83,170.82 L718.72,171.31 L719.60,171.81 L720.47,172.31 L721.34,172.82 L722.21,173.34 L723.07,173.86 L723.92,174.39 L724.77,174.93 L725.62,175.48 L726.46,176.03 L727.30,176.59 L728.13,177.16 L728.96,177.74 L729.78,178.32 L730.60,178.91 L731.41,179.50 L732.22,180.10 L733.02,180.71 L733.82,181.33 L734.61,181.95 L735.40,182.58 L736.18,183.22 L736.95,183.86 L737.73,184.51 L738.49,185.16 L739.25,185.82 L740.01,186.49 L740.76,187.17 L741.51,187.85 L742.24,188.53 L742.98,189.23 L743.71,189.93 L744.43,190.63 L745.15,191.35 L745.86,192.07 L746.57,192.79 L747.27,193.52 L747.97,194.26 L748.66,195.00 L749.35,195.75 L750.03,196.50 L750.70,197.26 L751.37,198.02 L752.04,198.79 L752.70,199.56 L753.36,200.33 L754.01,201.12 L754.66,201.90 L755.30,202.69 L755.94,203.48 L756.58,204.28 L757.21,205.07 L757.84,205.88 L758.47,206.68 L759.09,207.49 L759.71,208.30 L760.32,209.11 L760.93,209.93 L761.54,210.75 L762.15,211.57 L762.75,212.39 L763.35,213.21 L763.95,214.04 L764.54,214.87 L765.13,215.70 L765.72,216.53 L766.30,217.36 L766.89,218.20 L767.47,219.03 L768.04,219.87 L768.62,220.71 L769.19,221.55 L769.76,222.39 L770.33,223.23 L770.89,224.08 L771.45,224.92 L772.01,225.77 L772.57,226.62 L773.12,227.47 L773.67,228.32 L774.22,229.18 L774.76,230.03 L775.30,230.89 L775.84,231.75 L776.37,232.61 L776.90,233.47 L777.43,234.33 L777.95,235.20 L778.47,236.07 L778.99,236.94 L779.50,237.81 L780.01,238.68 L780.52,239.56 L781.02,240.43 L781.52,241.31 L782.02,242.19 L782.51,243.07 L783.00,243.96 L783.48,244.85 L783.97,245.73 L784.44,246.63 L784.92,247.52 L785.39,248.41 L785.85,249.31 L786.31,250.21 L786.77,251.11 L787.23,252.01 L787.68,252.92 L788.13,253.82 L788.57,254.73 L789.01,255.64 L789.45,256.55 L789.89,257.46 L790.32,258.38 L790.75,259.30 L791.17,260.21 L791.60,261.13 L792.02,262.05 L792.43,262.97 L792.85,263.90 L793.26,264.82 L793.67,265.75 L794.07,266.68 L794.48,267.60 L794.88,268.53 L795.28,269.46 L795.67,270.40 L796.07,271.33 L796.46,272.26 L796.85,273.20 L797.23,274.14 L797.62,275.07 L798.00,276.01 L798.38,276.95 L798.75,277.89 L799.13,278.83 L799.50,279.77 L799.87,280.72 L800.24,281.66 L800.61,282.61 L800.97,283.55 L801.33,284.50 L801.69,285.45 L802.05,286.39 L802.41,287.34 L802.76,288.29 L803.11,289.25 L803.46,290.20 L803.81,291.15 L804.15,292.10 L804.50,293.06 L804.84,294.01 L805.18,294.97 L805.51,295.93 L805.85,296.88 L806.18,297.84 L806.51,298.80 L806.84,299.76 L807.17,300.72 L807.50,301.68 L807.82,302.64 L808.14,303.61 L808.46,304.57 L808.78,305.53 L809.10,306.50 L809.41,307.46 L809.72,308.43 L810.03,309.40 L810.34,310.37 L810.65,311.33 L810.96,312.30 L811.26,313.27 L811.56,314.24 L811.86,315.21 L812.16,316.18 L812.46,317.15 L812.75,318.13 L813.05,319.10 L813.34,320.07 L813.63,321.05 L813.92,322.02 L814.21,322.99 L814.49,323.97 L814.78,324.94 L815.06,325.92 L815.34,326.90 L815.62,327.87 L815.90,328.85 L816.18,329.83 L816.45,330.81 L816.73,331.79 L817.00,332.77 L817.27,333.75 L817.54,334.73 L817.81,335.71 L818.07,336.69 L818.34,337.67 L818.60,338.65 L818.86,339.63 L819.13,340.61 L819.39,341.60 L819.64,342.58 L819.90,343.56 L820.16,344.55 L820.41,345.53 L820.67,346.51 L820.92,347.50 L821.17,348.48 L821.42,349.47 L821.67,350.45 L821.92,351.44 L822.16,352.42 L822.41,353.41 L822.65,354.39 L822.89,355.38 L823.14,356.36 L823.38,357.35 L823.62,358.34 L823.85,359.32 L824.09,360.31 L824.33,361.30 L824.56,362.28 L824.80,363.27 L825.03,364.26 L825.26,365.24 L825.50,366.23 L825.73,367.22 L825.96,368.20 L826.18,369.19 L826.41,370.18 L826.64,371.17 L826.87,372.15 L827.09,373.14 L827.31,374.13 L827.54,375.12 L827.76,376.10 L827.98,377.09 L828.20,378.08 L828.42,379.06 L828.64,380.05 L828.86,381.04 L829.08,382.02 L829.30,383.01 L829.51,384.00 L829.73,384.98 L829.94,385.97 L830.16,386.96 L830.37,387.94 L830.58,388.93 L830.80,389.91 L831.01,390.90 L831.22,391.89" stroke="#ffd61e" stroke-width="1.9"/>
<path d="M479.84,67.58 L480.87,67.76 L481.90,67.95 L482.93,68.13 L483.96,68.32 L484.99,68.51 L486.01,68.70 L487.04,68.90 L488.07,69.09 L489.09,69.29 L490.12,69.48 L491.14,69.68 L492.16,69.88 L493.18,70.08 L494.21,70.28 L495.23,70.49 L496.25,70.69 L497.27,70.90 L498.29,71.10 L499.31,71.31 L500.33,71.52 L501.35,71.73 L502.36,71.94 L503.38,72.16 L504.40,72.37 L505.41,72.59 L506.43,72.80 L507.45,73.02 L508.46,73.24 L509.48,73.46 L510.49,73.68 L511.50,73.90 L512.52,74.12 L513.53,74.35 L514.54,74.57 L515.56,74.80 L516.57,75.03 L517.58,75.25 L518.59,75.48 L519.60,75.71 L520.61,75.94 L521.62,76.18 L522.63,76.41 L523.64,76.64 L524.65,76.88 L525.66,77.11 L526.67,77.35 L527.68,77.59 L528.69,77.82 L529.70,78.06 L530.71,78.30 L531.71,78.54 L532.72,78.78 L533.73,79.02 L534.74,79.27 L535.74,79.51 L536.75,79.75 L537.76,80.00 L538.76,80.24 L539.77,80.49 L540.78,80.74 L541.78,80.98 L542.79,81.23 L543.80,81.48 L544.80,81.73 L545.81,81.98 L546.81,82.23 L547.82,82.48 L548.82,82.73 L549.83,82.98 L550.84,83.23 L551.84,83.49 L552.85,83.74 L553.85,83.99 L554.86,84.25 L555.86,84.50 L556.87,84.76 L557.88,85.01 L558.88,85.27 L559.89,85.52 L560.89,85.78 L561.90,86.04 L562.91,86.29 L563.91,86.55 L564.92,86.81 L565.92,87.07 L566.93,87.32 L567.94,87.58 L568.94,87.84 L569.95,88.10 L570.96,88.36 L571.97,88.62 L572.97,88.88 L573.98,89.14 L574.99,89.40 L576.00,89.66 L577.01,89.92 L578.01,90.18 L579.02,90.44 L580.03,90.70 L581.04,90.96 L582.05,91.22 L583.06,91.48 L584.07,91.74 L585.08,92.00 L586.09,92.26 L587.10,92.52 L588.11,92.78 L589.13,93.04 L590.14,93.30 L591.15,93.57 L592.16,93.83 L593.17,94.09 L594.19,94.35 L595.20,94.61 L596.22,94.87 L597.23,95.13 L598.25,95.39 L599.26,95.64 L600.28,95.90 L601.29,96.16 L602.31,96.42 L603.33,96.68 L604.35,96.94 L605.36,97.20 L606.38,97.45 L607.40,97.71 L608.42,97.97 L609.44,98.22 L610.46,98.48 L611.48,98.74 L612.50,98.99 L613.53,99.25 L614.55,99.51 L615.57,99.76 L616.59,100.02 L617.61,100.28 L618.63,100.54 L619.66,100.80 L620.68,101.06 L621.70,101.32 L622.72,101.58 L623.74,101.85 L624.76,102.11 L625.78,102.38 L626.80,102.65 L627.82,102.92 L628.84,103.19 L629.86,103.46 L630.88,103.74 L631.89,104.01 L632.91,104.29 L633.92,104.57 L634.94,104.86 L635.95,105.14 L636.96,105.43 L637.97,105.72 L638.98,106.02 L639.99,106.31 L641.00,106.61 L642.01,106.92 L643.01,107.22 L644.01,107.53 L645.01,107.85 L646.01,108.16 L647.01,108.48 L648.01,108.81 L649.00,109.13 L650.00,109.46 L650.99,109.80 L651.98,110.14 L652.97,110.48 L653.95,110.83 L654.94,111.18 L655.92,111.54 L656.90,111.90 L657.87,112.27 L658.85,112.64 L659.82,113.01 L660.79,113.39 L661.76,113.78 L662.72,114.17 L663.69,114.57 L664.65,114.97 L665.60,115.38 L666.56,115.79 L667.51,116.21 L668.46,116.64 L669.40,117.07 L670.35,117.50 L671.29,117.95 L672.22,118.40 L673.16,118.85 L674.09,119.31 L675.01,119.78 L675.94,120.26 L676.86,120.74 L677.78,121.22 L678.69,121.71 L679.60,122.21 L680.51,122.71 L681.42,123.22 L682.32,123.74 L683.22,124.26 L684.11,124.78 L685.00,125.32 L685.89,125.85 L686.78,126.40 L687.66,126.95 L688.53,127.50 L689.41,128.06 L690.28,128.63 L691.14,129.20 L692.01,129.78 L692.87,130.36 L693.72,130.95 L694.57,131.54 L695.42,132.14 L696.27,132.75 L697.11,133.36 L697.94,133.97 L698.78,134.59 L699.61,135.22 L700.43,135.85 L701.25,136.48 L702.07,137.13 L702.88,137.77 L703.69,138.42 L704.50,139.08 L705.30,139.74 L706.09,140.41 L706.89,141.08 L707.68,141.76 L708.46,142.44 L709.24,143.13 L710.02,143.82 L710.79,144.52 L711.55,145.22 L712.32,145.92 L713.08,146.64 L713.83,147.35 L714.58,148.07 L715.33,148.80 L716.07,149.53 L716.80,150.26 L717.53,151.00 L718.26,151.75 L718.98,152.50 L719.70,153.25 L720.42,154.01 L721.12,154.77 L721.83,155.54 L722.53,156.31 L723.22,157.09 L723.91,157.87 L724.60,158.65 L725.28,159.44 L725.96,160.23 L726.63,161.03 L727.29,161.83 L727.96,162.64 L728.62,163.45 L729.27,164.26 L729.92,165.07 L730.57,165.90 L731.21,166.72 L731.85,167.55 L732.48,168.38 L733.11,169.21 L733.73,170.05 L734.35,170.89 L734.97,171.74 L735.58,172.59 L736.19,173.44 L736.80,174.29 L737.40,175.15 L737.99,176.01 L738.59,176.87 L739.18,177.74 L739.76,178.61 L740.34,179.48 L740.92,180.36 L741.50,181.23 L742.07,182.11 L742.63,183.00 L743.20,183.88 L743.76,184.77 L744.32,185.66 L744.87,186.55 L745.42,187.45 L745.97,188.34 L746.51,189.24 L747.05,190.14 L747.58,191.05 L748.12,191.95 L748.65,192.86 L749.18,193.77 L749.70,194.68 L750.22,195.59 L750.74,196.50 L751.25,197.42 L751.76,198.33 L752.27,199.25 L752.78,200.17 L753.28,201.09 L753.78,202.01 L754.28,202.94 L754.77,203.86 L755.26,204.79 L755.75,205.71 L756.24,206.64 L756.72,207.57 L757.20,208.50 L757.68,209.43 L758.16,210.36 L758.63,211.29 L759.10,212.23 L759.57,213.16 L760.04,214.09 L760.50,215.03 L760.96,215.96 L761.42,216.90 L761.88,217.84 L762.33,218.77 L762.78,219.71 L763.23,220.65 L763.68,221.59 L764.13,222.53 L764.57,223.47 L765.01,224.41 L765.45,225.36 L765.89,226.30 L766.32,227.24 L766.75,228.19 L767.18,229.14 L767.61,230.08 L768.04,231.03 L768.47,231.98 L768.89,232.92 L769.31,233.87 L769.73,234.82 L770.15,235.77 L770.56,236.72 L770.98,237.67 L771.39,238.63 L771.80,239.58 L772.21,240.53 L772.62,241.49 L773.02,242.44 L773.43,243.40 L773.83,244.35 L774.23,245.31 L774.63,246.27 L775.03,247.23 L775.42,248.18 L775.82,249.14 L776.21,250.10 L776.61,251.06 L777.00,252.02 L777.39,252.99 L777.78,253.95 L778.16,254.91 L778.55,255.87 L778.93,256.84 L779.32,257.80 L779.70,258.77 L780.08,259.73 L780.46,260.70 L780.84,261.67 L781.22,262.64 L781.60,263.60 L781.98,264.57 L782.35,265.54 L782.73,266.51 L783.10,267.48 L783.47,268.45 L783.84,269.43 L784.22,270.40 L784.59,271.37 L784.96,272.34 L785.32,273.32 L785.69,274.29 L786.06,275.27 L786.43,276.24 L786.79,277.22 L787.16,278.19 L787.52,279.17 L787.88,280.15 L788.24,281.13 L788.61,282.10 L788.97,283.08 L789.33,284.06 L789.68,285.04 L790.04,286.02 L790.40,287.00 L790.76,287.98 L791.11,288.96 L791.47,289.95 L791.82,290.93 L792.17,291.91 L792.52,292.89 L792.87,293.88 L793.22,294.86 L793.57,295.85 L793.92,296.83 L794.27,297.81 L794.62,298.80 L794.96,299.79 L795.31,300.77 L795.65,301.76 L795.99,302.74 L796.34,303.73 L796.68,304.72 L797.02,305.71 L797.36,306.69 L797.70,307.68 L798.04,308.67 L798.37,309.66 L798.71,310.65 L799.04,311.64 L799.38,312.63 L799.71,313.62 L800.05,314.61 L800.38,315.60 L800.71,316.59 L801.04,317.58 L801.37,318.57 L801.70,319.56 L802.02,320.55 L802.35,321.54 L802.68,322.53 L803.00,323.53 L803.32,324.52 L803.65,325.51 L803.97,326.50 L804.29,327.50 L804.61,328.49 L804.93,329.48 L805.25,330.47 L805.57,331.47 L805.88,332.46 L806.20,333.45 L806.51,334.45 L806.83,335.44 L807.14,336.44 L807.45,337.43 L807.76,338.43 L808.07,339.42 L808.37,340.42 L808.68,341.41 L808.98,342.41 L809.29,343.41 L809.59,344.40 L809.88,345.40 L810.18,346.40 L810.48,347.40 L810.77,348.39 L811.06,349.39 L811.35,350.39 L811.64,351.39 L811.92,352.39 L812.21,353.40 L812.49,354.40 L812.76,355.40 L813.04,356.40 L813.31,357.41 L813.59,358.41 L813.85,359.42 L814.12,360.42 L814.39,361.43 L814.65,362.44 L814.91,363.45 L815.16,364.46 L815.41,365.46 L815.66,366.48 L815.91,367.49 L816.16,368.50 L816.40,369.51 L816.64,370.53 L816.87,371.54 L817.10,372.56 L817.33,373.57 L817.56,374.59 L817.78,375.61 L818.00,376.63 L818.21,377.65 L818.42,378.67 L818.63,379.69 L818.84,380.72 L819.04,381.74 L819.23,382.77 L819.43,383.80 L819.62,384.83 L819.80,385.85 L819.98,386.89 L820.16,387.92 L820.34,388.95 L820.51,389.98 L820.67,391.02 L820.83,392.06" stroke="#ff8000" stroke-width="1.9"/>
<path d="M550.17,31.36 L551.08,31.51 L552.00,31.65 L552.91,31.80 L553.83,31.94 L554.75,32.09 L555.67,32.24 L556.59,32.38 L557.51,32.53 L558.44,32.68 L559.36,32.83 L560.29,32.98 L561.21,33.13 L562.14,33.28 L563.07,33.43 L563.99,33.58 L564.92,33.74 L565.85,33.89 L566.78,34.05 L567.71,34.20 L568.64,34.36 L569.58,34.52 L570.51,34.68 L571.44,34.85 L572.37,35.01 L573.31,35.18 L574.24,35.35 L575.17,35.52 L576.11,35.69 L577.04,35.87 L577.97,36.04 L578.91,36.22 L579.84,36.40 L580.77,36.59 L581.71,36.77 L582.64,36.96 L583.57,37.15 L584.50,37.35 L585.44,37.54 L586.37,37.74 L587.30,37.95 L588.23,38.15 L589.16,38.36 L590.09,38.57 L591.02,38.79 L591.95,39.01 L592.87,39.23 L593.80,39.45 L594.73,39.68 L595.65,39.92 L596.58,40.15 L597.50,40.39 L598.42,40.64 L599.34,40.88 L600.26,41.14 L601.18,41.39 L602.10,41.65 L603.02,41.92 L603.93,42.19 L604.85,42.46 L605.76,42.74 L606.67,43.02 L607.58,43.31 L608.49,43.60 L609.40,43.90 L610.30,44.20 L611.20,44.51 L612.11,44.82 L613.01,45.14 L613.90,45.46 L614.80,45.79 L615.69,46.12 L616.59,46.46 L617.48,46.80 L618.37,47.15 L619.25,47.50 L620.13,47.86 L621.02,48.22 L621.90,48.59 L622.77,48.96 L623.65,49.34 L624.52,49.73 L625.39,50.12 L626.25,50.52 L627.12,50.92 L627.98,51.33 L628.84,51.74 L629.69,52.16 L630.54,52.59 L631.39,53.02 L632.24,53.45 L633.08,53.90 L633.92,54.34 L634.76,54.80 L635.59,55.26 L636.42,55.73 L637.25,56.20 L638.07,56.68 L638.89,57.16 L639.71,57.65 L640.52,58.15 L641.33,58.65 L642.14,59.16 L642.94,59.67 L643.74,60.19 L644.53,60.71 L645.33,61.24 L646.11,61.78 L646.90,62.32 L647.68,62.86 L648.46,63.41 L649.23,63.97 L650.00,64.53 L650.76,65.09 L651.52,65.66 L652.28,66.24 L653.03,66.81 L653.78,67.40 L654.53,67.99 L655.27,68.58 L656.00,69.18 L656.74,69.78 L657.47,70.38 L658.19,70.99 L658.91,71.61 L659.63,72.22 L660.34,72.84 L661.05,73.47 L661.75,74.10 L662.45,74.73 L663.14,75.37 L663.83,76.01 L664.52,76.65 L665.20,77.30 L665.88,77.95 L666.55,78.61 L667.22,79.27 L667.89,79.93 L668.55,80.60 L669.21,81.27 L669.86,81.94 L670.51,82.62 L671.16,83.30 L671.80,83.98 L672.44,84.67 L673.07,85.36 L673.70,86.05 L674.33,86.75 L674.95,87.45 L675.57,88.15 L676.19,88.86 L676.80,89.57 L677.41,90.28 L678.02,90.99 L678.62,91.71 L679.22,92.43 L679.81,93.16 L680.40,93.89 L680.99,94.62 L681.58,95.35 L682.16,96.09 L682.73,96.83 L683.31,97.57 L683.88,98.31 L684.45,99.06 L685.01,99.81 L685.58,100.56 L686.13,101.32 L686.69,102.08 L687.24,102.84 L687.79,103.60 L688.34,104.37 L688.88,105.13 L689.42,105.91 L689.96,106.68 L690.49,107.45 L691.03,108.23 L691.55,109.01 L692.08,109.80 L692.60,110.58 L693.12,111.37 L693.64,112.16 L694.16,112.95 L694.67,113.74 L695.18,114.54 L695.68,115.34 L696.19,116.14 L696.69,116.94 L697.19,117.74 L697.69,118.55 L698.18,119.36 L698.67,120.17 L699.16,120.98 L699.65,121.79 L700.13,122.61 L700.62,123.43 L701.10,124.25 L701.58,125.07 L702.05,125.89 L702.52,126.71 L703.00,127.54 L703.46,128.37 L703.93,129.20 L704.40,130.03 L704.86,130.86 L705.32,131.69 L705.78,132.53 L706.24,133.36 L706.69,134.20 L707.14,135.04 L707.59,135.88 L708.04,136.72 L708.49,137.57 L708.94,138.41 L709.38,139.26 L709.82,140.10 L710.26,140.95 L710.70,141.80 L711.14,142.65 L711.57,143.50 L712.01,144.36 L712.44,145.21 L712.87,146.06 L713.30,146.92 L713.73,147.77 L714.15,148.63 L714.58,149.49 L715.00,150.35 L715.42,151.21 L715.84,152.07 L716.26,152.93 L716.68,153.79 L717.10,154.65 L717.51,155.52 L717.93,156.38 L718.34,157.24 L718.75,158.11 L719.17,158.97 L719.58,159.84 L719.99,160.71 L720.39,161.57 L720.80,162.44 L721.21,163.31 L721.61,164.17 L722.02,165.04 L722.42,165.91 L722.82,166.78 L723.22,167.65 L723.62,168.52 L724.03,169.39 L724.42,170.25 L724.82,171.12 L725.22,171.99 L725.62,172.86 L726.02,173.73 L726.41,174.60 L726.81,175.47 L727.20,176.34 L727.60,177.21 L727.99,178.08 L728.38,178.95 L728.77,179.82 L729.17,180.69 L729.56,181.56 L729.95,182.43 L730.34,183.30 L730.72,184.17 L731.11,185.05 L731.50,185.92 L731.89,186.79 L732.27,187.66 L732.66,188.53 L733.04,189.40 L733.42,190.27 L733.81,191.15 L734.19,192.02 L734.57,192.89 L734.95,193.76 L735.33,194.63 L735.71,195.51 L736.09,196.38 L736.47,197.25 L736.85,198.12 L737.23,199.00 L737.60,199.87 L737.98,200.74 L738.35,201.62 L738.73,202.49 L739.10,203.36 L739.47,204.24 L739.85,205.11 L740.22,205.98 L740.59,206.86 L740.96,207.73 L741.33,208.61 L741.70,209.48 L742.07,210.36 L742.44,211.23 L742.80,212.11 L743.17,212.98 L743.54,213.86 L743.90,214.73 L744.27,215.61 L744.63,216.48 L745.00,217.36 L745.36,218.23 L745.72,219.11 L746.08,219.99 L746.44,220.86 L746.80,221.74 L747.16,222.62 L747.52,223.49 L747.88,224.37 L748.24,225.25 L748.60,226.12 L748.95,227.00 L749.31,227.88 L749.66,228.76 L750.02,229.64 L750.37,230.51 L750.73,231.39 L751.08,232.27 L751.43,233.15 L751.78,234.03 L752.14,234.91 L752.49,235.79 L752.84,236.67 L753.18,237.55 L753.53,238.43 L753.88,239.31 L754.23,240.19 L754.58,241.07 L754.92,241.95 L755.27,242.83 L755.61,243.71 L755.96,244.59 L756.30,245.47 L756.65,246.35 L756.99,247.23 L757.33,248.11 L757.67,249.00 L758.01,249.88 L758.35,250.76 L758.69,251.64 L759.03,252.53 L759.37,253.41 L759.71,254.29 L760.05,255.17 L760.38,256.06 L760.72,256.94 L761.06,257.83 L761.39,258.71 L761.72,259.59 L762.06,260.48 L762.39,261.36 L762.73,262.25 L763.06,263.13 L763.39,264.02 L763.72,264.90 L764.05,265.79 L764.38,266.67 L764.71,267.56 L765.04,268.45 L765.37,269.33 L765.70,270.22 L766.02,271.11 L766.35,271.99 L766.68,272.88 L767.00,273.77 L767.33,274.66 L767.65,275.54 L767.97,276.43 L768.30,277.32 L768.62,278.21 L768.94,279.10 L769.26,279.99 L769.59,280.87 L769.91,281.76 L770.23,282.65 L770.55,283.54 L770.87,284.43 L771.18,285.32 L771.50,286.21 L771.82,287.11 L772.14,288.00 L772.45,288.89 L772.77,289.78 L773.08,290.67 L773.40,291.56 L773.71,292.45 L774.03,293.35 L774.34,294.24 L774.65,295.13 L774.96,296.03 L775.28,296.92 L775.59,297.81 L775.90,298.71 L776.21,299.60 L776.52,300.49 L776.83,301.39 L777.13,302.28 L777.44,303.18 L777.75,304.07 L778.06,304.97 L778.36,305.87 L778.67,306.76 L778.97,307.66 L779.28,308.55 L779.58,309.45 L779.89,310.35 L780.19,311.25 L780.49,312.14 L780.80,313.04 L781.10,313.94 L781.40,314.84 L781.70,315.74 L782.00,316.63 L782.30,317.53 L782.60,318.43 L782.90,319.33 L783.20,320.23 L783.50,321.13 L783.79,322.03 L784.09,322.93 L784.39,323.83 L784.68,324.74 L784.98,325.64 L785.27,326.54 L785.57,327.44 L785.86,328.34 L786.16,329.24 L786.45,330.15 L786.74,331.05 L787.03,331.95 L787.33,332.86 L787.62,333.76 L787.91,334.67 L788.20,335.57 L788.49,336.47 L788.78,337.38 L789.07,338.29 L789.36,339.19 L789.64,340.10 L789.93,341.00 L790.22,341.91 L790.50,342.82 L790.79,343.72 L791.08,344.63 L791.36,345.54 L791.65,346.45 L791.93,347.35 L792.21,348.26 L792.50,349.17 L792.78,350.08 L793.06,350.99 L793.35,351.90 L793.63,352.81 L793.91,353.72 L794.19,354.63 L794.47,355.54 L794.75,356.45 L795.03,357.36 L795.31,358.28 L795.59,359.19 L795.86,360.10 L796.14,361.01 L796.42,361.93 L796.70,362.84 L796.97,363.75 L797.25,364.67 L797.52,365.58 L797.80,366.49 L798.07,367.41 L798.35,368.33 L798.62,369.24 L798.90,370.16 L799.17,371.07 L799.44,371.99 L799.71,372.91 L799.99,373.82 L800.26,374.74 L800.53,375.66 L800.80,376.58 L801.07,377.49 L801.34,378.41 L801.61,379.33 L801.88,380.25 L802.15,381.17 L802.41,382.09 L802.68,383.01 L802.95,383.93 L803.22,384.85 L803.48,385.77 L803.75,386.70 L804.01,387.62 L804.28,388.54 L804.54,389.46 L804.81,390.39 L805.07,391.31 L805.34,392.23" stroke="#ff0505" stroke-width="1.9"/>
</g>
<g fill="none">
<circle cx="812.4" cy="282.8" r="3.1" stroke="#cc10ff" stroke-width="0.75" opacity="0.8"/>
<circle cx="827.8" cy="292.9" r="3.1" stroke="#cc10ff" stroke-width="0.75" opacity="0.8"/>
<line x1="844" y1="291.9" x2="844" y2="309.8" stroke="#cc10ff" stroke-width="1.35"/>
<circle cx="797.3" cy="266.7" r="3.1" stroke="#6a0dff" stroke-width="0.75" opacity="0.8"/>
<circle cx="816.8" cy="280.2" r="3.1" stroke="#6a0dff" stroke-width="0.75" opacity="0.8"/>
<line x1="834.8" y1="281.1" x2="834.8" y2="298.5" stroke="#6a0dff" stroke-width="1.35"/>
<circle cx="779.3" cy="248.4" r="3.1" stroke="#5596ff" stroke-width="0.75" opacity="0.8"/>
<circle cx="803.7" cy="264.8" r="3.1" stroke="#5596ff" stroke-width="0.75" opacity="0.8"/>
<line x1="823.6" y1="266.7" x2="823.6" y2="283.8" stroke="#5596ff" stroke-width="1.35"/>
<circle cx="760.3" cy="226.9" r="3.1" stroke="#33ff00" stroke-width="0.75" opacity="0.8"/>
<circle cx="788.4" cy="246.5" r="3.1" stroke="#33ff00" stroke-width="0.75" opacity="0.8"/>
<line x1="810" y1="248.3" x2="810" y2="265.8" stroke="#33ff00" stroke-width="1.35"/>
<circle cx="737.6" cy="200.7" r="3.1" stroke="#ccff10" stroke-width="0.75" opacity="0.8"/>
<circle cx="769.1" cy="222.5" r="3.1" stroke="#ccff10" stroke-width="0.75" opacity="0.8"/>
<line x1="793.1" y1="225.3" x2="793.1" y2="242.8" stroke="#ccff10" stroke-width="1.35"/>
<circle cx="710.6" cy="167.1" r="3.1" stroke="#ffd61e" stroke-width="0.75" opacity="0.8"/>
<circle cx="745.6" cy="191.8" r="3.1" stroke="#ffd61e" stroke-width="0.75" opacity="0.8"/>
<line x1="770.6" y1="194.9" x2="770.6" y2="212.2" stroke="#ffd61e" stroke-width="1.35"/>
<circle cx="677.3" cy="121.0" r="3.1" stroke="#ff8000" stroke-width="0.75" opacity="0.8"/>
<circle cx="714.2" cy="147.7" r="3.1" stroke="#ff8000" stroke-width="0.75" opacity="0.8"/>
<line x1="739.7" y1="151.5" x2="739.7" y2="168.7" stroke="#ff8000" stroke-width="1.35"/>
<circle cx="631.4" cy="53.0" r="3.1" stroke="#ff0505" stroke-width="0.75" opacity="0.8"/>
<circle cx="664.5" cy="76.6" r="3.1" stroke="#ff0505" stroke-width="0.75" opacity="0.8"/>
<line x1="691.5" y1="82.1" x2="691.5" y2="99.6" stroke="#ff0505" stroke-width="1.35"/>
</g>
<g fill="#000" color="#000">
<path d="M87.20,397.15L89.25,395.25V404.70" fill="none" stroke="#000" stroke-width="1.15" stroke-linejoin="round"/><text class="s" transform="translate(93.22,404.70) scale(1.2,1)" font-size="13.5">0</text><path d="M103.85,395.55h5.3" stroke="#000" stroke-width="1.0" fill="none"/><path d="M111.25,393.60L112.55,392.35V398.50" fill="none" stroke="#000" stroke-width="1.0" stroke-linejoin="round"/>
<path d="M480.70,397.15L482.75,395.25V404.70" fill="none" stroke="#000" stroke-width="1.15" stroke-linejoin="round"/><text class="s" transform="translate(486.72,404.70) scale(1.2,1)" font-size="13.5">0</text><path d="M497.35,395.55h5.3" stroke="#000" stroke-width="1.0" fill="none"/><path d="M504.75,393.60L506.05,392.35V398.50" fill="none" stroke="#000" stroke-width="1.0" stroke-linejoin="round"/>
<path d="M208.82,397.15L210.87,395.25V404.70" fill="none" stroke="#000" stroke-width="1.15" stroke-linejoin="round"/><text class="s" transform="translate(214.83,404.70) scale(1.2,1)" font-size="13.5">0</text><text class="s" transform="translate(225.07,398.50) scale(1.12,1)" font-size="9.0" stroke="currentColor" stroke-width="0.3">0</text>
<path d="M602.32,397.15L604.37,395.25V404.70" fill="none" stroke="#000" stroke-width="1.15" stroke-linejoin="round"/><text class="s" transform="translate(608.33,404.70) scale(1.2,1)" font-size="13.5">0</text><text class="s" transform="translate(618.57,398.50) scale(1.12,1)" font-size="9.0" stroke="currentColor" stroke-width="0.3">0</text>
<path d="M329.28,397.15L331.33,395.25V404.70" fill="none" stroke="#000" stroke-width="1.15" stroke-linejoin="round"/><text class="s" transform="translate(335.30,404.70) scale(1.2,1)" font-size="13.5">0</text><path d="M346.23,393.60L347.53,392.35V398.50" fill="none" stroke="#000" stroke-width="1.0" stroke-linejoin="round"/>
<path d="M722.78,397.15L724.83,395.25V404.70" fill="none" stroke="#000" stroke-width="1.15" stroke-linejoin="round"/><text class="s" transform="translate(728.80,404.70) scale(1.2,1)" font-size="13.5">0</text><path d="M739.73,393.60L741.03,392.35V398.50" fill="none" stroke="#000" stroke-width="1.0" stroke-linejoin="round"/>
<path d="M447.35,397.15L449.40,395.25V404.70" fill="none" stroke="#000" stroke-width="1.15" stroke-linejoin="round"/><text class="s" transform="translate(453.37,404.70) scale(1.2,1)" font-size="13.5">0</text><text class="s" transform="translate(463.50,398.50) scale(1.12,1)" font-size="9.0" stroke="currentColor" stroke-width="0.3">2</text>
<path d="M840.85,397.15L842.90,395.25V404.70" fill="none" stroke="#000" stroke-width="1.15" stroke-linejoin="round"/><text class="s" transform="translate(846.87,404.70) scale(1.2,1)" font-size="13.5">0</text><text class="s" transform="translate(857.00,398.50) scale(1.12,1)" font-size="9.0" stroke="currentColor" stroke-width="0.3">2</text>
<path d="M75.35,36.75L77.40,34.85V44.30" fill="none" stroke="#000" stroke-width="1.15" stroke-linejoin="round"/><text class="s" transform="translate(81.37,44.30) scale(1.2,1)" font-size="13.5">0</text><path d="M92.30,33.20L93.60,31.95V38.10" fill="none" stroke="#000" stroke-width="1.0" stroke-linejoin="round"/>
<path d="M75.35,91.26L77.40,89.36V98.81" fill="none" stroke="#000" stroke-width="1.15" stroke-linejoin="round"/><text class="s" transform="translate(81.37,98.81) scale(1.2,1)" font-size="13.5">0</text><text class="s" transform="translate(91.61,92.61) scale(1.12,1)" font-size="9.0" stroke="currentColor" stroke-width="0.3">0</text>
<path d="M68.25,149.72L70.30,147.82V157.27" fill="none" stroke="#000" stroke-width="1.15" stroke-linejoin="round"/><text class="s" transform="translate(74.27,157.27) scale(1.2,1)" font-size="13.5">0</text><path d="M84.90,148.12h5.3" stroke="#000" stroke-width="1.0" fill="none"/><path d="M92.30,146.17L93.60,144.92V151.07" fill="none" stroke="#000" stroke-width="1.0" stroke-linejoin="round"/>
<path d="M68.25,208.17L70.30,206.28V215.72" fill="none" stroke="#000" stroke-width="1.15" stroke-linejoin="round"/><text class="s" transform="translate(74.27,215.72) scale(1.2,1)" font-size="13.5">0</text><path d="M84.90,206.58h5.3" stroke="#000" stroke-width="1.0" fill="none"/><text class="s" transform="translate(90.90,209.53) scale(1.12,1)" font-size="9.0" stroke="currentColor" stroke-width="0.3">2</text>
<path d="M68.25,266.63L70.30,264.73V274.18" fill="none" stroke="#000" stroke-width="1.15" stroke-linejoin="round"/><text class="s" transform="translate(74.27,274.18) scale(1.2,1)" font-size="13.5">0</text><path d="M84.90,265.03h5.3" stroke="#000" stroke-width="1.0" fill="none"/><text class="s" transform="translate(91.02,267.98) scale(1.12,1)" font-size="9.0" stroke="currentColor" stroke-width="0.3">3</text>
<path d="M68.25,325.09L70.30,323.19V332.64" fill="none" stroke="#000" stroke-width="1.15" stroke-linejoin="round"/><text class="s" transform="translate(74.27,332.64) scale(1.2,1)" font-size="13.5">0</text><path d="M84.90,323.49h5.3" stroke="#000" stroke-width="1.0" fill="none"/><text class="s" transform="translate(91.17,326.44) scale(1.12,1)" font-size="9.0" stroke="currentColor" stroke-width="0.3">4</text>
<path d="M68.25,378.05L70.30,376.15V385.60" fill="none" stroke="#000" stroke-width="1.15" stroke-linejoin="round"/><text class="s" transform="translate(74.27,385.60) scale(1.2,1)" font-size="13.5">0</text><path d="M84.90,376.45h5.3" stroke="#000" stroke-width="1.0" fill="none"/><text class="s" transform="translate(91.00,379.40) scale(1.12,1)" font-size="9.0" stroke="currentColor" stroke-width="0.3">5</text>
</g>
<g fill="#000">
<text class="i" transform="translate(136.18,75.90) scale(1.05,1)" font-size="15" stroke="#000" stroke-width="0.2">F</text>
<path d="M146.6,69.30h8.3M146.6,73.00h8.3" stroke="#000" stroke-width="1.25" fill="none"/>
<text class="s" transform="translate(156.52,75.90) scale(1.05,1)" font-size="13.8">9</text>
<text class="i" transform="translate(136.18,134.50) scale(1.05,1)" font-size="15" stroke="#000" stroke-width="0.2">F</text>
<path d="M146.6,127.90h8.3M146.6,131.60h8.3" stroke="#000" stroke-width="1.25" fill="none"/>
<text class="s" transform="translate(156.62,134.50) scale(1.05,1)" font-size="13.8">8</text>
<text class="i" transform="translate(136.18,169.40) scale(1.05,1)" font-size="15" stroke="#000" stroke-width="0.2">F</text>
<path d="M146.6,162.80h8.3M146.6,166.50h8.3" stroke="#000" stroke-width="1.25" fill="none"/>
<text class="s" transform="translate(156.53,169.40) scale(1.05,1)" font-size="13.8">7</text>
<text class="i" transform="translate(136.18,197.10) scale(1.05,1)" font-size="15" stroke="#000" stroke-width="0.2">F</text>
<path d="M146.6,190.50h8.3M146.6,194.20h8.3" stroke="#000" stroke-width="1.25" fill="none"/>
<text class="s" transform="translate(156.62,197.10) scale(1.05,1)" font-size="13.8">6</text>
<text class="i" transform="translate(136.18,290.70) scale(1.05,1)" font-size="15" stroke="#000" stroke-width="0.2">F</text>
<path d="M146.6,284.10h8.3M146.6,287.80h8.3" stroke="#000" stroke-width="1.25" fill="none"/>
<text class="s" transform="translate(156.48,290.70) scale(1.05,1)" font-size="13.8">2</text>
</g>
<g fill="#ff0505">
<text class="i" transform="translate(274.28,88.90) scale(1.1,1)" font-size="14.3" stroke="#ff0505" stroke-width="0.2">R</text>
<path d="M285.20,87.45L286.50,86.20V92.30" fill="none" stroke="#ff0505" stroke-width="1.0" stroke-linejoin="round"/>
<text class="i" transform="translate(303.68,106.40) scale(1.1,1)" font-size="14.3" stroke="#ff0505" stroke-width="0.2">R</text>
<text class="s" transform="translate(312.81,109.80) scale(1.1,1)" font-size="9.0" stroke="#ff0505" stroke-width="0.3">2</text>
<text class="i" transform="translate(327.88,116.90) scale(1.1,1)" font-size="14.3" stroke="#ff0505" stroke-width="0.2">R</text>
<circle cx="339.90" cy="118.00" r="1.75" fill="none" stroke="#ff0505" stroke-width="1.15"/>
</g>
<g fill="#2a2a2a">
<text class="s" transform="translate(423.3,424.5) scale(1.1,1)" font-size="13" letter-spacing="0.75">radius</text>
<text class="i" transform="translate(480.63,424.50) scale(1.3,1)" font-size="14.5">r</text>
<path d="M495.9,428.6L504.2,413.9" stroke="#2a2a2a" stroke-width="1.05" fill="none"/>
<text class="i" transform="translate(513.08,424.50) scale(1.28,1)" font-size="13.0">R</text>
<g fill="none" stroke="#2a2a2a" stroke-width="0.9"><circle cx="525.1" cy="427.0" r="1.6"/><path d="M523.5,427.0h3.2"/></g>
<g transform="translate(51.3,268.0) rotate(-90)">
<text class="s" transform="scale(1.1,1)" font-size="13" letter-spacing="0.5">density</text>
<text class="s" transform="translate(68.2,0) scale(1.1,1)" font-size="13.5" font-style="italic">ρ</text>
<path d="M84.8,3.6L94.0,-11.2" stroke="#2a2a2a" stroke-width="1.05" fill="none"/>
<text class="s" transform="translate(101.0,0) scale(1.1,1)" font-size="13.5" font-style="italic">ρ</text>
<g fill="none" stroke="#2a2a2a" stroke-width="0.9"><circle cx="112.4" cy="1.7" r="1.6"/><path d="M110.8,1.7h3.2"/></g>
</g>
</g>
</svg></body></html>
